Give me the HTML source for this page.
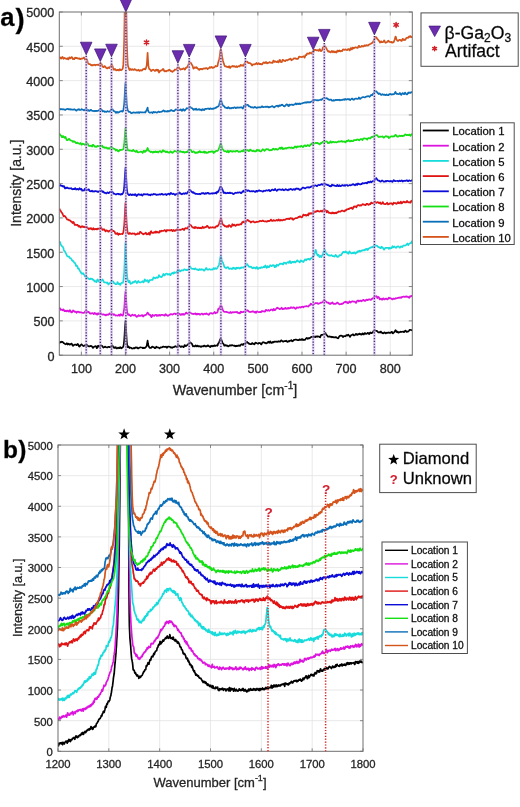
<!DOCTYPE html><html><head><meta charset="utf-8"><style>html,body{margin:0;padding:0;background:#fff;}svg{display:block;filter:blur(0.35px);} text{font-family:"Liberation Sans",sans-serif;fill:#262626;stroke:#262626;stroke-width:0.3px;}</style></head><body>
<svg width="520" height="807" viewBox="0 0 520 807">
<rect width="520" height="807" fill="#fff"/>
<defs><clipPath id="ca"><rect x="59.3" y="12.0" width="353.0" height="343.2"/></clipPath>
<clipPath id="cb"><rect x="58.0" y="445.0" width="305.0" height="306.3"/></clipPath></defs>
<path d="M81.36,12.0V355.2M125.49,12.0V355.2M169.61,12.0V355.2M213.74,12.0V355.2M257.86,12.0V355.2M301.99,12.0V355.2M346.11,12.0V355.2M390.24,12.0V355.2M59.3,320.88H412.3M59.3,286.56H412.3M59.3,252.24H412.3M59.3,217.92H412.3M59.3,183.60H412.3M59.3,149.28H412.3M59.3,114.96H412.3M59.3,80.64H412.3M59.3,46.32H412.3" stroke="#e3e3e3" stroke-width="0.8" fill="none"/>
<path d="M108.83,445.0V751.3M159.67,445.0V751.3M210.50,445.0V751.3M261.33,445.0V751.3M312.17,445.0V751.3M58.0,720.67H363.0M58.0,690.04H363.0M58.0,659.41H363.0M58.0,628.78H363.0M58.0,598.15H363.0M58.0,567.52H363.0M58.0,536.89H363.0M58.0,506.26H363.0M58.0,475.63H363.0" stroke="#e3e3e3" stroke-width="0.8" fill="none"/>
<g clip-path="url(#ca)" fill="none" stroke-width="1.7" stroke-linejoin="round">
<path d="M59.3,342.6 L59.7,342.8 L60.2,342.1 L60.6,341.9 L61.1,342.3 L61.5,342.1 L61.9,341.7 L62.4,341.9 L62.8,342.2 L63.3,342.7 L63.7,343.1 L64.2,343.3 L64.6,343.8 L65.0,343.9 L65.5,344.0 L65.9,344.3 L66.4,343.7 L66.8,343.2 L67.2,343.9 L67.7,344.5 L68.1,344.1 L68.6,343.7 L69.0,343.9 L69.4,344.4 L69.9,344.7 L70.3,344.3 L70.8,343.9 L71.2,343.6 L71.7,343.6 L72.1,344.4 L72.5,345.4 L73.0,345.8 L73.4,345.4 L73.9,345.1 L74.3,344.9 L74.7,344.5 L75.2,344.6 L75.6,344.7 L76.1,344.7 L76.5,345.1 L76.9,345.2 L77.4,344.3 L77.8,344.0 L78.3,344.6 L78.7,345.7 L79.2,346.5 L79.6,346.6 L80.0,346.0 L80.5,345.2 L80.9,344.8 L81.4,344.4 L81.8,344.4 L82.2,345.0 L82.7,345.5 L83.1,345.8 L83.6,346.1 L84.0,346.0 L84.5,345.5 L84.9,345.3 L85.3,345.5 L85.8,345.4 L86.2,344.8 L86.7,344.6 L87.1,345.1 L87.5,345.7 L88.0,346.1 L88.4,346.2 L88.9,346.3 L89.3,346.4 L89.7,346.4 L90.2,346.0 L90.6,345.9 L91.1,346.2 L91.5,346.1 L92.0,346.4 L92.4,347.1 L92.8,347.9 L93.3,347.7 L93.7,347.0 L94.2,346.7 L94.6,346.5 L95.0,346.4 L95.5,346.3 L95.9,346.1 L96.4,347.0 L96.8,348.2 L97.2,347.7 L97.7,346.2 L98.1,345.6 L98.6,346.2 L99.0,346.8 L99.5,346.5 L99.9,346.0 L100.3,346.0 L100.8,345.8 L101.2,345.4 L101.7,345.7 L102.1,346.0 L102.5,346.3 L103.0,347.2 L103.4,347.6 L103.9,347.3 L104.3,347.2 L104.7,346.8 L105.2,346.6 L105.6,346.9 L106.1,347.2 L106.5,347.3 L107.0,347.4 L107.4,347.5 L107.8,347.2 L108.3,346.8 L108.7,346.8 L109.2,346.8 L109.6,347.2 L110.0,347.0 L110.5,346.7 L110.9,347.1 L111.4,346.5 L111.8,345.3 L112.2,345.2 L112.7,345.9 L113.1,347.0 L113.6,347.6 L114.0,347.3 L114.5,347.4 L114.9,348.0 L115.3,347.6 L115.8,347.1 L116.2,347.7 L116.7,348.4 L117.1,348.4 L117.5,348.1 L118.0,347.7 L118.4,347.7 L118.9,348.3 L119.3,348.2 L119.8,347.5 L120.2,347.2 L120.6,347.5 L121.1,348.4 L121.5,348.3 L122.0,347.7 L122.4,347.7 L122.8,347.3 L123.3,346.6 L123.7,344.6 L124.2,340.3 L124.6,334.3 L125.0,326.5 L125.5,320.8 L125.9,326.5 L126.4,335.2 L126.8,341.6 L127.3,345.6 L127.7,347.2 L128.1,346.9 L128.6,346.5 L129.0,347.2 L129.5,348.0 L129.9,347.8 L130.3,347.5 L130.8,347.7 L131.2,347.8 L131.7,348.3 L132.1,348.6 L132.5,348.5 L133.0,348.5 L133.4,348.2 L133.9,347.9 L134.3,348.2 L134.8,348.4 L135.2,347.8 L135.6,347.3 L136.1,347.7 L136.5,347.5 L137.0,347.3 L137.4,348.1 L137.8,348.4 L138.3,348.4 L138.7,348.2 L139.2,347.7 L139.6,347.6 L140.0,347.4 L140.5,347.4 L140.9,347.5 L141.4,347.5 L141.8,347.5 L142.3,347.6 L142.7,348.2 L143.1,348.0 L143.6,347.7 L144.0,348.1 L144.5,347.9 L144.9,347.6 L145.3,347.8 L145.8,347.2 L146.2,346.6 L146.7,345.9 L147.1,343.3 L147.6,340.6 L148.0,343.5 L148.4,345.7 L148.9,346.5 L149.3,347.4 L149.8,347.9 L150.2,347.7 L150.6,347.8 L151.1,347.8 L151.5,347.4 L152.0,346.8 L152.4,346.6 L152.8,347.0 L153.3,347.2 L153.7,347.1 L154.2,347.5 L154.6,348.1 L155.1,348.2 L155.5,347.9 L155.9,347.1 L156.4,346.7 L156.8,347.2 L157.3,347.5 L157.7,347.4 L158.1,347.5 L158.6,347.6 L159.0,347.9 L159.5,348.3 L159.9,348.0 L160.3,347.6 L160.8,347.4 L161.2,347.4 L161.7,347.5 L162.1,347.3 L162.6,347.0 L163.0,346.6 L163.4,346.5 L163.9,346.9 L164.3,347.0 L164.8,346.9 L165.2,346.9 L165.6,346.8 L166.1,346.7 L166.5,347.4 L167.0,347.8 L167.4,347.3 L167.8,346.8 L168.3,346.5 L168.7,346.5 L169.2,346.7 L169.6,346.8 L170.1,347.0 L170.5,347.3 L170.9,347.6 L171.4,347.4 L171.8,347.5 L172.3,347.8 L172.7,347.6 L173.1,347.2 L173.6,347.1 L174.0,347.0 L174.5,346.9 L174.9,346.5 L175.3,346.2 L175.8,346.5 L176.2,346.6 L176.7,346.8 L177.1,347.2 L177.6,346.6 L178.0,345.6 L178.4,345.5 L178.9,345.7 L179.3,345.7 L179.8,346.1 L180.2,346.4 L180.6,346.8 L181.1,346.9 L181.5,346.4 L182.0,346.3 L182.4,346.5 L182.8,346.6 L183.3,347.0 L183.7,347.2 L184.2,346.2 L184.6,345.1 L185.1,345.3 L185.5,346.0 L185.9,346.2 L186.4,345.7 L186.8,345.3 L187.3,345.0 L187.7,344.7 L188.1,344.3 L188.6,343.5 L189.0,343.0 L189.5,342.9 L189.9,342.6 L190.4,342.4 L190.8,342.8 L191.2,343.4 L191.7,343.6 L192.1,344.0 L192.6,345.6 L193.0,346.4 L193.4,346.1 L193.9,346.0 L194.3,346.3 L194.8,346.5 L195.2,346.0 L195.6,345.3 L196.1,345.7 L196.5,346.4 L197.0,346.3 L197.4,345.6 L197.9,345.6 L198.3,346.4 L198.7,346.5 L199.2,346.1 L199.6,346.4 L200.1,346.5 L200.5,346.4 L200.9,346.9 L201.4,346.7 L201.8,346.2 L202.3,346.2 L202.7,346.3 L203.1,346.5 L203.6,346.1 L204.0,345.6 L204.5,345.6 L204.9,346.1 L205.4,346.5 L205.8,346.2 L206.2,346.0 L206.7,346.4 L207.1,346.1 L207.6,345.4 L208.0,345.4 L208.4,345.9 L208.9,346.1 L209.3,346.2 L209.8,346.7 L210.2,347.1 L210.6,346.5 L211.1,345.7 L211.5,345.9 L212.0,346.5 L212.4,346.3 L212.9,345.7 L213.3,345.8 L213.7,346.1 L214.2,345.5 L214.6,345.4 L215.1,345.9 L215.5,345.9 L215.9,345.5 L216.4,345.4 L216.8,345.5 L217.3,345.8 L217.7,345.2 L218.1,343.7 L218.6,343.2 L219.0,342.7 L219.5,341.4 L219.9,339.8 L220.4,338.8 L220.8,338.9 L221.2,339.5 L221.7,340.4 L222.1,341.7 L222.6,342.9 L223.0,343.6 L223.4,343.8 L223.9,344.6 L224.3,345.7 L224.8,345.6 L225.2,345.1 L225.7,345.1 L226.1,345.6 L226.5,345.8 L227.0,345.5 L227.4,345.6 L227.9,346.3 L228.3,346.3 L228.7,346.0 L229.2,345.9 L229.6,345.5 L230.1,345.1 L230.5,345.4 L230.9,345.7 L231.4,345.5 L231.8,345.0 L232.3,345.0 L232.7,345.4 L233.2,345.5 L233.6,345.7 L234.0,345.8 L234.5,345.6 L234.9,345.8 L235.4,346.3 L235.8,346.2 L236.2,345.7 L236.7,346.0 L237.1,346.2 L237.6,345.7 L238.0,345.6 L238.4,345.8 L238.9,345.4 L239.3,345.3 L239.8,345.9 L240.2,345.9 L240.7,345.0 L241.1,344.4 L241.5,344.5 L242.0,344.3 L242.4,344.4 L242.9,345.0 L243.3,344.5 L243.7,343.9 L244.2,343.7 L244.6,343.5 L245.1,343.8 L245.5,343.8 L245.9,342.8 L246.4,342.1 L246.8,341.9 L247.3,342.1 L247.7,342.8 L248.2,342.9 L248.6,343.0 L249.0,343.8 L249.5,343.9 L249.9,343.9 L250.4,344.1 L250.8,344.2 L251.2,344.2 L251.7,343.6 L252.1,343.1 L252.6,343.2 L253.0,343.7 L253.4,344.0 L253.9,343.9 L254.3,344.3 L254.8,343.9 L255.2,342.8 L255.7,342.7 L256.1,342.9 L256.5,343.0 L257.0,343.3 L257.4,343.5 L257.9,343.7 L258.3,343.7 L258.7,343.1 L259.2,342.9 L259.6,343.1 L260.1,343.0 L260.5,343.4 L261.0,344.2 L261.4,344.4 L261.8,343.5 L262.3,342.8 L262.7,342.4 L263.2,342.2 L263.6,342.3 L264.0,342.3 L264.5,342.7 L264.9,343.0 L265.4,342.8 L265.8,343.2 L266.2,343.5 L266.7,343.3 L267.1,342.9 L267.6,342.4 L268.0,342.0 L268.5,341.7 L268.9,341.9 L269.3,342.8 L269.8,342.3 L270.2,341.4 L270.7,342.1 L271.1,342.9 L271.5,342.9 L272.0,342.8 L272.4,342.2 L272.9,341.8 L273.3,342.4 L273.7,342.2 L274.2,341.5 L274.6,341.5 L275.1,341.8 L275.5,341.7 L276.0,341.7 L276.4,341.8 L276.8,341.5 L277.3,341.5 L277.7,341.8 L278.2,341.7 L278.6,341.2 L279.0,341.3 L279.5,341.6 L279.9,341.7 L280.4,341.6 L280.8,340.9 L281.2,340.4 L281.7,340.6 L282.1,340.9 L282.6,341.3 L283.0,341.7 L283.5,341.6 L283.9,341.3 L284.3,341.1 L284.8,341.0 L285.2,341.2 L285.7,341.2 L286.1,340.7 L286.5,341.0 L287.0,341.6 L287.4,342.0 L287.9,341.8 L288.3,341.1 L288.8,341.1 L289.2,341.4 L289.6,341.0 L290.1,340.6 L290.5,340.7 L291.0,340.4 L291.4,340.1 L291.8,340.8 L292.3,341.3 L292.7,341.1 L293.2,340.8 L293.6,340.4 L294.0,339.9 L294.5,339.8 L294.9,339.7 L295.4,339.5 L295.8,339.6 L296.3,339.6 L296.7,339.7 L297.1,340.0 L297.6,340.1 L298.0,340.2 L298.5,340.2 L298.9,340.1 L299.3,339.6 L299.8,339.4 L300.2,339.5 L300.7,339.7 L301.1,340.0 L301.5,339.6 L302.0,339.0 L302.4,339.4 L302.9,340.0 L303.3,339.7 L303.8,339.5 L304.2,339.9 L304.6,340.0 L305.1,339.8 L305.5,339.2 L306.0,338.5 L306.4,338.1 L306.8,337.9 L307.3,338.2 L307.7,338.9 L308.2,338.5 L308.6,338.0 L309.0,338.2 L309.5,338.3 L309.9,338.1 L310.4,337.7 L310.8,337.2 L311.3,336.9 L311.7,336.9 L312.1,337.0 L312.6,337.2 L313.0,337.3 L313.5,336.8 L313.9,336.4 L314.3,336.5 L314.8,337.2 L315.2,337.1 L315.7,336.5 L316.1,336.3 L316.5,336.6 L317.0,336.8 L317.4,336.4 L317.9,336.3 L318.3,336.5 L318.8,336.6 L319.2,336.8 L319.6,337.1 L320.1,337.3 L320.5,336.4 L321.0,335.2 L321.4,334.9 L321.8,334.9 L322.3,334.9 L322.7,334.8 L323.2,334.6 L323.6,334.2 L324.1,333.8 L324.5,333.8 L324.9,333.3 L325.4,332.8 L325.8,333.9 L326.3,334.9 L326.7,335.0 L327.1,335.4 L327.6,336.2 L328.0,336.7 L328.5,336.7 L328.9,336.6 L329.3,336.5 L329.8,336.4 L330.2,336.7 L330.7,337.0 L331.1,336.7 L331.6,336.9 L332.0,337.3 L332.4,337.1 L332.9,336.9 L333.3,337.1 L333.8,337.4 L334.2,337.4 L334.6,337.4 L335.1,337.5 L335.5,337.2 L336.0,337.1 L336.4,337.2 L336.8,337.7 L337.3,338.1 L337.7,338.2 L338.2,338.3 L338.6,337.7 L339.1,336.7 L339.5,336.1 L339.9,335.9 L340.4,335.8 L340.8,335.6 L341.3,335.5 L341.7,335.9 L342.1,335.9 L342.6,336.4 L343.0,337.1 L343.5,336.6 L343.9,336.0 L344.3,336.0 L344.8,336.2 L345.2,336.3 L345.7,336.0 L346.1,335.4 L346.6,335.0 L347.0,335.2 L347.4,335.5 L347.9,334.9 L348.3,334.6 L348.8,335.3 L349.2,335.8 L349.6,336.4 L350.1,336.9 L350.5,336.2 L351.0,335.3 L351.4,335.1 L351.8,335.0 L352.3,334.7 L352.7,334.3 L353.2,334.4 L353.6,335.2 L354.1,335.5 L354.5,335.3 L354.9,335.1 L355.4,334.5 L355.8,333.8 L356.3,334.1 L356.7,334.6 L357.1,335.0 L357.6,334.8 L358.0,334.0 L358.5,334.1 L358.9,334.3 L359.4,333.6 L359.8,333.8 L360.2,334.3 L360.7,334.2 L361.1,334.5 L361.6,334.7 L362.0,334.0 L362.4,333.4 L362.9,333.6 L363.3,334.5 L363.8,334.5 L364.2,333.8 L364.6,333.1 L365.1,333.0 L365.5,333.8 L366.0,334.0 L366.4,333.7 L366.9,333.5 L367.3,333.2 L367.7,332.8 L368.2,333.1 L368.6,333.8 L369.1,334.1 L369.5,333.8 L369.9,332.8 L370.4,332.5 L370.8,333.0 L371.3,333.2 L371.7,333.0 L372.1,332.7 L372.6,332.6 L373.0,332.0 L373.5,331.0 L373.9,330.6 L374.4,330.5 L374.8,330.3 L375.2,330.4 L375.7,330.5 L376.1,330.9 L376.6,330.9 L377.0,330.8 L377.4,331.5 L377.9,332.0 L378.3,332.4 L378.8,332.5 L379.2,332.2 L379.6,332.4 L380.1,332.5 L380.5,331.6 L381.0,331.7 L381.4,332.6 L381.9,332.6 L382.3,332.7 L382.7,333.2 L383.2,333.4 L383.6,333.1 L384.1,332.6 L384.5,332.3 L384.9,332.7 L385.4,333.3 L385.8,333.3 L386.3,332.8 L386.7,332.7 L387.1,333.0 L387.6,332.7 L388.0,332.5 L388.5,332.8 L388.9,332.6 L389.4,332.7 L389.8,333.0 L390.2,332.9 L390.7,332.6 L391.1,332.3 L391.6,331.8 L392.0,331.9 L392.4,333.0 L392.9,333.4 L393.3,333.0 L393.8,332.6 L394.2,332.2 L394.7,331.6 L395.1,330.8 L395.5,330.2 L396.0,330.6 L396.4,331.8 L396.9,332.2 L397.3,331.7 L397.7,331.7 L398.2,332.6 L398.6,332.7 L399.1,332.1 L399.5,332.2 L399.9,332.3 L400.4,331.7 L400.8,331.6 L401.3,332.0 L401.7,332.0 L402.2,331.8 L402.6,331.7 L403.0,331.5 L403.5,331.6 L403.9,332.1 L404.4,331.9 L404.8,331.1 L405.2,330.8 L405.7,330.6 L406.1,331.2 L406.6,331.9 L407.0,331.5 L407.4,331.5 L407.9,331.8 L408.3,331.3 L408.8,331.0 L409.2,330.5 L409.7,329.8 L410.1,329.8 L410.5,330.0 L411.0,330.0 L411.4,330.1 L411.9,330.3 L412.3,330.3" stroke="#000000"/>
<path d="M59.3,308.4 L59.7,308.1 L60.2,308.8 L60.6,309.9 L61.1,310.0 L61.5,309.6 L61.9,309.5 L62.4,310.0 L62.8,310.3 L63.3,309.4 L63.7,309.5 L64.2,310.8 L64.6,311.2 L65.0,311.1 L65.5,310.9 L65.9,310.7 L66.4,311.2 L66.8,311.4 L67.2,310.7 L67.7,310.6 L68.1,311.1 L68.6,311.5 L69.0,311.6 L69.4,310.7 L69.9,310.1 L70.3,310.7 L70.8,311.8 L71.2,312.4 L71.7,312.5 L72.1,312.3 L72.5,311.3 L73.0,310.4 L73.4,310.6 L73.9,311.2 L74.3,311.5 L74.7,311.8 L75.2,311.7 L75.6,311.6 L76.1,312.3 L76.5,312.8 L76.9,312.1 L77.4,311.7 L77.8,312.0 L78.3,311.7 L78.7,311.9 L79.2,312.4 L79.6,312.1 L80.0,312.2 L80.5,312.5 L80.9,312.3 L81.4,312.4 L81.8,312.6 L82.2,312.7 L82.7,312.8 L83.1,312.8 L83.6,312.8 L84.0,312.9 L84.5,312.5 L84.9,311.6 L85.3,311.3 L85.8,310.9 L86.2,310.4 L86.7,310.9 L87.1,311.9 L87.5,312.3 L88.0,312.0 L88.4,311.8 L88.9,312.0 L89.3,312.5 L89.7,313.3 L90.2,313.7 L90.6,313.4 L91.1,313.6 L91.5,313.5 L92.0,313.0 L92.4,313.1 L92.8,313.2 L93.3,313.6 L93.7,314.1 L94.2,313.6 L94.6,312.8 L95.0,313.2 L95.5,313.9 L95.9,313.6 L96.4,313.6 L96.8,314.5 L97.2,314.7 L97.7,314.0 L98.1,313.2 L98.6,313.6 L99.0,314.1 L99.5,313.6 L99.9,313.0 L100.3,313.1 L100.8,313.2 L101.2,313.6 L101.7,314.3 L102.1,314.4 L102.5,314.6 L103.0,314.5 L103.4,314.3 L103.9,314.6 L104.3,315.0 L104.7,314.8 L105.2,314.7 L105.6,315.3 L106.1,315.3 L106.5,314.7 L107.0,314.4 L107.4,314.8 L107.8,314.9 L108.3,314.7 L108.7,314.4 L109.2,313.7 L109.6,313.3 L110.0,313.7 L110.5,314.4 L110.9,314.4 L111.4,313.9 L111.8,313.9 L112.2,313.8 L112.7,313.9 L113.1,314.7 L113.6,314.8 L114.0,314.3 L114.5,314.5 L114.9,314.9 L115.3,315.2 L115.8,315.6 L116.2,315.5 L116.7,315.4 L117.1,315.5 L117.5,315.6 L118.0,315.6 L118.4,315.2 L118.9,314.6 L119.3,315.1 L119.8,315.8 L120.2,315.3 L120.6,314.2 L121.1,314.4 L121.5,315.2 L122.0,315.2 L122.4,315.5 L122.8,315.7 L123.3,314.0 L123.7,311.6 L124.2,309.0 L124.6,303.7 L125.0,296.1 L125.5,291.6 L125.9,296.6 L126.4,303.9 L126.8,309.5 L127.3,312.8 L127.7,314.5 L128.1,314.8 L128.6,314.3 L129.0,314.4 L129.5,315.2 L129.9,315.3 L130.3,315.6 L130.8,316.1 L131.2,315.8 L131.7,315.2 L132.1,314.7 L132.5,314.5 L133.0,315.0 L133.4,315.5 L133.9,315.5 L134.3,315.4 L134.8,314.9 L135.2,314.9 L135.6,315.6 L136.1,316.2 L136.5,316.8 L137.0,316.7 L137.4,316.2 L137.8,316.3 L138.3,315.5 L138.7,315.1 L139.2,315.7 L139.6,316.0 L140.0,315.8 L140.5,315.7 L140.9,315.8 L141.4,315.6 L141.8,315.2 L142.3,315.2 L142.7,315.9 L143.1,316.6 L143.6,316.2 L144.0,315.4 L144.5,315.2 L144.9,315.3 L145.3,315.0 L145.8,314.8 L146.2,314.8 L146.7,314.2 L147.1,313.3 L147.6,312.6 L148.0,313.1 L148.4,313.7 L148.9,314.4 L149.3,314.8 L149.8,314.7 L150.2,314.8 L150.6,315.5 L151.1,316.6 L151.5,317.2 L152.0,316.3 L152.4,314.9 L152.8,315.1 L153.3,315.7 L153.7,315.7 L154.2,315.8 L154.6,315.4 L155.1,315.0 L155.5,315.0 L155.9,314.8 L156.4,315.1 L156.8,315.9 L157.3,315.6 L157.7,315.2 L158.1,315.7 L158.6,315.6 L159.0,314.9 L159.5,314.9 L159.9,315.6 L160.3,315.7 L160.8,315.1 L161.2,314.8 L161.7,315.0 L162.1,314.9 L162.6,314.9 L163.0,315.1 L163.4,315.1 L163.9,315.2 L164.3,315.7 L164.8,315.6 L165.2,314.7 L165.6,314.1 L166.1,314.6 L166.5,315.2 L167.0,315.2 L167.4,315.4 L167.8,315.8 L168.3,315.7 L168.7,315.2 L169.2,315.0 L169.6,314.9 L170.1,314.6 L170.5,314.3 L170.9,314.1 L171.4,314.1 L171.8,314.4 L172.3,314.6 L172.7,314.5 L173.1,314.3 L173.6,313.9 L174.0,313.6 L174.5,313.6 L174.9,313.5 L175.3,313.8 L175.8,314.3 L176.2,314.1 L176.7,313.7 L177.1,313.7 L177.6,313.8 L178.0,313.7 L178.4,313.9 L178.9,313.9 L179.3,313.7 L179.8,314.0 L180.2,314.7 L180.6,315.0 L181.1,314.9 L181.5,314.2 L182.0,313.8 L182.4,314.6 L182.8,314.6 L183.3,314.0 L183.7,314.6 L184.2,314.7 L184.6,314.1 L185.1,314.0 L185.5,313.6 L185.9,312.8 L186.4,312.6 L186.8,313.1 L187.3,313.5 L187.7,313.6 L188.1,313.6 L188.6,313.2 L189.0,312.7 L189.5,312.5 L189.9,312.4 L190.4,312.7 L190.8,313.2 L191.2,313.3 L191.7,313.5 L192.1,313.8 L192.6,313.8 L193.0,313.9 L193.4,314.1 L193.9,313.9 L194.3,314.0 L194.8,313.9 L195.2,313.3 L195.6,313.8 L196.1,314.5 L196.5,314.0 L197.0,313.6 L197.4,314.3 L197.9,314.2 L198.3,313.9 L198.7,313.9 L199.2,313.9 L199.6,314.4 L200.1,314.7 L200.5,314.5 L200.9,314.1 L201.4,313.7 L201.8,313.6 L202.3,313.8 L202.7,314.2 L203.1,314.7 L203.6,314.3 L204.0,313.8 L204.5,313.9 L204.9,313.6 L205.4,313.8 L205.8,314.1 L206.2,313.5 L206.7,313.4 L207.1,314.0 L207.6,314.3 L208.0,314.3 L208.4,314.6 L208.9,314.9 L209.3,314.1 L209.8,313.3 L210.2,313.4 L210.6,313.3 L211.1,313.0 L211.5,313.3 L212.0,313.7 L212.4,313.8 L212.9,313.6 L213.3,313.3 L213.7,313.1 L214.2,312.5 L214.6,312.0 L215.1,312.7 L215.5,313.3 L215.9,312.9 L216.4,312.7 L216.8,312.7 L217.3,312.6 L217.7,311.4 L218.1,309.5 L218.6,308.5 L219.0,308.8 L219.5,308.8 L219.9,307.4 L220.4,305.8 L220.8,305.4 L221.2,305.7 L221.7,306.5 L222.1,307.8 L222.6,309.2 L223.0,310.4 L223.4,311.2 L223.9,311.7 L224.3,311.8 L224.8,311.8 L225.2,311.8 L225.7,312.0 L226.1,312.0 L226.5,311.9 L227.0,312.1 L227.4,312.2 L227.9,312.3 L228.3,312.7 L228.7,312.6 L229.2,312.6 L229.6,313.0 L230.1,312.7 L230.5,311.9 L230.9,312.3 L231.4,312.9 L231.8,312.7 L232.3,312.4 L232.7,312.0 L233.2,312.1 L233.6,312.5 L234.0,312.4 L234.5,312.2 L234.9,312.2 L235.4,312.0 L235.8,312.0 L236.2,312.2 L236.7,312.3 L237.1,311.9 L237.6,312.3 L238.0,313.0 L238.4,313.1 L238.9,312.8 L239.3,312.8 L239.8,313.3 L240.2,312.9 L240.7,311.7 L241.1,311.7 L241.5,312.3 L242.0,312.2 L242.4,312.0 L242.9,312.2 L243.3,312.0 L243.7,311.7 L244.2,311.6 L244.6,311.4 L245.1,311.2 L245.5,311.6 L245.9,311.2 L246.4,310.4 L246.8,310.6 L247.3,310.4 L247.7,310.3 L248.2,310.9 L248.6,311.4 L249.0,311.7 L249.5,311.9 L249.9,311.9 L250.4,311.9 L250.8,312.1 L251.2,311.9 L251.7,311.6 L252.1,311.7 L252.6,311.6 L253.0,311.2 L253.4,311.4 L253.9,311.8 L254.3,312.3 L254.8,312.4 L255.2,311.7 L255.7,312.0 L256.1,312.8 L256.5,312.0 L257.0,311.4 L257.4,311.5 L257.9,311.8 L258.3,312.0 L258.7,312.1 L259.2,312.2 L259.6,312.1 L260.1,311.9 L260.5,311.9 L261.0,312.1 L261.4,311.6 L261.8,311.1 L262.3,311.0 L262.7,311.3 L263.2,311.3 L263.6,311.3 L264.0,311.2 L264.5,311.5 L264.9,311.7 L265.4,311.1 L265.8,310.0 L266.2,309.8 L266.7,310.3 L267.1,310.4 L267.6,310.6 L268.0,310.5 L268.5,310.0 L268.9,310.4 L269.3,310.8 L269.8,310.5 L270.2,310.3 L270.7,309.8 L271.1,309.5 L271.5,309.7 L272.0,309.7 L272.4,310.1 L272.9,310.5 L273.3,309.9 L273.7,308.8 L274.2,309.3 L274.6,310.2 L275.1,310.2 L275.5,309.5 L276.0,308.9 L276.4,308.5 L276.8,308.0 L277.3,307.7 L277.7,308.1 L278.2,308.2 L278.6,308.3 L279.0,308.7 L279.5,309.2 L279.9,309.2 L280.4,308.8 L280.8,308.7 L281.2,308.1 L281.7,307.7 L282.1,308.6 L282.6,309.1 L283.0,309.1 L283.5,308.9 L283.9,308.6 L284.3,308.8 L284.8,308.5 L285.2,307.9 L285.7,308.1 L286.1,308.9 L286.5,308.8 L287.0,308.3 L287.4,308.6 L287.9,308.1 L288.3,307.8 L288.8,308.6 L289.2,308.5 L289.6,308.1 L290.1,308.1 L290.5,307.6 L291.0,307.2 L291.4,307.6 L291.8,307.9 L292.3,308.0 L292.7,307.9 L293.2,307.4 L293.6,307.3 L294.0,307.5 L294.5,307.9 L294.9,308.4 L295.4,308.8 L295.8,308.9 L296.3,308.1 L296.7,307.3 L297.1,307.4 L297.6,307.8 L298.0,307.9 L298.5,307.6 L298.9,307.4 L299.3,307.5 L299.8,307.1 L300.2,307.2 L300.7,307.7 L301.1,307.2 L301.5,306.9 L302.0,306.9 L302.4,306.7 L302.9,307.1 L303.3,307.3 L303.8,306.8 L304.2,306.6 L304.6,306.5 L305.1,306.4 L305.5,306.4 L306.0,306.3 L306.4,306.1 L306.8,306.3 L307.3,306.3 L307.7,306.3 L308.2,306.6 L308.6,306.4 L309.0,305.5 L309.5,305.1 L309.9,305.2 L310.4,304.5 L310.8,303.7 L311.3,303.9 L311.7,304.2 L312.1,304.7 L312.6,305.2 L313.0,304.7 L313.5,304.3 L313.9,304.2 L314.3,304.0 L314.8,303.6 L315.2,303.2 L315.7,303.1 L316.1,303.2 L316.5,303.2 L317.0,303.1 L317.4,303.0 L317.9,303.7 L318.3,303.9 L318.8,303.5 L319.2,303.5 L319.6,303.5 L320.1,303.0 L320.5,302.7 L321.0,302.7 L321.4,302.8 L321.8,302.7 L322.3,302.2 L322.7,302.0 L323.2,301.6 L323.6,300.7 L324.1,300.2 L324.5,300.2 L324.9,300.5 L325.4,301.0 L325.8,301.5 L326.3,301.9 L326.7,302.3 L327.1,302.7 L327.6,302.6 L328.0,302.4 L328.5,303.1 L328.9,303.5 L329.3,303.1 L329.8,303.7 L330.2,304.0 L330.7,303.2 L331.1,303.2 L331.6,303.3 L332.0,302.9 L332.4,302.4 L332.9,302.8 L333.3,303.8 L333.8,303.9 L334.2,303.9 L334.6,303.8 L335.1,303.7 L335.5,303.9 L336.0,303.9 L336.4,303.3 L336.8,302.9 L337.3,302.6 L337.7,302.6 L338.2,303.3 L338.6,303.8 L339.1,304.0 L339.5,304.4 L339.9,304.1 L340.4,304.0 L340.8,304.1 L341.3,304.1 L341.7,303.8 L342.1,303.5 L342.6,303.8 L343.0,303.6 L343.5,303.0 L343.9,302.6 L344.3,302.2 L344.8,301.9 L345.2,301.6 L345.7,302.0 L346.1,302.7 L346.6,302.3 L347.0,302.0 L347.4,302.7 L347.9,303.3 L348.3,303.1 L348.8,302.4 L349.2,301.5 L349.6,301.4 L350.1,302.1 L350.5,302.5 L351.0,302.1 L351.4,301.7 L351.8,301.5 L352.3,301.3 L352.7,301.3 L353.2,301.6 L353.6,301.7 L354.1,301.7 L354.5,301.6 L354.9,301.7 L355.4,302.3 L355.8,302.9 L356.3,302.7 L356.7,301.6 L357.1,300.8 L357.6,300.6 L358.0,300.4 L358.5,300.9 L358.9,301.4 L359.4,301.0 L359.8,300.8 L360.2,300.6 L360.7,300.6 L361.1,301.1 L361.6,301.3 L362.0,300.7 L362.4,300.4 L362.9,300.4 L363.3,299.9 L363.8,299.8 L364.2,300.5 L364.6,300.8 L365.1,300.9 L365.5,300.7 L366.0,299.9 L366.4,299.6 L366.9,299.8 L367.3,300.1 L367.7,300.1 L368.2,299.6 L368.6,299.4 L369.1,299.6 L369.5,299.4 L369.9,299.3 L370.4,299.8 L370.8,300.0 L371.3,299.6 L371.7,299.0 L372.1,298.7 L372.6,298.7 L373.0,298.3 L373.5,297.6 L373.9,297.3 L374.4,297.3 L374.8,296.8 L375.2,296.4 L375.7,296.5 L376.1,296.4 L376.6,296.2 L377.0,297.2 L377.4,298.0 L377.9,297.4 L378.3,296.9 L378.8,297.2 L379.2,298.1 L379.6,299.3 L380.1,299.3 L380.5,298.8 L381.0,298.7 L381.4,299.1 L381.9,299.6 L382.3,299.6 L382.7,299.1 L383.2,298.3 L383.6,298.3 L384.1,299.2 L384.5,299.5 L384.9,299.2 L385.4,298.8 L385.8,298.6 L386.3,298.7 L386.7,299.0 L387.1,299.3 L387.6,299.4 L388.0,299.0 L388.5,298.1 L388.9,297.6 L389.4,298.0 L389.8,298.3 L390.2,298.0 L390.7,298.2 L391.1,298.5 L391.6,298.7 L392.0,299.2 L392.4,299.5 L392.9,299.1 L393.3,298.6 L393.8,298.6 L394.2,298.9 L394.7,299.0 L395.1,298.8 L395.5,298.2 L396.0,298.4 L396.4,298.5 L396.9,298.0 L397.3,298.1 L397.7,298.0 L398.2,297.6 L398.6,297.8 L399.1,297.9 L399.5,297.7 L399.9,297.4 L400.4,297.3 L400.8,297.9 L401.3,297.7 L401.7,297.1 L402.2,296.9 L402.6,296.9 L403.0,296.8 L403.5,296.6 L403.9,296.8 L404.4,296.9 L404.8,296.5 L405.2,296.7 L405.7,296.8 L406.1,296.5 L406.6,296.4 L407.0,296.8 L407.4,296.8 L407.9,296.7 L408.3,296.9 L408.8,297.5 L409.2,297.9 L409.7,297.1 L410.1,296.1 L410.5,296.2 L411.0,296.5 L411.4,296.1 L411.9,295.8 L412.3,295.9" stroke="#dd14dd"/>
<path d="M59.3,242.0 L59.7,241.8 L60.2,242.4 L60.6,244.1 L61.1,245.1 L61.5,245.5 L61.9,246.2 L62.4,246.5 L62.8,246.9 L63.3,247.8 L63.7,249.4 L64.2,250.9 L64.6,250.9 L65.0,251.5 L65.5,252.7 L65.9,253.4 L66.4,254.3 L66.8,255.4 L67.2,256.1 L67.7,256.3 L68.1,256.7 L68.6,256.7 L69.0,256.4 L69.4,257.3 L69.9,258.2 L70.3,258.0 L70.8,258.0 L71.2,258.9 L71.7,259.7 L72.1,260.5 L72.5,260.9 L73.0,260.7 L73.4,261.2 L73.9,262.1 L74.3,262.8 L74.7,263.0 L75.2,263.1 L75.6,264.6 L76.1,266.0 L76.5,265.8 L76.9,265.6 L77.4,266.4 L77.8,268.1 L78.3,268.7 L78.7,268.5 L79.2,269.5 L79.6,270.4 L80.0,271.0 L80.5,271.8 L80.9,272.6 L81.4,273.3 L81.8,273.7 L82.2,273.8 L82.7,273.2 L83.1,273.1 L83.6,274.1 L84.0,274.6 L84.5,275.0 L84.9,276.2 L85.3,276.7 L85.8,276.7 L86.2,276.8 L86.7,276.8 L87.1,277.4 L87.5,278.1 L88.0,278.1 L88.4,278.5 L88.9,278.9 L89.3,279.2 L89.7,279.3 L90.2,278.7 L90.6,278.5 L91.1,279.1 L91.5,278.9 L92.0,278.6 L92.4,279.3 L92.8,279.8 L93.3,279.7 L93.7,280.0 L94.2,280.9 L94.6,281.4 L95.0,281.2 L95.5,281.0 L95.9,281.4 L96.4,282.2 L96.8,281.6 L97.2,279.9 L97.7,279.4 L98.1,280.0 L98.6,281.1 L99.0,281.7 L99.5,281.0 L99.9,281.0 L100.3,281.5 L100.8,281.1 L101.2,280.6 L101.7,280.3 L102.1,280.0 L102.5,279.5 L103.0,280.1 L103.4,281.2 L103.9,282.1 L104.3,282.5 L104.7,282.3 L105.2,282.4 L105.6,282.5 L106.1,282.5 L106.5,282.8 L107.0,282.9 L107.4,282.5 L107.8,283.2 L108.3,284.5 L108.7,284.3 L109.2,283.6 L109.6,283.5 L110.0,282.9 L110.5,282.3 L110.9,282.2 L111.4,281.8 L111.8,281.1 L112.2,281.4 L112.7,281.7 L113.1,281.4 L113.6,282.2 L114.0,283.2 L114.5,283.1 L114.9,283.4 L115.3,284.1 L115.8,284.2 L116.2,284.0 L116.7,284.2 L117.1,283.3 L117.5,282.1 L118.0,282.7 L118.4,283.7 L118.9,284.2 L119.3,283.8 L119.8,283.8 L120.2,284.9 L120.6,284.4 L121.1,283.2 L121.5,283.0 L122.0,282.6 L122.4,282.6 L122.8,282.9 L123.3,281.2 L123.7,277.8 L124.2,272.5 L124.6,263.3 L125.0,250.7 L125.5,242.7 L125.9,251.0 L126.4,263.0 L126.8,272.4 L127.3,278.0 L127.7,280.0 L128.1,280.8 L128.6,282.1 L129.0,282.1 L129.5,280.8 L129.9,281.8 L130.3,283.6 L130.8,283.9 L131.2,283.5 L131.7,283.0 L132.1,283.2 L132.5,282.7 L133.0,281.9 L133.4,282.4 L133.9,282.5 L134.3,281.9 L134.8,281.4 L135.2,281.0 L135.6,281.3 L136.1,282.0 L136.5,282.6 L137.0,283.0 L137.4,282.6 L137.8,281.7 L138.3,281.0 L138.7,281.4 L139.2,282.1 L139.6,282.4 L140.0,282.5 L140.5,282.5 L140.9,282.2 L141.4,282.0 L141.8,281.9 L142.3,281.4 L142.7,281.2 L143.1,281.9 L143.6,282.4 L144.0,281.6 L144.5,279.9 L144.9,279.4 L145.3,280.2 L145.8,281.0 L146.2,281.1 L146.7,280.4 L147.1,280.2 L147.6,280.3 L148.0,281.1 L148.4,282.4 L148.9,282.1 L149.3,280.7 L149.8,280.1 L150.2,280.2 L150.6,280.0 L151.1,280.0 L151.5,280.0 L152.0,279.6 L152.4,280.0 L152.8,279.6 L153.3,277.8 L153.7,277.3 L154.2,277.7 L154.6,277.8 L155.1,278.3 L155.5,278.3 L155.9,277.7 L156.4,277.3 L156.8,277.6 L157.3,277.8 L157.7,277.5 L158.1,277.6 L158.6,276.7 L159.0,275.2 L159.5,275.6 L159.9,276.6 L160.3,276.7 L160.8,276.9 L161.2,277.1 L161.7,276.9 L162.1,276.4 L162.6,275.7 L163.0,274.7 L163.4,274.0 L163.9,274.4 L164.3,275.3 L164.8,275.3 L165.2,274.6 L165.6,274.0 L166.1,273.8 L166.5,273.7 L167.0,273.7 L167.4,274.3 L167.8,274.7 L168.3,274.5 L168.7,274.2 L169.2,273.8 L169.6,274.3 L170.1,275.2 L170.5,275.2 L170.9,274.3 L171.4,273.6 L171.8,273.4 L172.3,273.0 L172.7,272.8 L173.1,273.5 L173.6,273.7 L174.0,272.4 L174.5,272.2 L174.9,272.8 L175.3,272.7 L175.8,272.6 L176.2,272.6 L176.7,272.0 L177.1,271.0 L177.6,271.1 L178.0,271.5 L178.4,271.3 L178.9,270.6 L179.3,270.1 L179.8,270.9 L180.2,271.4 L180.6,271.2 L181.1,270.7 L181.5,270.3 L182.0,270.2 L182.4,270.4 L182.8,270.5 L183.3,270.5 L183.7,269.9 L184.2,269.3 L184.6,269.4 L185.1,269.6 L185.5,269.8 L185.9,270.1 L186.4,270.1 L186.8,269.7 L187.3,269.9 L187.7,270.2 L188.1,269.8 L188.6,269.0 L189.0,268.1 L189.5,267.1 L189.9,266.3 L190.4,266.8 L190.8,267.8 L191.2,268.4 L191.7,268.7 L192.1,268.8 L192.6,268.8 L193.0,269.0 L193.4,268.8 L193.9,268.7 L194.3,269.3 L194.8,269.0 L195.2,268.3 L195.6,268.7 L196.1,269.3 L196.5,269.3 L197.0,269.7 L197.4,269.8 L197.9,269.5 L198.3,270.0 L198.7,270.2 L199.2,269.6 L199.6,269.0 L200.1,269.2 L200.5,269.8 L200.9,269.9 L201.4,269.6 L201.8,269.2 L202.3,269.4 L202.7,269.7 L203.1,269.7 L203.6,270.2 L204.0,270.7 L204.5,270.5 L204.9,269.7 L205.4,269.3 L205.8,268.6 L206.2,267.9 L206.7,268.6 L207.1,269.5 L207.6,269.7 L208.0,269.7 L208.4,269.6 L208.9,269.2 L209.3,269.1 L209.8,269.3 L210.2,269.6 L210.6,269.7 L211.1,269.6 L211.5,269.4 L212.0,269.4 L212.4,269.7 L212.9,269.5 L213.3,268.6 L213.7,268.1 L214.2,268.5 L214.6,269.0 L215.1,268.6 L215.5,268.1 L215.9,268.6 L216.4,268.8 L216.8,268.4 L217.3,268.1 L217.7,267.3 L218.1,266.3 L218.6,265.9 L219.0,265.0 L219.5,262.2 L219.9,259.5 L220.4,257.3 L220.8,255.9 L221.2,257.0 L221.7,259.9 L222.1,261.9 L222.6,262.1 L223.0,262.7 L223.4,264.0 L223.9,265.3 L224.3,266.9 L224.8,267.5 L225.2,267.3 L225.7,267.7 L226.1,268.3 L226.5,267.8 L227.0,267.4 L227.4,267.5 L227.9,267.2 L228.3,267.6 L228.7,268.5 L229.2,269.0 L229.6,268.8 L230.1,268.4 L230.5,268.6 L230.9,268.4 L231.4,268.5 L231.8,269.2 L232.3,268.8 L232.7,268.1 L233.2,267.6 L233.6,268.1 L234.0,268.6 L234.5,268.1 L234.9,268.1 L235.4,269.0 L235.8,269.1 L236.2,267.9 L236.7,267.7 L237.1,268.4 L237.6,268.0 L238.0,267.6 L238.4,267.8 L238.9,268.0 L239.3,268.6 L239.8,268.2 L240.2,267.6 L240.7,268.3 L241.1,268.1 L241.5,267.3 L242.0,267.4 L242.4,267.5 L242.9,267.7 L243.3,267.8 L243.7,267.2 L244.2,267.1 L244.6,266.9 L245.1,266.2 L245.5,265.8 L245.9,265.5 L246.4,264.9 L246.8,264.0 L247.3,264.0 L247.7,264.9 L248.2,265.8 L248.6,266.3 L249.0,266.9 L249.5,266.9 L249.9,266.6 L250.4,266.9 L250.8,266.8 L251.2,266.7 L251.7,267.3 L252.1,268.0 L252.6,268.3 L253.0,268.2 L253.4,267.7 L253.9,267.4 L254.3,267.8 L254.8,267.9 L255.2,267.8 L255.7,268.5 L256.1,268.1 L256.5,267.1 L257.0,267.0 L257.4,267.9 L257.9,269.0 L258.3,268.7 L258.7,268.1 L259.2,268.0 L259.6,267.7 L260.1,268.1 L260.5,268.0 L261.0,267.3 L261.4,267.2 L261.8,267.6 L262.3,267.7 L262.7,267.5 L263.2,267.1 L263.6,266.6 L264.0,267.1 L264.5,267.3 L264.9,266.1 L265.4,265.5 L265.8,266.2 L266.2,267.3 L266.7,267.8 L267.1,267.2 L267.6,266.1 L268.0,266.4 L268.5,267.2 L268.9,267.2 L269.3,267.0 L269.8,265.9 L270.2,265.2 L270.7,265.5 L271.1,265.7 L271.5,266.1 L272.0,266.0 L272.4,265.3 L272.9,265.2 L273.3,265.4 L273.7,265.1 L274.2,266.1 L274.6,267.1 L275.1,265.9 L275.5,265.7 L276.0,266.8 L276.4,265.9 L276.8,264.7 L277.3,265.0 L277.7,265.6 L278.2,265.6 L278.6,265.1 L279.0,264.7 L279.5,264.3 L279.9,263.7 L280.4,263.6 L280.8,264.0 L281.2,263.9 L281.7,263.7 L282.1,263.7 L282.6,263.9 L283.0,264.6 L283.5,263.8 L283.9,262.5 L284.3,262.7 L284.8,263.0 L285.2,262.8 L285.7,263.4 L286.1,263.8 L286.5,263.1 L287.0,262.6 L287.4,262.5 L287.9,262.1 L288.3,262.3 L288.8,262.9 L289.2,262.5 L289.6,261.1 L290.1,261.1 L290.5,262.6 L291.0,263.1 L291.4,262.6 L291.8,262.0 L292.3,261.8 L292.7,261.9 L293.2,262.4 L293.6,262.4 L294.0,261.6 L294.5,261.7 L294.9,262.4 L295.4,262.5 L295.8,261.8 L296.3,261.4 L296.7,261.2 L297.1,260.3 L297.6,260.3 L298.0,261.1 L298.5,261.5 L298.9,261.6 L299.3,261.8 L299.8,262.4 L300.2,261.8 L300.7,260.4 L301.1,260.4 L301.5,261.0 L302.0,261.3 L302.4,261.1 L302.9,261.5 L303.3,262.1 L303.8,261.4 L304.2,260.5 L304.6,260.0 L305.1,259.3 L305.5,259.5 L306.0,260.4 L306.4,260.2 L306.8,259.4 L307.3,259.0 L307.7,259.1 L308.2,259.2 L308.6,258.7 L309.0,258.8 L309.5,259.7 L309.9,259.8 L310.4,259.0 L310.8,258.4 L311.3,258.2 L311.7,258.0 L312.1,257.7 L312.6,256.8 L313.0,255.8 L313.5,255.8 L313.9,255.8 L314.3,254.0 L314.8,252.3 L315.2,251.0 L315.7,249.8 L316.1,251.3 L316.5,253.4 L317.0,254.0 L317.4,255.2 L317.9,255.7 L318.3,254.9 L318.8,255.1 L319.2,256.4 L319.6,257.0 L320.1,256.6 L320.5,256.0 L321.0,256.4 L321.4,257.1 L321.8,256.1 L322.3,255.1 L322.7,254.6 L323.2,253.2 L323.6,251.6 L324.1,250.5 L324.5,249.5 L324.9,249.9 L325.4,251.5 L325.8,252.9 L326.3,253.2 L326.7,253.4 L327.1,254.5 L327.6,254.8 L328.0,254.8 L328.5,255.4 L328.9,255.6 L329.3,255.3 L329.8,255.4 L330.2,255.7 L330.7,255.4 L331.1,255.2 L331.6,255.2 L332.0,255.5 L332.4,256.1 L332.9,256.0 L333.3,256.0 L333.8,256.2 L334.2,256.5 L334.6,256.6 L335.1,255.6 L335.5,254.9 L336.0,255.2 L336.4,255.7 L336.8,256.5 L337.3,256.9 L337.7,256.7 L338.2,256.8 L338.6,256.6 L339.1,255.8 L339.5,255.3 L339.9,255.1 L340.4,255.2 L340.8,255.3 L341.3,254.8 L341.7,254.0 L342.1,253.5 L342.6,252.9 L343.0,252.0 L343.5,251.8 L343.9,252.1 L344.3,252.3 L344.8,252.4 L345.2,251.9 L345.7,251.4 L346.1,252.1 L346.6,252.7 L347.0,252.2 L347.4,252.3 L347.9,253.2 L348.3,253.8 L348.8,253.2 L349.2,251.8 L349.6,251.3 L350.1,252.2 L350.5,252.8 L351.0,253.0 L351.4,253.5 L351.8,253.5 L352.3,252.9 L352.7,252.7 L353.2,253.3 L353.6,253.1 L354.1,252.3 L354.5,252.4 L354.9,253.1 L355.4,253.6 L355.8,253.3 L356.3,252.4 L356.7,252.2 L357.1,252.5 L357.6,251.9 L358.0,251.1 L358.5,251.6 L358.9,251.8 L359.4,251.0 L359.8,250.7 L360.2,251.3 L360.7,251.6 L361.1,251.0 L361.6,250.6 L362.0,250.7 L362.4,250.4 L362.9,250.2 L363.3,250.3 L363.8,250.1 L364.2,250.3 L364.6,250.4 L365.1,249.4 L365.5,249.1 L366.0,249.8 L366.4,249.6 L366.9,248.7 L367.3,249.1 L367.7,250.0 L368.2,249.5 L368.6,248.7 L369.1,248.3 L369.5,248.0 L369.9,247.9 L370.4,247.7 L370.8,247.4 L371.3,247.3 L371.7,247.1 L372.1,247.4 L372.6,247.2 L373.0,246.4 L373.5,246.6 L373.9,246.3 L374.4,245.4 L374.8,245.0 L375.2,245.3 L375.7,245.9 L376.1,245.7 L376.6,245.6 L377.0,245.9 L377.4,246.0 L377.9,246.6 L378.3,247.1 L378.8,247.0 L379.2,247.2 L379.6,247.7 L380.1,247.7 L380.5,248.2 L381.0,248.1 L381.4,246.7 L381.9,246.9 L382.3,247.5 L382.7,247.6 L383.2,248.2 L383.6,249.1 L384.1,249.7 L384.5,249.1 L384.9,248.2 L385.4,247.9 L385.8,247.9 L386.3,248.0 L386.7,247.9 L387.1,247.8 L387.6,247.8 L388.0,247.7 L388.5,248.0 L388.9,248.8 L389.4,248.5 L389.8,247.7 L390.2,248.1 L390.7,248.5 L391.1,248.3 L391.6,248.0 L392.0,247.2 L392.4,246.2 L392.9,246.5 L393.3,247.4 L393.8,247.0 L394.2,246.5 L394.7,246.9 L395.1,247.1 L395.5,247.5 L396.0,247.9 L396.4,247.5 L396.9,246.7 L397.3,246.5 L397.7,246.6 L398.2,246.3 L398.6,246.5 L399.1,247.0 L399.5,247.6 L399.9,247.8 L400.4,247.0 L400.8,246.6 L401.3,246.3 L401.7,246.7 L402.2,247.2 L402.6,246.7 L403.0,245.9 L403.5,245.6 L403.9,245.4 L404.4,245.5 L404.8,245.7 L405.2,245.5 L405.7,245.2 L406.1,244.9 L406.6,244.6 L407.0,243.9 L407.4,243.5 L407.9,244.7 L408.3,245.1 L408.8,244.2 L409.2,243.7 L409.7,243.5 L410.1,243.2 L410.5,243.1 L411.0,243.2 L411.4,242.6 L411.9,241.2 L412.3,241.1" stroke="#18dcdc"/>
<path d="M59.3,208.6 L59.7,209.3 L60.2,210.1 L60.6,210.7 L61.1,211.6 L61.5,212.5 L61.9,212.7 L62.4,213.4 L62.8,214.4 L63.3,215.5 L63.7,216.3 L64.2,216.2 L64.6,215.9 L65.0,216.2 L65.5,216.8 L65.9,217.5 L66.4,218.1 L66.8,218.8 L67.2,219.5 L67.7,219.7 L68.1,219.7 L68.6,219.7 L69.0,220.2 L69.4,220.5 L69.9,220.4 L70.3,220.6 L70.8,221.3 L71.2,221.8 L71.7,221.7 L72.1,222.0 L72.5,223.0 L73.0,222.8 L73.4,222.0 L73.9,222.6 L74.3,224.0 L74.7,224.9 L75.2,224.8 L75.6,224.6 L76.1,224.9 L76.5,225.1 L76.9,225.0 L77.4,224.8 L77.8,225.1 L78.3,226.2 L78.7,226.5 L79.2,225.9 L79.6,226.1 L80.0,226.9 L80.5,227.5 L80.9,227.3 L81.4,226.7 L81.8,226.3 L82.2,226.2 L82.7,226.7 L83.1,227.1 L83.6,226.5 L84.0,226.6 L84.5,227.3 L84.9,227.2 L85.3,226.9 L85.8,227.1 L86.2,227.3 L86.7,226.9 L87.1,227.2 L87.5,227.9 L88.0,228.4 L88.4,229.2 L88.9,229.2 L89.3,228.4 L89.7,228.4 L90.2,228.8 L90.6,228.3 L91.1,228.1 L91.5,228.9 L92.0,229.2 L92.4,229.6 L92.8,229.4 L93.3,228.2 L93.7,228.6 L94.2,229.5 L94.6,229.1 L95.0,228.9 L95.5,229.2 L95.9,229.0 L96.4,228.9 L96.8,229.5 L97.2,229.4 L97.7,228.5 L98.1,228.6 L98.6,228.7 L99.0,228.7 L99.5,229.4 L99.9,228.9 L100.3,227.4 L100.8,227.0 L101.2,227.6 L101.7,228.6 L102.1,229.4 L102.5,229.8 L103.0,229.8 L103.4,229.4 L103.9,229.3 L104.3,229.4 L104.7,230.0 L105.2,231.0 L105.6,231.4 L106.1,230.9 L106.5,230.3 L107.0,230.5 L107.4,230.7 L107.8,231.0 L108.3,231.6 L108.7,231.7 L109.2,231.0 L109.6,230.8 L110.0,230.7 L110.5,230.2 L110.9,229.9 L111.4,229.7 L111.8,229.4 L112.2,230.2 L112.7,231.1 L113.1,231.0 L113.6,230.9 L114.0,231.3 L114.5,231.5 L114.9,232.4 L115.3,233.5 L115.8,233.9 L116.2,234.0 L116.7,233.7 L117.1,233.0 L117.5,233.1 L118.0,234.4 L118.4,234.8 L118.9,234.1 L119.3,233.7 L119.8,234.0 L120.2,234.2 L120.6,234.0 L121.1,234.0 L121.5,234.0 L122.0,233.8 L122.4,234.1 L122.8,233.7 L123.3,232.4 L123.7,229.9 L124.2,225.6 L124.6,219.0 L125.0,209.7 L125.5,202.8 L125.9,208.9 L126.4,218.7 L126.8,225.7 L127.3,230.2 L127.7,232.6 L128.1,233.4 L128.6,233.9 L129.0,233.9 L129.5,233.2 L129.9,232.9 L130.3,233.6 L130.8,233.7 L131.2,233.6 L131.7,234.0 L132.1,233.7 L132.5,233.4 L133.0,233.6 L133.4,233.7 L133.9,233.6 L134.3,233.4 L134.8,233.7 L135.2,234.6 L135.6,234.7 L136.1,234.1 L136.5,234.1 L137.0,234.3 L137.4,233.7 L137.8,233.2 L138.3,233.5 L138.7,234.0 L139.2,234.0 L139.6,233.0 L140.0,231.9 L140.5,231.9 L140.9,232.4 L141.4,232.8 L141.8,233.3 L142.3,233.5 L142.7,233.8 L143.1,234.4 L143.6,234.2 L144.0,233.6 L144.5,233.6 L144.9,233.7 L145.3,233.3 L145.8,232.7 L146.2,233.2 L146.7,234.3 L147.1,234.1 L147.6,234.0 L148.0,234.3 L148.4,233.3 L148.9,232.8 L149.3,234.0 L149.8,234.7 L150.2,233.5 L150.6,231.8 L151.1,231.2 L151.5,232.0 L152.0,232.9 L152.4,233.0 L152.8,232.8 L153.3,232.8 L153.7,232.5 L154.2,232.0 L154.6,232.4 L155.1,232.8 L155.5,232.2 L155.9,231.4 L156.4,231.8 L156.8,232.6 L157.3,232.2 L157.7,231.8 L158.1,232.3 L158.6,232.7 L159.0,232.7 L159.5,231.9 L159.9,230.9 L160.3,231.1 L160.8,231.6 L161.2,231.1 L161.7,230.7 L162.1,230.9 L162.6,230.8 L163.0,230.9 L163.4,230.9 L163.9,230.5 L164.3,230.4 L164.8,230.1 L165.2,230.2 L165.6,231.1 L166.1,231.6 L166.5,230.9 L167.0,230.0 L167.4,230.4 L167.8,230.6 L168.3,230.3 L168.7,230.2 L169.2,230.1 L169.6,230.4 L170.1,230.6 L170.5,230.4 L170.9,230.1 L171.4,229.8 L171.8,230.1 L172.3,231.0 L172.7,231.2 L173.1,230.4 L173.6,230.0 L174.0,230.4 L174.5,231.0 L174.9,231.0 L175.3,230.2 L175.8,230.0 L176.2,230.4 L176.7,229.8 L177.1,229.1 L177.6,229.6 L178.0,229.7 L178.4,229.5 L178.9,230.0 L179.3,230.0 L179.8,229.7 L180.2,229.9 L180.6,229.9 L181.1,229.6 L181.5,229.5 L182.0,229.3 L182.4,228.9 L182.8,228.7 L183.3,229.1 L183.7,229.8 L184.2,229.9 L184.6,228.9 L185.1,228.4 L185.5,228.3 L185.9,228.1 L186.4,228.5 L186.8,228.4 L187.3,228.4 L187.7,228.6 L188.1,227.2 L188.6,226.3 L189.0,226.4 L189.5,225.6 L189.9,224.7 L190.4,224.9 L190.8,225.2 L191.2,225.6 L191.7,226.4 L192.1,227.0 L192.6,227.4 L193.0,227.6 L193.4,227.4 L193.9,227.7 L194.3,228.2 L194.8,227.1 L195.2,226.9 L195.6,227.9 L196.1,227.7 L196.5,227.4 L197.0,227.5 L197.4,228.0 L197.9,228.3 L198.3,227.8 L198.7,227.5 L199.2,227.8 L199.6,228.2 L200.1,227.9 L200.5,227.7 L200.9,228.2 L201.4,228.3 L201.8,228.2 L202.3,227.1 L202.7,226.7 L203.1,227.8 L203.6,227.8 L204.0,227.5 L204.5,227.6 L204.9,227.2 L205.4,227.2 L205.8,227.3 L206.2,226.9 L206.7,226.4 L207.1,225.8 L207.6,226.1 L208.0,226.8 L208.4,227.3 L208.9,227.9 L209.3,228.1 L209.8,227.8 L210.2,227.2 L210.6,227.3 L211.1,227.7 L211.5,227.5 L212.0,227.4 L212.4,227.5 L212.9,227.2 L213.3,227.3 L213.7,227.7 L214.2,227.4 L214.6,227.3 L215.1,227.7 L215.5,227.4 L215.9,226.5 L216.4,226.0 L216.8,226.1 L217.3,226.4 L217.7,226.2 L218.1,225.2 L218.6,224.9 L219.0,224.0 L219.5,222.2 L219.9,221.0 L220.4,219.7 L220.8,218.4 L221.2,218.6 L221.7,220.6 L222.1,222.8 L222.6,223.8 L223.0,224.5 L223.4,225.1 L223.9,225.1 L224.3,225.6 L224.8,226.3 L225.2,226.0 L225.7,226.1 L226.1,226.6 L226.5,226.8 L227.0,226.3 L227.4,226.1 L227.9,226.9 L228.3,226.7 L228.7,225.4 L229.2,225.2 L229.6,225.5 L230.1,225.7 L230.5,226.4 L230.9,226.9 L231.4,226.8 L231.8,225.7 L232.3,224.2 L232.7,224.6 L233.2,225.5 L233.6,225.1 L234.0,224.6 L234.5,224.9 L234.9,225.5 L235.4,225.8 L235.8,225.8 L236.2,225.2 L236.7,224.7 L237.1,224.9 L237.6,224.7 L238.0,224.4 L238.4,224.8 L238.9,224.9 L239.3,224.7 L239.8,224.5 L240.2,224.0 L240.7,224.1 L241.1,224.5 L241.5,223.9 L242.0,222.6 L242.4,222.0 L242.9,222.3 L243.3,222.0 L243.7,221.5 L244.2,221.9 L244.6,222.5 L245.1,222.2 L245.5,222.1 L245.9,222.0 L246.4,221.1 L246.8,220.2 L247.3,220.0 L247.7,219.9 L248.2,220.2 L248.6,220.9 L249.0,221.1 L249.5,221.0 L249.9,221.4 L250.4,222.0 L250.8,222.5 L251.2,222.2 L251.7,221.7 L252.1,221.5 L252.6,221.6 L253.0,221.4 L253.4,221.3 L253.9,222.0 L254.3,222.3 L254.8,222.5 L255.2,222.3 L255.7,222.2 L256.1,222.0 L256.5,221.7 L257.0,221.9 L257.4,222.0 L257.9,221.7 L258.3,221.6 L258.7,221.6 L259.2,221.5 L259.6,221.0 L260.1,220.8 L260.5,221.0 L261.0,221.1 L261.4,221.3 L261.8,221.2 L262.3,220.8 L262.7,220.5 L263.2,220.8 L263.6,221.2 L264.0,221.3 L264.5,221.5 L264.9,221.4 L265.4,221.2 L265.8,221.3 L266.2,221.4 L266.7,221.7 L267.1,221.6 L267.6,221.3 L268.0,220.9 L268.5,220.9 L268.9,221.2 L269.3,221.1 L269.8,220.8 L270.2,220.7 L270.7,219.8 L271.1,219.6 L271.5,220.4 L272.0,220.9 L272.4,221.0 L272.9,220.8 L273.3,220.1 L273.7,220.1 L274.2,220.6 L274.6,220.7 L275.1,220.6 L275.5,220.6 L276.0,220.4 L276.4,220.2 L276.8,219.9 L277.3,220.2 L277.7,220.6 L278.2,220.0 L278.6,219.4 L279.0,219.8 L279.5,220.4 L279.9,220.7 L280.4,220.4 L280.8,219.8 L281.2,220.0 L281.7,220.4 L282.1,220.3 L282.6,220.3 L283.0,220.0 L283.5,219.7 L283.9,219.6 L284.3,219.7 L284.8,220.0 L285.2,219.8 L285.7,219.4 L286.1,219.0 L286.5,218.8 L287.0,218.8 L287.4,218.7 L287.9,218.9 L288.3,218.8 L288.8,218.6 L289.2,219.2 L289.6,219.2 L290.1,218.3 L290.5,218.0 L291.0,218.3 L291.4,218.7 L291.8,218.4 L292.3,218.4 L292.7,219.4 L293.2,219.8 L293.6,219.3 L294.0,219.0 L294.5,218.7 L294.9,218.5 L295.4,218.3 L295.8,218.1 L296.3,218.0 L296.7,218.1 L297.1,217.9 L297.6,217.8 L298.0,217.5 L298.5,216.8 L298.9,216.9 L299.3,217.1 L299.8,216.3 L300.2,216.3 L300.7,216.9 L301.1,217.1 L301.5,217.3 L302.0,217.2 L302.4,216.6 L302.9,215.5 L303.3,214.6 L303.8,214.9 L304.2,215.3 L304.6,215.2 L305.1,214.8 L305.5,215.0 L306.0,215.6 L306.4,215.7 L306.8,215.1 L307.3,214.5 L307.7,215.0 L308.2,215.5 L308.6,214.3 L309.0,213.2 L309.5,213.6 L309.9,213.9 L310.4,213.4 L310.8,213.0 L311.3,213.1 L311.7,213.7 L312.1,213.6 L312.6,212.9 L313.0,212.6 L313.5,212.5 L313.9,212.7 L314.3,212.2 L314.8,211.4 L315.2,211.8 L315.7,211.9 L316.1,211.4 L316.5,211.0 L317.0,211.3 L317.4,211.1 L317.9,210.7 L318.3,211.2 L318.8,211.4 L319.2,211.4 L319.6,211.6 L320.1,211.4 L320.5,211.1 L321.0,210.6 L321.4,211.0 L321.8,211.7 L322.3,211.6 L322.7,210.9 L323.2,210.2 L323.6,210.0 L324.1,209.9 L324.5,210.1 L324.9,210.4 L325.4,210.1 L325.8,210.3 L326.3,211.4 L326.7,212.3 L327.1,211.8 L327.6,210.9 L328.0,211.6 L328.5,212.6 L328.9,212.9 L329.3,212.7 L329.8,212.8 L330.2,213.1 L330.7,213.1 L331.1,213.5 L331.6,213.5 L332.0,212.6 L332.4,212.4 L332.9,213.3 L333.3,213.4 L333.8,212.6 L334.2,212.9 L334.6,213.3 L335.1,213.0 L335.5,212.7 L336.0,213.2 L336.4,213.3 L336.8,212.5 L337.3,212.2 L337.7,212.4 L338.2,212.0 L338.6,211.4 L339.1,211.6 L339.5,211.7 L339.9,211.6 L340.4,211.7 L340.8,211.4 L341.3,210.9 L341.7,210.6 L342.1,210.6 L342.6,210.7 L343.0,210.9 L343.5,211.1 L343.9,211.2 L344.3,211.4 L344.8,210.7 L345.2,210.2 L345.7,210.7 L346.1,210.2 L346.6,209.4 L347.0,209.5 L347.4,209.5 L347.9,209.0 L348.3,208.9 L348.8,209.1 L349.2,208.9 L349.6,208.4 L350.1,208.2 L350.5,208.2 L351.0,208.0 L351.4,207.7 L351.8,208.0 L352.3,208.9 L352.7,209.0 L353.2,207.8 L353.6,206.7 L354.1,206.4 L354.5,206.9 L354.9,206.8 L355.4,206.3 L355.8,206.7 L356.3,207.3 L356.7,206.7 L357.1,205.9 L357.6,205.4 L358.0,205.1 L358.5,205.1 L358.9,205.2 L359.4,205.6 L359.8,205.6 L360.2,205.2 L360.7,205.3 L361.1,205.7 L361.6,205.2 L362.0,204.8 L362.4,204.2 L362.9,204.0 L363.3,204.7 L363.8,204.5 L364.2,204.6 L364.6,205.0 L365.1,204.9 L365.5,205.2 L366.0,204.8 L366.4,203.9 L366.9,203.8 L367.3,203.8 L367.7,204.1 L368.2,204.8 L368.6,204.9 L369.1,204.6 L369.5,204.0 L369.9,203.9 L370.4,204.1 L370.8,203.0 L371.3,202.5 L371.7,203.1 L372.1,203.1 L372.6,203.0 L373.0,203.3 L373.5,202.9 L373.9,202.7 L374.4,202.5 L374.8,201.5 L375.2,201.4 L375.7,202.6 L376.1,203.0 L376.6,202.7 L377.0,202.5 L377.4,202.1 L377.9,202.1 L378.3,202.4 L378.8,203.0 L379.2,203.3 L379.6,202.8 L380.1,202.3 L380.5,203.0 L381.0,204.0 L381.4,204.0 L381.9,203.6 L382.3,202.9 L382.7,202.1 L383.2,202.7 L383.6,203.8 L384.1,204.0 L384.5,204.0 L384.9,204.2 L385.4,204.2 L385.8,203.9 L386.3,203.7 L386.7,203.2 L387.1,202.6 L387.6,203.4 L388.0,204.4 L388.5,204.1 L388.9,204.0 L389.4,203.9 L389.8,203.4 L390.2,203.4 L390.7,203.3 L391.1,203.2 L391.6,203.5 L392.0,203.9 L392.4,204.6 L392.9,204.5 L393.3,203.3 L393.8,202.6 L394.2,203.0 L394.7,203.2 L395.1,203.3 L395.5,203.1 L396.0,203.4 L396.4,203.8 L396.9,203.6 L397.3,203.2 L397.7,202.4 L398.2,202.2 L398.6,203.1 L399.1,202.8 L399.5,202.7 L399.9,203.4 L400.4,202.4 L400.8,201.6 L401.3,202.5 L401.7,203.3 L402.2,203.0 L402.6,202.4 L403.0,202.0 L403.5,201.5 L403.9,201.5 L404.4,202.3 L404.8,202.5 L405.2,202.2 L405.7,202.1 L406.1,202.4 L406.6,201.8 L407.0,201.0 L407.4,201.3 L407.9,202.2 L408.3,202.4 L408.8,202.2 L409.2,202.2 L409.7,202.3 L410.1,202.7 L410.5,202.7 L411.0,201.4 L411.4,200.7 L411.9,201.4 L412.3,201.9" stroke="#e01414"/>
<path d="M59.3,185.1 L59.7,185.7 L60.2,185.3 L60.6,185.1 L61.1,185.8 L61.5,186.0 L61.9,185.9 L62.4,185.9 L62.8,186.4 L63.3,186.6 L63.7,186.0 L64.2,186.2 L64.6,187.4 L65.0,188.4 L65.5,188.3 L65.9,187.6 L66.4,187.7 L66.8,188.0 L67.2,187.6 L67.7,187.7 L68.1,188.2 L68.6,188.3 L69.0,188.3 L69.4,188.4 L69.9,188.3 L70.3,188.4 L70.8,188.5 L71.2,188.2 L71.7,188.6 L72.1,189.2 L72.5,189.3 L73.0,189.2 L73.4,188.9 L73.9,189.0 L74.3,189.2 L74.7,188.6 L75.2,188.1 L75.6,188.8 L76.1,189.6 L76.5,189.4 L76.9,189.1 L77.4,188.9 L77.8,189.2 L78.3,189.6 L78.7,189.6 L79.2,188.7 L79.6,188.1 L80.0,188.8 L80.5,189.4 L80.9,189.0 L81.4,188.8 L81.8,189.7 L82.2,190.7 L82.7,190.5 L83.1,190.3 L83.6,190.5 L84.0,190.6 L84.5,189.8 L84.9,188.6 L85.3,188.6 L85.8,189.3 L86.2,189.7 L86.7,189.7 L87.1,189.6 L87.5,189.9 L88.0,189.9 L88.4,189.4 L88.9,189.4 L89.3,190.3 L89.7,191.1 L90.2,191.1 L90.6,191.3 L91.1,191.3 L91.5,191.0 L92.0,190.7 L92.4,191.0 L92.8,191.7 L93.3,191.5 L93.7,191.3 L94.2,191.6 L94.6,191.4 L95.0,191.0 L95.5,191.0 L95.9,191.3 L96.4,191.5 L96.8,191.3 L97.2,191.4 L97.7,191.9 L98.1,191.9 L98.6,191.9 L99.0,191.5 L99.5,190.7 L99.9,190.5 L100.3,190.8 L100.8,190.7 L101.2,190.4 L101.7,190.9 L102.1,191.7 L102.5,191.9 L103.0,191.4 L103.4,191.5 L103.9,192.4 L104.3,192.8 L104.7,192.8 L105.2,192.8 L105.6,193.0 L106.1,193.5 L106.5,193.4 L107.0,192.8 L107.4,192.4 L107.8,192.5 L108.3,193.0 L108.7,193.2 L109.2,192.8 L109.6,192.3 L110.0,192.0 L110.5,191.9 L110.9,192.2 L111.4,191.8 L111.8,191.3 L112.2,191.7 L112.7,192.2 L113.1,193.0 L113.6,193.7 L114.0,193.7 L114.5,193.7 L114.9,193.9 L115.3,194.2 L115.8,194.5 L116.2,194.5 L116.7,194.1 L117.1,193.8 L117.5,193.9 L118.0,193.7 L118.4,193.8 L118.9,194.4 L119.3,194.1 L119.8,194.0 L120.2,194.6 L120.6,194.6 L121.1,194.0 L121.5,193.9 L122.0,194.4 L122.4,194.3 L122.8,193.3 L123.3,192.4 L123.7,191.3 L124.2,187.7 L124.6,181.2 L125.0,173.2 L125.5,167.7 L125.9,172.9 L126.4,181.4 L126.8,188.1 L127.3,192.1 L127.7,193.9 L128.1,194.2 L128.6,194.6 L129.0,195.2 L129.5,195.2 L129.9,194.5 L130.3,194.2 L130.8,194.5 L131.2,195.0 L131.7,195.1 L132.1,194.6 L132.5,194.4 L133.0,194.8 L133.4,194.8 L133.9,194.6 L134.3,195.0 L134.8,194.6 L135.2,194.1 L135.6,194.6 L136.1,195.5 L136.5,196.0 L137.0,195.7 L137.4,194.8 L137.8,194.5 L138.3,194.6 L138.7,194.2 L139.2,194.4 L139.6,194.8 L140.0,194.9 L140.5,195.0 L140.9,194.5 L141.4,194.3 L141.8,195.3 L142.3,195.6 L142.7,195.3 L143.1,194.8 L143.6,194.1 L144.0,194.0 L144.5,194.4 L144.9,194.4 L145.3,194.4 L145.8,194.5 L146.2,194.3 L146.7,194.4 L147.1,194.5 L147.6,194.1 L148.0,194.3 L148.4,195.0 L148.9,194.9 L149.3,194.7 L149.8,195.1 L150.2,195.3 L150.6,195.0 L151.1,194.4 L151.5,194.4 L152.0,194.7 L152.4,194.8 L152.8,194.7 L153.3,194.1 L153.7,193.9 L154.2,194.0 L154.6,194.3 L155.1,194.5 L155.5,194.2 L155.9,194.4 L156.4,195.0 L156.8,194.9 L157.3,194.6 L157.7,194.6 L158.1,194.6 L158.6,194.7 L159.0,194.5 L159.5,194.2 L159.9,194.3 L160.3,194.6 L160.8,194.5 L161.2,194.1 L161.7,193.9 L162.1,193.8 L162.6,194.3 L163.0,194.8 L163.4,194.6 L163.9,194.5 L164.3,194.5 L164.8,194.4 L165.2,194.1 L165.6,194.0 L166.1,194.6 L166.5,195.0 L167.0,194.6 L167.4,194.0 L167.8,194.1 L168.3,194.0 L168.7,193.7 L169.2,194.2 L169.6,194.6 L170.1,194.1 L170.5,193.3 L170.9,192.9 L171.4,193.2 L171.8,193.8 L172.3,194.0 L172.7,194.1 L173.1,194.0 L173.6,193.7 L174.0,194.0 L174.5,194.5 L174.9,194.9 L175.3,194.9 L175.8,194.2 L176.2,193.9 L176.7,194.1 L177.1,194.3 L177.6,194.4 L178.0,194.3 L178.4,193.8 L178.9,192.8 L179.3,192.3 L179.8,192.7 L180.2,193.5 L180.6,193.7 L181.1,193.6 L181.5,194.2 L182.0,194.3 L182.4,193.8 L182.8,193.8 L183.3,193.6 L183.7,193.3 L184.2,193.6 L184.6,193.9 L185.1,193.5 L185.5,193.0 L185.9,193.2 L186.4,193.6 L186.8,193.6 L187.3,193.0 L187.7,192.0 L188.1,191.6 L188.6,191.1 L189.0,190.4 L189.5,190.1 L189.9,190.1 L190.4,190.1 L190.8,190.9 L191.2,191.7 L191.7,191.7 L192.1,192.1 L192.6,192.7 L193.0,192.1 L193.4,192.1 L193.9,193.0 L194.3,193.4 L194.8,193.2 L195.2,193.5 L195.6,194.0 L196.1,194.0 L196.5,193.8 L197.0,193.8 L197.4,194.0 L197.9,194.1 L198.3,194.1 L198.7,194.0 L199.2,193.8 L199.6,193.9 L200.1,194.3 L200.5,194.2 L200.9,193.8 L201.4,193.2 L201.8,193.1 L202.3,193.5 L202.7,193.3 L203.1,192.9 L203.6,193.2 L204.0,193.7 L204.5,194.0 L204.9,193.7 L205.4,193.1 L205.8,193.2 L206.2,193.7 L206.7,193.5 L207.1,192.9 L207.6,192.8 L208.0,192.8 L208.4,193.1 L208.9,193.7 L209.3,193.8 L209.8,193.6 L210.2,193.6 L210.6,193.6 L211.1,193.6 L211.5,193.4 L212.0,193.2 L212.4,193.6 L212.9,193.4 L213.3,193.1 L213.7,193.4 L214.2,193.4 L214.6,193.2 L215.1,193.0 L215.5,192.6 L215.9,193.3 L216.4,193.5 L216.8,192.2 L217.3,191.7 L217.7,192.3 L218.1,191.9 L218.6,191.0 L219.0,190.1 L219.5,188.8 L219.9,187.6 L220.4,186.7 L220.8,186.8 L221.2,187.3 L221.7,187.8 L222.1,188.9 L222.6,189.9 L223.0,191.0 L223.4,192.4 L223.9,193.1 L224.3,192.8 L224.8,192.4 L225.2,192.7 L225.7,193.3 L226.1,193.3 L226.5,193.1 L227.0,193.2 L227.4,192.9 L227.9,192.7 L228.3,192.9 L228.7,193.2 L229.2,193.1 L229.6,192.6 L230.1,192.7 L230.5,193.1 L230.9,193.0 L231.4,193.0 L231.8,193.1 L232.3,193.2 L232.7,193.7 L233.2,194.1 L233.6,194.0 L234.0,193.8 L234.5,193.3 L234.9,193.1 L235.4,192.8 L235.8,192.7 L236.2,193.0 L236.7,193.0 L237.1,192.8 L237.6,192.5 L238.0,192.4 L238.4,192.6 L238.9,192.6 L239.3,192.4 L239.8,192.3 L240.2,192.6 L240.7,192.9 L241.1,193.2 L241.5,192.9 L242.0,192.2 L242.4,191.8 L242.9,191.3 L243.3,190.7 L243.7,191.2 L244.2,191.9 L244.6,191.5 L245.1,191.0 L245.5,191.2 L245.9,190.9 L246.4,190.0 L246.8,190.2 L247.3,190.9 L247.7,190.7 L248.2,190.4 L248.6,190.5 L249.0,190.7 L249.5,191.0 L249.9,191.4 L250.4,191.4 L250.8,191.3 L251.2,191.2 L251.7,191.2 L252.1,191.5 L252.6,191.4 L253.0,191.1 L253.4,191.1 L253.9,191.3 L254.3,191.5 L254.8,191.8 L255.2,192.0 L255.7,191.6 L256.1,190.9 L256.5,190.8 L257.0,191.6 L257.4,191.5 L257.9,190.8 L258.3,190.9 L258.7,190.6 L259.2,190.3 L259.6,190.6 L260.1,191.0 L260.5,190.9 L261.0,191.0 L261.4,191.0 L261.8,191.0 L262.3,191.5 L262.7,191.6 L263.2,191.4 L263.6,191.0 L264.0,190.7 L264.5,190.9 L264.9,191.0 L265.4,191.0 L265.8,190.5 L266.2,190.3 L266.7,190.4 L267.1,190.5 L267.6,190.6 L268.0,190.4 L268.5,190.3 L268.9,189.9 L269.3,190.0 L269.8,191.0 L270.2,191.2 L270.7,190.8 L271.1,190.6 L271.5,190.0 L272.0,189.5 L272.4,189.5 L272.9,189.7 L273.3,190.2 L273.7,190.3 L274.2,190.1 L274.6,189.3 L275.1,188.9 L275.5,189.5 L276.0,190.1 L276.4,190.5 L276.8,190.9 L277.3,190.3 L277.7,189.6 L278.2,189.7 L278.6,189.7 L279.0,189.4 L279.5,189.4 L279.9,189.6 L280.4,189.6 L280.8,189.6 L281.2,190.0 L281.7,189.9 L282.1,189.5 L282.6,189.2 L283.0,189.4 L283.5,190.2 L283.9,190.3 L284.3,190.0 L284.8,190.0 L285.2,189.5 L285.7,189.1 L286.1,189.4 L286.5,189.7 L287.0,189.8 L287.4,190.0 L287.9,190.3 L288.3,189.9 L288.8,189.3 L289.2,189.4 L289.6,189.7 L290.1,189.3 L290.5,188.9 L291.0,189.2 L291.4,189.2 L291.8,189.4 L292.3,190.0 L292.7,189.9 L293.2,189.4 L293.6,189.1 L294.0,189.1 L294.5,189.4 L294.9,189.8 L295.4,189.5 L295.8,188.7 L296.3,188.4 L296.7,188.6 L297.1,188.9 L297.6,188.8 L298.0,188.5 L298.5,188.7 L298.9,189.1 L299.3,189.6 L299.8,189.9 L300.2,189.7 L300.7,189.6 L301.1,189.3 L301.5,188.8 L302.0,188.3 L302.4,187.8 L302.9,187.5 L303.3,187.6 L303.8,187.9 L304.2,188.0 L304.6,188.1 L305.1,188.5 L305.5,188.3 L306.0,187.7 L306.4,187.6 L306.8,187.4 L307.3,187.3 L307.7,187.3 L308.2,187.2 L308.6,187.5 L309.0,187.7 L309.5,187.5 L309.9,187.2 L310.4,187.2 L310.8,186.7 L311.3,186.6 L311.7,186.6 L312.1,186.1 L312.6,186.2 L313.0,186.5 L313.5,186.6 L313.9,186.3 L314.3,185.8 L314.8,185.4 L315.2,185.3 L315.7,185.5 L316.1,185.6 L316.5,185.9 L317.0,186.2 L317.4,185.8 L317.9,185.2 L318.3,185.0 L318.8,184.9 L319.2,185.1 L319.6,185.1 L320.1,184.9 L320.5,184.7 L321.0,184.5 L321.4,184.0 L321.8,184.0 L322.3,184.7 L322.7,184.8 L323.2,184.5 L323.6,184.1 L324.1,183.8 L324.5,183.5 L324.9,183.6 L325.4,184.1 L325.8,184.6 L326.3,184.6 L326.7,184.5 L327.1,184.7 L327.6,185.1 L328.0,185.1 L328.5,185.0 L328.9,185.5 L329.3,186.1 L329.8,186.0 L330.2,185.9 L330.7,186.5 L331.1,186.5 L331.6,185.4 L332.0,184.6 L332.4,184.9 L332.9,185.5 L333.3,185.5 L333.8,185.2 L334.2,185.3 L334.6,185.7 L335.1,185.8 L335.5,185.8 L336.0,186.1 L336.4,186.1 L336.8,185.3 L337.3,184.9 L337.7,185.5 L338.2,186.2 L338.6,186.1 L339.1,185.3 L339.5,185.2 L339.9,185.9 L340.4,186.2 L340.8,186.2 L341.3,185.8 L341.7,185.4 L342.1,185.2 L342.6,185.1 L343.0,185.4 L343.5,185.7 L343.9,185.4 L344.3,185.1 L344.8,185.8 L345.2,185.9 L345.7,185.1 L346.1,185.0 L346.6,185.0 L347.0,185.0 L347.4,185.3 L347.9,185.8 L348.3,185.7 L348.8,185.5 L349.2,185.3 L349.6,185.1 L350.1,185.3 L350.5,185.4 L351.0,185.1 L351.4,185.1 L351.8,184.9 L352.3,184.6 L352.7,184.3 L353.2,184.2 L353.6,184.6 L354.1,184.7 L354.5,184.8 L354.9,185.3 L355.4,185.2 L355.8,184.4 L356.3,184.0 L356.7,184.6 L357.1,185.0 L357.6,184.2 L358.0,183.5 L358.5,183.8 L358.9,184.1 L359.4,184.0 L359.8,184.2 L360.2,184.5 L360.7,184.4 L361.1,184.1 L361.6,184.1 L362.0,183.6 L362.4,183.0 L362.9,183.0 L363.3,183.4 L363.8,183.5 L364.2,183.2 L364.6,183.1 L365.1,183.1 L365.5,182.9 L366.0,182.7 L366.4,183.0 L366.9,183.4 L367.3,183.1 L367.7,182.2 L368.2,181.8 L368.6,182.1 L369.1,182.5 L369.5,182.4 L369.9,181.8 L370.4,181.4 L370.8,181.8 L371.3,182.3 L371.7,182.2 L372.1,181.5 L372.6,181.0 L373.0,181.2 L373.5,181.2 L373.9,180.6 L374.4,180.5 L374.8,180.1 L375.2,179.1 L375.7,178.5 L376.1,178.1 L376.6,178.4 L377.0,179.2 L377.4,179.9 L377.9,180.3 L378.3,180.6 L378.8,180.5 L379.2,180.5 L379.6,181.1 L380.1,181.5 L380.5,181.6 L381.0,181.4 L381.4,180.9 L381.9,180.6 L382.3,180.7 L382.7,180.7 L383.2,181.3 L383.6,181.7 L384.1,181.6 L384.5,181.7 L384.9,181.7 L385.4,181.1 L385.8,180.9 L386.3,181.4 L386.7,181.2 L387.1,180.8 L387.6,180.9 L388.0,181.0 L388.5,181.1 L388.9,181.3 L389.4,181.5 L389.8,181.2 L390.2,180.8 L390.7,181.2 L391.1,181.4 L391.6,181.1 L392.0,181.4 L392.4,181.8 L392.9,181.3 L393.3,180.7 L393.8,180.2 L394.2,180.5 L394.7,181.0 L395.1,181.2 L395.5,181.1 L396.0,181.0 L396.4,181.0 L396.9,181.0 L397.3,180.9 L397.7,180.9 L398.2,181.3 L398.6,181.3 L399.1,180.8 L399.5,180.6 L399.9,181.0 L400.4,181.2 L400.8,181.0 L401.3,180.6 L401.7,180.4 L402.2,180.9 L402.6,181.6 L403.0,181.4 L403.5,180.8 L403.9,180.9 L404.4,180.9 L404.8,180.7 L405.2,180.9 L405.7,180.8 L406.1,180.6 L406.6,180.4 L407.0,180.3 L407.4,180.6 L407.9,181.2 L408.3,181.3 L408.8,180.7 L409.2,180.3 L409.7,180.6 L410.1,180.8 L410.5,180.9 L411.0,180.9 L411.4,180.5 L411.9,180.3 L412.3,180.8" stroke="#0c0cd8"/>
<path d="M59.3,133.6 L59.7,134.1 L60.2,134.8 L60.6,135.6 L61.1,135.7 L61.5,136.0 L61.9,137.1 L62.4,137.1 L62.8,136.2 L63.3,136.1 L63.7,136.9 L64.2,137.5 L64.6,137.8 L65.0,137.4 L65.5,136.8 L65.9,137.8 L66.4,139.4 L66.8,140.1 L67.2,140.2 L67.7,140.2 L68.1,139.8 L68.6,139.1 L69.0,138.9 L69.4,139.0 L69.9,139.7 L70.3,140.3 L70.8,140.5 L71.2,140.5 L71.7,140.5 L72.1,140.9 L72.5,141.6 L73.0,141.9 L73.4,141.4 L73.9,141.1 L74.3,141.5 L74.7,142.0 L75.2,141.9 L75.6,142.5 L76.1,143.2 L76.5,143.2 L76.9,143.0 L77.4,142.5 L77.8,142.7 L78.3,143.4 L78.7,143.5 L79.2,143.5 L79.6,143.8 L80.0,143.5 L80.5,143.0 L80.9,143.6 L81.4,144.6 L81.8,144.7 L82.2,144.1 L82.7,143.6 L83.1,143.9 L83.6,144.1 L84.0,144.0 L84.5,144.5 L84.9,144.8 L85.3,144.3 L85.8,143.8 L86.2,143.0 L86.7,142.7 L87.1,143.3 L87.5,143.7 L88.0,144.2 L88.4,145.4 L88.9,145.9 L89.3,145.9 L89.7,146.0 L90.2,146.0 L90.6,145.7 L91.1,145.5 L91.5,145.8 L92.0,146.6 L92.4,146.1 L92.8,144.8 L93.3,144.9 L93.7,145.4 L94.2,145.9 L94.6,146.7 L95.0,146.7 L95.5,146.4 L95.9,146.8 L96.4,146.9 L96.8,146.8 L97.2,146.1 L97.7,145.8 L98.1,146.2 L98.6,146.1 L99.0,146.2 L99.5,146.7 L99.9,146.7 L100.3,145.9 L100.8,145.6 L101.2,146.1 L101.7,145.9 L102.1,145.6 L102.5,146.4 L103.0,147.4 L103.4,147.5 L103.9,147.0 L104.3,147.2 L104.7,147.9 L105.2,147.9 L105.6,147.5 L106.1,147.4 L106.5,147.7 L107.0,148.2 L107.4,148.5 L107.8,148.1 L108.3,148.1 L108.7,148.6 L109.2,148.8 L109.6,148.6 L110.0,148.1 L110.5,147.2 L110.9,146.8 L111.4,147.5 L111.8,147.8 L112.2,147.5 L112.7,147.9 L113.1,148.5 L113.6,148.7 L114.0,148.7 L114.5,148.9 L114.9,149.0 L115.3,149.7 L115.8,150.5 L116.2,150.1 L116.7,149.7 L117.1,150.0 L117.5,150.6 L118.0,151.3 L118.4,151.5 L118.9,151.1 L119.3,150.7 L119.8,149.9 L120.2,149.8 L120.6,150.1 L121.1,149.8 L121.5,150.0 L122.0,150.0 L122.4,149.5 L122.8,149.5 L123.3,149.1 L123.7,147.4 L124.2,144.2 L124.6,139.2 L125.0,132.8 L125.5,128.2 L125.9,132.5 L126.4,139.2 L126.8,144.7 L127.3,148.3 L127.7,149.9 L128.1,150.4 L128.6,150.3 L129.0,150.3 L129.5,150.6 L129.9,150.7 L130.3,150.5 L130.8,150.5 L131.2,150.7 L131.7,151.0 L132.1,151.1 L132.5,150.8 L133.0,150.0 L133.4,149.9 L133.9,150.7 L134.3,151.2 L134.8,151.1 L135.2,151.2 L135.6,151.9 L136.1,151.5 L136.5,150.7 L137.0,151.2 L137.4,152.0 L137.8,152.3 L138.3,152.5 L138.7,152.2 L139.2,152.0 L139.6,152.0 L140.0,152.0 L140.5,151.8 L140.9,151.5 L141.4,151.7 L141.8,152.0 L142.3,152.4 L142.7,152.8 L143.1,152.0 L143.6,150.8 L144.0,150.7 L144.5,151.4 L144.9,152.0 L145.3,151.4 L145.8,150.6 L146.2,150.9 L146.7,150.7 L147.1,149.1 L147.6,148.0 L148.0,148.9 L148.4,150.1 L148.9,150.9 L149.3,151.0 L149.8,151.2 L150.2,151.8 L150.6,152.1 L151.1,151.9 L151.5,151.6 L152.0,151.8 L152.4,152.4 L152.8,152.7 L153.3,152.1 L153.7,151.7 L154.2,151.9 L154.6,152.2 L155.1,151.9 L155.5,151.4 L155.9,152.0 L156.4,152.2 L156.8,151.6 L157.3,151.5 L157.7,152.0 L158.1,152.5 L158.6,152.2 L159.0,151.5 L159.5,151.2 L159.9,151.1 L160.3,151.1 L160.8,151.5 L161.2,152.3 L161.7,152.3 L162.1,151.4 L162.6,150.8 L163.0,150.2 L163.4,150.6 L163.9,151.4 L164.3,151.3 L164.8,151.0 L165.2,151.4 L165.6,152.1 L166.1,152.2 L166.5,151.8 L167.0,151.4 L167.4,151.7 L167.8,152.4 L168.3,152.5 L168.7,152.4 L169.2,152.7 L169.6,152.6 L170.1,151.9 L170.5,151.4 L170.9,151.5 L171.4,152.0 L171.8,152.5 L172.3,152.9 L172.7,152.8 L173.1,152.1 L173.6,151.9 L174.0,151.5 L174.5,150.9 L174.9,151.1 L175.3,151.2 L175.8,151.3 L176.2,151.6 L176.7,151.9 L177.1,151.5 L177.6,151.4 L178.0,151.7 L178.4,151.3 L178.9,151.4 L179.3,151.8 L179.8,151.5 L180.2,151.1 L180.6,151.3 L181.1,152.0 L181.5,152.0 L182.0,151.8 L182.4,152.1 L182.8,152.3 L183.3,151.9 L183.7,151.7 L184.2,152.5 L184.6,152.6 L185.1,152.0 L185.5,152.2 L185.9,152.3 L186.4,151.8 L186.8,151.9 L187.3,152.2 L187.7,151.7 L188.1,150.7 L188.6,150.1 L189.0,149.7 L189.5,149.7 L189.9,149.9 L190.4,149.7 L190.8,149.9 L191.2,150.6 L191.7,151.6 L192.1,152.2 L192.6,152.1 L193.0,151.8 L193.4,151.3 L193.9,151.5 L194.3,152.1 L194.8,152.5 L195.2,153.0 L195.6,152.6 L196.1,152.3 L196.5,152.9 L197.0,153.0 L197.4,152.6 L197.9,152.1 L198.3,151.9 L198.7,152.3 L199.2,152.0 L199.6,151.2 L200.1,151.3 L200.5,151.9 L200.9,152.5 L201.4,152.3 L201.8,152.0 L202.3,152.1 L202.7,152.2 L203.1,152.5 L203.6,152.1 L204.0,151.4 L204.5,151.9 L204.9,152.8 L205.4,152.3 L205.8,151.9 L206.2,152.7 L206.7,153.0 L207.1,152.7 L207.6,152.5 L208.0,152.6 L208.4,152.1 L208.9,151.7 L209.3,152.0 L209.8,151.9 L210.2,151.7 L210.6,151.8 L211.1,151.5 L211.5,151.4 L212.0,151.7 L212.4,151.4 L212.9,151.4 L213.3,152.5 L213.7,153.0 L214.2,152.2 L214.6,151.7 L215.1,151.9 L215.5,151.5 L215.9,150.9 L216.4,150.9 L216.8,151.0 L217.3,150.9 L217.7,150.7 L218.1,150.2 L218.6,149.4 L219.0,148.4 L219.5,147.2 L219.9,145.7 L220.4,144.1 L220.8,143.5 L221.2,144.5 L221.7,146.4 L222.1,148.4 L222.6,149.3 L223.0,149.5 L223.4,150.0 L223.9,150.8 L224.3,151.2 L224.8,151.3 L225.2,151.2 L225.7,151.0 L226.1,151.4 L226.5,152.0 L227.0,152.1 L227.4,151.4 L227.9,150.7 L228.3,151.5 L228.7,152.3 L229.2,151.9 L229.6,151.3 L230.1,151.0 L230.5,150.9 L230.9,151.0 L231.4,151.3 L231.8,151.6 L232.3,151.8 L232.7,151.6 L233.2,151.1 L233.6,151.1 L234.0,151.4 L234.5,151.3 L234.9,151.4 L235.4,151.6 L235.8,151.4 L236.2,150.9 L236.7,150.9 L237.1,151.0 L237.6,150.8 L238.0,151.3 L238.4,151.9 L238.9,151.9 L239.3,151.5 L239.8,151.5 L240.2,151.8 L240.7,151.5 L241.1,151.3 L241.5,151.1 L242.0,150.8 L242.4,151.2 L242.9,151.4 L243.3,150.5 L243.7,149.8 L244.2,150.3 L244.6,151.2 L245.1,151.5 L245.5,151.2 L245.9,150.5 L246.4,149.9 L246.8,150.1 L247.3,150.4 L247.7,150.1 L248.2,150.4 L248.6,151.1 L249.0,151.1 L249.5,150.5 L249.9,149.8 L250.4,149.5 L250.8,149.9 L251.2,150.6 L251.7,150.8 L252.1,150.8 L252.6,151.2 L253.0,151.0 L253.4,150.6 L253.9,151.0 L254.3,151.3 L254.8,151.2 L255.2,151.3 L255.7,151.5 L256.1,151.3 L256.5,150.5 L257.0,149.8 L257.4,150.1 L257.9,150.6 L258.3,150.6 L258.7,150.2 L259.2,150.1 L259.6,150.9 L260.1,151.2 L260.5,151.4 L261.0,151.4 L261.4,151.0 L261.8,150.6 L262.3,149.7 L262.7,149.2 L263.2,149.5 L263.6,149.7 L264.0,150.3 L264.5,150.9 L264.9,150.5 L265.4,149.9 L265.8,149.6 L266.2,149.2 L266.7,149.2 L267.1,149.5 L267.6,149.3 L268.0,149.2 L268.5,149.5 L268.9,150.0 L269.3,150.3 L269.8,150.5 L270.2,150.2 L270.7,150.0 L271.1,150.2 L271.5,150.2 L272.0,150.0 L272.4,149.5 L272.9,148.9 L273.3,148.6 L273.7,148.9 L274.2,149.5 L274.6,149.6 L275.1,149.4 L275.5,149.1 L276.0,148.8 L276.4,149.1 L276.8,149.4 L277.3,149.7 L277.7,149.7 L278.2,149.2 L278.6,149.0 L279.0,148.6 L279.5,147.9 L279.9,147.7 L280.4,148.2 L280.8,148.9 L281.2,148.3 L281.7,147.3 L282.1,147.7 L282.6,148.7 L283.0,149.2 L283.5,148.8 L283.9,148.4 L284.3,148.7 L284.8,148.5 L285.2,148.1 L285.7,148.4 L286.1,148.6 L286.5,148.3 L287.0,147.8 L287.4,147.8 L287.9,147.9 L288.3,147.7 L288.8,147.5 L289.2,147.4 L289.6,147.6 L290.1,147.8 L290.5,148.0 L291.0,147.7 L291.4,147.4 L291.8,147.7 L292.3,148.1 L292.7,147.8 L293.2,147.6 L293.6,148.0 L294.0,147.7 L294.5,147.0 L294.9,146.4 L295.4,146.5 L295.8,147.2 L296.3,147.6 L296.7,147.1 L297.1,146.4 L297.6,146.5 L298.0,146.9 L298.5,146.6 L298.9,146.4 L299.3,146.4 L299.8,146.5 L300.2,146.8 L300.7,146.4 L301.1,145.8 L301.5,145.9 L302.0,146.2 L302.4,146.7 L302.9,147.1 L303.3,146.8 L303.8,146.0 L304.2,145.6 L304.6,145.4 L305.1,145.4 L305.5,145.9 L306.0,146.3 L306.4,146.2 L306.8,145.8 L307.3,145.3 L307.7,145.0 L308.2,145.2 L308.6,145.5 L309.0,146.0 L309.5,146.2 L309.9,145.5 L310.4,144.7 L310.8,144.7 L311.3,144.1 L311.7,143.3 L312.1,143.3 L312.6,144.0 L313.0,144.2 L313.5,143.8 L313.9,143.6 L314.3,143.5 L314.8,143.4 L315.2,143.0 L315.7,142.8 L316.1,143.0 L316.5,143.1 L317.0,142.9 L317.4,142.8 L317.9,143.1 L318.3,143.6 L318.8,143.8 L319.2,144.0 L319.6,144.4 L320.1,144.0 L320.5,143.2 L321.0,142.9 L321.4,143.3 L321.8,143.1 L322.3,142.2 L322.7,141.9 L323.2,142.0 L323.6,141.6 L324.1,141.4 L324.5,141.6 L324.9,141.8 L325.4,141.7 L325.8,141.5 L326.3,141.3 L326.7,141.3 L327.1,141.8 L327.6,142.7 L328.0,143.2 L328.5,143.0 L328.9,142.6 L329.3,142.9 L329.8,142.7 L330.2,141.6 L330.7,141.3 L331.1,142.0 L331.6,142.6 L332.0,142.5 L332.4,142.1 L332.9,141.9 L333.3,141.8 L333.8,142.0 L334.2,142.4 L334.6,142.2 L335.1,142.0 L335.5,142.0 L336.0,142.2 L336.4,142.4 L336.8,142.2 L337.3,141.9 L337.7,141.9 L338.2,141.9 L338.6,141.3 L339.1,141.3 L339.5,141.7 L339.9,141.6 L340.4,141.5 L340.8,141.3 L341.3,141.0 L341.7,141.6 L342.1,141.8 L342.6,141.3 L343.0,141.3 L343.5,141.7 L343.9,141.7 L344.3,141.4 L344.8,141.7 L345.2,142.3 L345.7,142.3 L346.1,141.4 L346.6,140.8 L347.0,141.1 L347.4,141.2 L347.9,140.7 L348.3,140.1 L348.8,140.3 L349.2,141.1 L349.6,141.5 L350.1,141.5 L350.5,141.1 L351.0,140.5 L351.4,140.7 L351.8,141.2 L352.3,141.1 L352.7,141.1 L353.2,141.2 L353.6,140.4 L354.1,140.0 L354.5,140.3 L354.9,140.1 L355.4,140.1 L355.8,140.2 L356.3,140.1 L356.7,139.7 L357.1,139.4 L357.6,139.6 L358.0,139.7 L358.5,139.7 L358.9,140.2 L359.4,140.3 L359.8,139.8 L360.2,139.2 L360.7,139.0 L361.1,139.0 L361.6,139.1 L362.0,139.7 L362.4,140.1 L362.9,139.1 L363.3,138.5 L363.8,138.6 L364.2,138.3 L364.6,138.3 L365.1,138.7 L365.5,138.7 L366.0,138.6 L366.4,138.6 L366.9,139.1 L367.3,139.6 L367.7,138.9 L368.2,138.1 L368.6,138.0 L369.1,138.1 L369.5,138.4 L369.9,138.5 L370.4,138.4 L370.8,137.9 L371.3,137.0 L371.7,136.9 L372.1,136.8 L372.6,136.6 L373.0,137.1 L373.5,137.1 L373.9,136.2 L374.4,135.8 L374.8,135.4 L375.2,135.2 L375.7,135.3 L376.1,135.2 L376.6,135.0 L377.0,135.1 L377.4,135.5 L377.9,136.1 L378.3,136.8 L378.8,137.1 L379.2,137.0 L379.6,136.8 L380.1,136.5 L380.5,136.7 L381.0,136.8 L381.4,136.7 L381.9,136.7 L382.3,136.3 L382.7,136.6 L383.2,137.3 L383.6,137.6 L384.1,137.6 L384.5,136.9 L384.9,136.7 L385.4,136.5 L385.8,136.1 L386.3,136.2 L386.7,136.3 L387.1,136.9 L387.6,137.0 L388.0,136.5 L388.5,137.2 L388.9,138.0 L389.4,137.7 L389.8,137.2 L390.2,136.9 L390.7,136.6 L391.1,136.4 L391.6,136.4 L392.0,136.4 L392.4,136.4 L392.9,136.6 L393.3,136.5 L393.8,136.2 L394.2,136.4 L394.7,136.1 L395.1,135.2 L395.5,134.8 L396.0,135.0 L396.4,135.6 L396.9,136.3 L397.3,136.7 L397.7,136.7 L398.2,136.6 L398.6,136.4 L399.1,135.9 L399.5,135.7 L399.9,135.7 L400.4,135.9 L400.8,136.2 L401.3,136.0 L401.7,135.7 L402.2,135.9 L402.6,136.2 L403.0,136.1 L403.5,135.7 L403.9,135.7 L404.4,135.6 L404.8,134.8 L405.2,134.4 L405.7,134.5 L406.1,134.7 L406.6,135.2 L407.0,135.2 L407.4,134.9 L407.9,134.9 L408.3,135.1 L408.8,135.1 L409.2,134.7 L409.7,134.6 L410.1,135.4 L410.5,135.8 L411.0,135.2 L411.4,134.5 L411.9,134.1 L412.3,134.2" stroke="#14e014"/>
<path d="M59.3,108.6 L59.7,108.6 L60.2,109.2 L60.6,109.5 L61.1,109.1 L61.5,109.0 L61.9,109.2 L62.4,109.3 L62.8,109.3 L63.3,109.2 L63.7,109.3 L64.2,109.6 L64.6,109.6 L65.0,109.8 L65.5,109.9 L65.9,109.5 L66.4,109.0 L66.8,109.1 L67.2,109.0 L67.7,108.8 L68.1,109.0 L68.6,109.4 L69.0,109.3 L69.4,109.1 L69.9,109.5 L70.3,109.6 L70.8,109.2 L71.2,109.3 L71.7,109.7 L72.1,109.6 L72.5,109.5 L73.0,109.6 L73.4,109.7 L73.9,109.5 L74.3,109.2 L74.7,109.4 L75.2,109.9 L75.6,110.1 L76.1,110.5 L76.5,110.7 L76.9,110.2 L77.4,109.6 L77.8,109.7 L78.3,109.7 L78.7,109.1 L79.2,109.3 L79.6,110.0 L80.0,110.0 L80.5,110.0 L80.9,109.8 L81.4,109.2 L81.8,109.2 L82.2,109.6 L82.7,109.7 L83.1,109.8 L83.6,110.1 L84.0,110.5 L84.5,110.3 L84.9,109.7 L85.3,109.2 L85.8,109.0 L86.2,108.9 L86.7,109.1 L87.1,109.8 L87.5,110.7 L88.0,110.8 L88.4,110.1 L88.9,110.3 L89.3,110.9 L89.7,110.9 L90.2,110.3 L90.6,109.8 L91.1,109.9 L91.5,110.3 L92.0,110.7 L92.4,111.0 L92.8,110.9 L93.3,110.9 L93.7,111.1 L94.2,111.3 L94.6,111.1 L95.0,110.8 L95.5,110.9 L95.9,111.2 L96.4,110.9 L96.8,110.8 L97.2,111.0 L97.7,110.9 L98.1,110.7 L98.6,110.5 L99.0,110.2 L99.5,109.5 L99.9,109.6 L100.3,109.9 L100.8,109.5 L101.2,109.2 L101.7,109.8 L102.1,110.8 L102.5,111.4 L103.0,111.5 L103.4,111.1 L103.9,111.0 L104.3,111.4 L104.7,111.8 L105.2,111.7 L105.6,111.7 L106.1,111.8 L106.5,111.8 L107.0,111.4 L107.4,111.1 L107.8,111.3 L108.3,111.5 L108.7,111.6 L109.2,111.7 L109.6,111.5 L110.0,111.3 L110.5,110.8 L110.9,109.7 L111.4,109.1 L111.8,109.1 L112.2,109.1 L112.7,109.5 L113.1,110.4 L113.6,110.9 L114.0,111.1 L114.5,111.3 L114.9,111.5 L115.3,112.0 L115.8,112.8 L116.2,112.8 L116.7,112.0 L117.1,111.8 L117.5,112.4 L118.0,112.7 L118.4,112.4 L118.9,112.1 L119.3,112.1 L119.8,111.7 L120.2,111.3 L120.6,111.3 L121.1,111.3 L121.5,111.1 L122.0,111.2 L122.4,111.7 L122.8,111.5 L123.3,110.0 L123.7,107.7 L124.2,104.0 L124.6,97.4 L125.0,88.5 L125.5,82.7 L125.9,89.0 L126.4,98.0 L126.8,104.5 L127.3,108.3 L127.7,110.2 L128.1,110.8 L128.6,111.3 L129.0,112.0 L129.5,111.8 L129.9,111.8 L130.3,112.2 L130.8,112.7 L131.2,113.2 L131.7,113.1 L132.1,112.9 L132.5,113.0 L133.0,112.5 L133.4,112.3 L133.9,112.7 L134.3,112.6 L134.8,112.5 L135.2,112.7 L135.6,112.8 L136.1,112.7 L136.5,112.4 L137.0,112.4 L137.4,112.7 L137.8,112.4 L138.3,112.1 L138.7,112.8 L139.2,113.0 L139.6,112.2 L140.0,112.1 L140.5,112.3 L140.9,112.3 L141.4,112.3 L141.8,112.3 L142.3,112.3 L142.7,112.3 L143.1,112.4 L143.6,112.5 L144.0,112.4 L144.5,112.2 L144.9,112.4 L145.3,112.6 L145.8,111.8 L146.2,110.7 L146.7,110.2 L147.1,109.0 L147.6,107.6 L148.0,109.9 L148.4,111.5 L148.9,112.1 L149.3,112.4 L149.8,112.7 L150.2,112.7 L150.6,112.5 L151.1,112.4 L151.5,112.3 L152.0,112.5 L152.4,113.0 L152.8,112.7 L153.3,112.0 L153.7,111.8 L154.2,112.2 L154.6,112.5 L155.1,112.3 L155.5,112.0 L155.9,112.2 L156.4,112.5 L156.8,112.6 L157.3,112.5 L157.7,112.2 L158.1,111.8 L158.6,111.5 L159.0,111.7 L159.5,112.1 L159.9,112.0 L160.3,112.0 L160.8,111.9 L161.2,111.7 L161.7,111.6 L162.1,111.5 L162.6,111.2 L163.0,110.7 L163.4,110.4 L163.9,110.5 L164.3,111.2 L164.8,111.6 L165.2,111.4 L165.6,111.2 L166.1,111.3 L166.5,111.5 L167.0,111.6 L167.4,111.2 L167.8,110.9 L168.3,111.4 L168.7,111.5 L169.2,111.1 L169.6,110.9 L170.1,110.9 L170.5,110.4 L170.9,110.0 L171.4,110.0 L171.8,110.3 L172.3,110.8 L172.7,111.0 L173.1,110.8 L173.6,110.9 L174.0,111.2 L174.5,110.7 L174.9,110.2 L175.3,109.7 L175.8,109.3 L176.2,109.6 L176.7,109.7 L177.1,109.5 L177.6,109.5 L178.0,109.7 L178.4,110.1 L178.9,110.2 L179.3,110.2 L179.8,110.2 L180.2,109.7 L180.6,109.4 L181.1,109.6 L181.5,110.3 L182.0,110.8 L182.4,110.2 L182.8,109.5 L183.3,109.1 L183.7,109.5 L184.2,110.5 L184.6,110.7 L185.1,110.2 L185.5,109.7 L185.9,109.2 L186.4,108.5 L186.8,108.2 L187.3,108.4 L187.7,108.5 L188.1,108.3 L188.6,108.2 L189.0,108.0 L189.5,107.3 L189.9,106.7 L190.4,107.0 L190.8,107.8 L191.2,107.9 L191.7,108.0 L192.1,108.3 L192.6,108.5 L193.0,109.3 L193.4,109.9 L193.9,109.5 L194.3,109.0 L194.8,109.1 L195.2,109.6 L195.6,109.1 L196.1,108.6 L196.5,109.4 L197.0,109.9 L197.4,109.6 L197.9,109.5 L198.3,109.6 L198.7,109.3 L199.2,109.1 L199.6,109.6 L200.1,110.0 L200.5,109.9 L200.9,109.5 L201.4,109.9 L201.8,110.3 L202.3,109.4 L202.7,109.1 L203.1,109.6 L203.6,109.7 L204.0,110.1 L204.5,110.0 L204.9,109.1 L205.4,108.8 L205.8,108.9 L206.2,108.9 L206.7,108.9 L207.1,108.8 L207.6,108.6 L208.0,108.4 L208.4,108.5 L208.9,109.0 L209.3,109.2 L209.8,108.9 L210.2,108.4 L210.6,108.4 L211.1,108.8 L211.5,109.0 L212.0,108.7 L212.4,108.5 L212.9,109.0 L213.3,108.9 L213.7,108.3 L214.2,108.4 L214.6,108.5 L215.1,108.1 L215.5,107.7 L215.9,107.7 L216.4,107.6 L216.8,107.1 L217.3,106.6 L217.7,106.6 L218.1,106.5 L218.6,106.2 L219.0,105.3 L219.5,103.6 L219.9,101.6 L220.4,100.0 L220.8,99.5 L221.2,100.6 L221.7,102.3 L222.1,103.4 L222.6,104.6 L223.0,105.5 L223.4,105.8 L223.9,106.1 L224.3,106.5 L224.8,107.1 L225.2,107.6 L225.7,107.7 L226.1,107.8 L226.5,107.9 L227.0,108.1 L227.4,108.3 L227.9,107.6 L228.3,107.1 L228.7,107.6 L229.2,108.3 L229.6,108.3 L230.1,108.0 L230.5,108.3 L230.9,108.5 L231.4,108.1 L231.8,107.9 L232.3,107.7 L232.7,107.8 L233.2,108.1 L233.6,107.9 L234.0,107.5 L234.5,107.3 L234.9,107.4 L235.4,107.8 L235.8,108.2 L236.2,108.0 L236.7,107.5 L237.1,107.4 L237.6,107.6 L238.0,107.8 L238.4,107.7 L238.9,107.4 L239.3,107.5 L239.8,107.6 L240.2,107.6 L240.7,107.3 L241.1,107.2 L241.5,107.5 L242.0,107.7 L242.4,108.2 L242.9,108.5 L243.3,107.6 L243.7,106.2 L244.2,105.7 L244.6,106.0 L245.1,106.4 L245.5,106.2 L245.9,105.3 L246.4,104.9 L246.8,104.9 L247.3,105.0 L247.7,104.9 L248.2,105.0 L248.6,105.9 L249.0,106.3 L249.5,106.3 L249.9,106.5 L250.4,106.7 L250.8,107.2 L251.2,107.4 L251.7,107.2 L252.1,107.2 L252.6,107.4 L253.0,107.6 L253.4,107.8 L253.9,107.6 L254.3,107.2 L254.8,106.8 L255.2,107.0 L255.7,107.5 L256.1,107.6 L256.5,108.0 L257.0,107.9 L257.4,107.4 L257.9,107.4 L258.3,107.4 L258.7,107.4 L259.2,107.5 L259.6,107.2 L260.1,107.4 L260.5,107.5 L261.0,107.2 L261.4,106.7 L261.8,106.4 L262.3,106.4 L262.7,106.9 L263.2,107.2 L263.6,107.1 L264.0,107.0 L264.5,107.0 L264.9,106.9 L265.4,106.9 L265.8,106.5 L266.2,106.6 L266.7,107.0 L267.1,106.9 L267.6,106.6 L268.0,106.7 L268.5,107.2 L268.9,107.5 L269.3,107.3 L269.8,106.9 L270.2,106.9 L270.7,106.9 L271.1,106.6 L271.5,106.4 L272.0,106.3 L272.4,106.1 L272.9,106.5 L273.3,106.9 L273.7,107.1 L274.2,107.4 L274.6,107.0 L275.1,106.6 L275.5,106.5 L276.0,106.0 L276.4,105.8 L276.8,105.9 L277.3,105.7 L277.7,106.0 L278.2,106.7 L278.6,106.5 L279.0,105.6 L279.5,105.3 L279.9,105.9 L280.4,105.7 L280.8,105.1 L281.2,105.3 L281.7,105.1 L282.1,104.6 L282.6,105.0 L283.0,105.3 L283.5,105.7 L283.9,106.3 L284.3,106.4 L284.8,106.1 L285.2,105.9 L285.7,105.4 L286.1,104.8 L286.5,104.4 L287.0,104.4 L287.4,104.7 L287.9,105.2 L288.3,106.0 L288.8,106.2 L289.2,105.1 L289.6,104.6 L290.1,104.8 L290.5,104.9 L291.0,104.7 L291.4,104.7 L291.8,104.6 L292.3,104.7 L292.7,105.0 L293.2,105.1 L293.6,104.9 L294.0,104.6 L294.5,104.3 L294.9,104.3 L295.4,103.9 L295.8,103.3 L296.3,103.8 L296.7,104.4 L297.1,104.1 L297.6,103.7 L298.0,103.7 L298.5,104.1 L298.9,103.9 L299.3,103.4 L299.8,103.9 L300.2,104.2 L300.7,103.8 L301.1,103.5 L301.5,103.5 L302.0,103.5 L302.4,103.2 L302.9,103.0 L303.3,102.8 L303.8,102.8 L304.2,102.8 L304.6,102.6 L305.1,102.3 L305.5,102.4 L306.0,102.8 L306.4,102.5 L306.8,102.2 L307.3,102.2 L307.7,102.2 L308.2,102.5 L308.6,102.4 L309.0,102.0 L309.5,102.3 L309.9,102.5 L310.4,102.2 L310.8,101.8 L311.3,101.6 L311.7,101.4 L312.1,101.1 L312.6,100.7 L313.0,100.8 L313.5,101.2 L313.9,100.9 L314.3,100.1 L314.8,99.8 L315.2,99.9 L315.7,100.0 L316.1,100.0 L316.5,100.2 L317.0,100.4 L317.4,100.2 L317.9,100.3 L318.3,100.4 L318.8,100.2 L319.2,100.0 L319.6,100.0 L320.1,100.0 L320.5,99.5 L321.0,99.5 L321.4,99.9 L321.8,99.8 L322.3,99.1 L322.7,98.5 L323.2,98.5 L323.6,98.3 L324.1,97.7 L324.5,97.8 L324.9,98.0 L325.4,98.2 L325.8,98.4 L326.3,98.2 L326.7,98.2 L327.1,98.4 L327.6,98.6 L328.0,99.3 L328.5,99.3 L328.9,99.3 L329.3,100.0 L329.8,100.0 L330.2,99.6 L330.7,99.5 L331.1,99.6 L331.6,100.3 L332.0,100.7 L332.4,100.7 L332.9,100.7 L333.3,100.1 L333.8,100.1 L334.2,100.6 L334.6,100.5 L335.1,100.2 L335.5,99.9 L336.0,99.8 L336.4,100.0 L336.8,100.1 L337.3,99.9 L337.7,99.8 L338.2,100.1 L338.6,99.9 L339.1,99.7 L339.5,100.0 L339.9,100.4 L340.4,100.1 L340.8,99.9 L341.3,99.9 L341.7,100.0 L342.1,100.1 L342.6,99.8 L343.0,99.5 L343.5,99.4 L343.9,99.7 L344.3,99.8 L344.8,99.3 L345.2,98.9 L345.7,99.3 L346.1,99.7 L346.6,99.5 L347.0,99.3 L347.4,99.1 L347.9,99.2 L348.3,99.4 L348.8,99.1 L349.2,99.0 L349.6,99.7 L350.1,100.1 L350.5,99.5 L351.0,99.2 L351.4,98.9 L351.8,98.5 L352.3,98.5 L352.7,99.2 L353.2,99.7 L353.6,99.6 L354.1,99.6 L354.5,99.2 L354.9,98.8 L355.4,98.7 L355.8,98.6 L356.3,98.6 L356.7,98.8 L357.1,98.9 L357.6,99.0 L358.0,98.8 L358.5,98.2 L358.9,97.5 L359.4,98.1 L359.8,98.9 L360.2,98.9 L360.7,98.5 L361.1,98.0 L361.6,97.8 L362.0,97.6 L362.4,97.3 L362.9,97.1 L363.3,97.1 L363.8,97.2 L364.2,97.3 L364.6,97.4 L365.1,97.3 L365.5,97.1 L366.0,96.7 L366.4,96.6 L366.9,96.4 L367.3,96.3 L367.7,96.3 L368.2,96.1 L368.6,96.2 L369.1,96.6 L369.5,96.9 L369.9,96.5 L370.4,95.8 L370.8,95.2 L371.3,94.9 L371.7,95.3 L372.1,95.4 L372.6,94.4 L373.0,93.9 L373.5,93.8 L373.9,93.0 L374.4,92.1 L374.8,91.6 L375.2,91.4 L375.7,91.3 L376.1,91.3 L376.6,91.5 L377.0,92.1 L377.4,92.8 L377.9,93.1 L378.3,93.6 L378.8,94.0 L379.2,93.6 L379.6,93.4 L380.1,93.9 L380.5,94.3 L381.0,94.8 L381.4,95.0 L381.9,94.5 L382.3,94.2 L382.7,94.5 L383.2,94.8 L383.6,94.5 L384.1,94.5 L384.5,94.8 L384.9,94.7 L385.4,94.9 L385.8,95.2 L386.3,94.8 L386.7,94.4 L387.1,94.8 L387.6,95.2 L388.0,95.3 L388.5,95.1 L388.9,94.6 L389.4,94.0 L389.8,94.1 L390.2,94.3 L390.7,94.0 L391.1,94.2 L391.6,94.6 L392.0,94.4 L392.4,94.2 L392.9,94.4 L393.3,94.2 L393.8,94.2 L394.2,94.2 L394.7,93.3 L395.1,92.2 L395.5,92.0 L396.0,93.2 L396.4,93.9 L396.9,93.7 L397.3,93.8 L397.7,93.9 L398.2,94.0 L398.6,94.1 L399.1,94.1 L399.5,93.5 L399.9,93.0 L400.4,93.5 L400.8,94.3 L401.3,94.8 L401.7,94.4 L402.2,93.6 L402.6,93.1 L403.0,93.3 L403.5,93.7 L403.9,94.2 L404.4,93.9 L404.8,92.7 L405.2,92.6 L405.7,93.5 L406.1,94.0 L406.6,94.4 L407.0,94.5 L407.4,94.1 L407.9,93.1 L408.3,92.5 L408.8,93.1 L409.2,93.0 L409.7,92.5 L410.1,92.8 L410.5,92.9 L411.0,92.4 L411.4,92.1 L411.9,92.2 L412.3,92.7" stroke="#0a6eb8"/>
<path d="M59.3,57.8 L59.7,57.6 L60.2,57.4 L60.6,58.1 L61.1,58.7 L61.5,58.2 L61.9,57.5 L62.4,56.9 L62.8,57.2 L63.3,58.5 L63.7,58.8 L64.2,58.2 L64.6,57.8 L65.0,58.2 L65.5,58.6 L65.9,58.8 L66.4,59.0 L66.8,58.7 L67.2,58.2 L67.7,58.6 L68.1,59.4 L68.6,59.2 L69.0,57.8 L69.4,57.4 L69.9,58.1 L70.3,58.3 L70.8,57.8 L71.2,57.4 L71.7,57.1 L72.1,57.2 L72.5,58.4 L73.0,59.2 L73.4,58.7 L73.9,58.8 L74.3,59.2 L74.7,58.1 L75.2,57.6 L75.6,58.1 L76.1,58.1 L76.5,57.8 L76.9,57.9 L77.4,58.2 L77.8,58.5 L78.3,58.7 L78.7,58.5 L79.2,58.3 L79.6,58.6 L80.0,59.2 L80.5,59.1 L80.9,58.6 L81.4,58.6 L81.8,58.7 L82.2,58.7 L82.7,58.5 L83.1,58.1 L83.6,57.8 L84.0,57.5 L84.5,58.5 L84.9,59.5 L85.3,59.1 L85.8,59.0 L86.2,59.3 L86.7,59.3 L87.1,59.7 L87.5,61.3 L88.0,63.0 L88.4,63.9 L88.9,64.0 L89.3,64.0 L89.7,64.2 L90.2,64.3 L90.6,64.6 L91.1,65.2 L91.5,65.4 L92.0,64.9 L92.4,65.2 L92.8,65.4 L93.3,65.1 L93.7,64.9 L94.2,64.8 L94.6,64.7 L95.0,65.0 L95.5,65.4 L95.9,65.1 L96.4,64.8 L96.8,64.7 L97.2,64.8 L97.7,64.8 L98.1,64.5 L98.6,64.6 L99.0,65.3 L99.5,65.0 L99.9,64.1 L100.3,63.4 L100.8,63.1 L101.2,63.7 L101.7,64.3 L102.1,65.7 L102.5,66.7 L103.0,66.7 L103.4,67.2 L103.9,66.9 L104.3,66.0 L104.7,66.0 L105.2,66.6 L105.6,67.2 L106.1,67.7 L106.5,68.2 L107.0,68.3 L107.4,68.3 L107.8,67.9 L108.3,67.4 L108.7,67.7 L109.2,68.1 L109.6,67.7 L110.0,66.9 L110.5,66.5 L110.9,65.9 L111.4,65.0 L111.8,64.5 L112.2,65.1 L112.7,66.7 L113.1,68.4 L113.6,69.4 L114.0,69.8 L114.5,69.3 L114.9,68.9 L115.3,69.4 L115.8,70.0 L116.2,70.4 L116.7,70.2 L117.1,69.8 L117.5,70.1 L118.0,69.9 L118.4,69.9 L118.9,70.5 L119.3,70.1 L119.8,69.2 L120.2,69.3 L120.6,70.1 L121.1,70.3 L121.5,69.8 L122.0,69.6 L122.4,69.2 L122.8,68.3 L123.3,64.9 L123.7,56.1 L124.2,40.0 L124.6,15.2 L125.0,-17.2 L125.5,-38.8 L125.9,-16.5 L126.4,16.1 L126.8,40.7 L127.3,55.7 L127.7,63.5 L128.1,66.5 L128.6,67.4 L129.0,68.9 L129.5,70.0 L129.9,69.7 L130.3,68.9 L130.8,69.2 L131.2,69.9 L131.7,69.8 L132.1,69.5 L132.5,69.2 L133.0,69.6 L133.4,70.0 L133.9,70.0 L134.3,69.3 L134.8,69.1 L135.2,69.6 L135.6,69.8 L136.1,70.1 L136.5,70.5 L137.0,70.4 L137.4,70.5 L137.8,70.4 L138.3,69.7 L138.7,69.8 L139.2,70.6 L139.6,71.0 L140.0,70.8 L140.5,70.2 L140.9,70.0 L141.4,70.2 L141.8,70.6 L142.3,70.2 L142.7,69.6 L143.1,69.1 L143.6,69.2 L144.0,69.1 L144.5,68.6 L144.9,68.9 L145.3,69.3 L145.8,68.5 L146.2,67.2 L146.7,65.6 L147.1,60.5 L147.6,52.9 L148.0,59.8 L148.4,65.4 L148.9,67.9 L149.3,69.1 L149.8,69.3 L150.2,69.6 L150.6,70.2 L151.1,71.1 L151.5,71.0 L152.0,70.1 L152.4,69.9 L152.8,69.9 L153.3,69.7 L153.7,70.0 L154.2,70.2 L154.6,70.9 L155.1,71.0 L155.5,70.3 L155.9,69.8 L156.4,69.7 L156.8,70.4 L157.3,70.6 L157.7,69.7 L158.1,69.8 L158.6,71.4 L159.0,72.5 L159.5,71.7 L159.9,70.8 L160.3,70.9 L160.8,70.6 L161.2,70.4 L161.7,70.3 L162.1,69.9 L162.6,69.6 L163.0,68.9 L163.4,69.1 L163.9,70.3 L164.3,71.3 L164.8,71.2 L165.2,70.9 L165.6,71.3 L166.1,71.5 L166.5,71.2 L167.0,70.7 L167.4,70.5 L167.8,70.6 L168.3,70.6 L168.7,70.2 L169.2,69.7 L169.6,69.8 L170.1,70.4 L170.5,70.9 L170.9,71.2 L171.4,71.0 L171.8,71.2 L172.3,71.9 L172.7,71.7 L173.1,71.0 L173.6,70.9 L174.0,70.9 L174.5,70.0 L174.9,69.4 L175.3,69.6 L175.8,69.6 L176.2,69.8 L176.7,69.2 L177.1,68.0 L177.6,67.5 L178.0,67.8 L178.4,67.4 L178.9,67.4 L179.3,68.4 L179.8,68.7 L180.2,69.3 L180.6,69.7 L181.1,69.1 L181.5,69.1 L182.0,69.3 L182.4,69.2 L182.8,68.8 L183.3,68.4 L183.7,68.4 L184.2,68.9 L184.6,69.6 L185.1,69.4 L185.5,68.2 L185.9,67.7 L186.4,67.9 L186.8,67.6 L187.3,66.8 L187.7,66.1 L188.1,65.4 L188.6,63.9 L189.0,62.2 L189.5,61.9 L189.9,62.6 L190.4,62.9 L190.8,62.8 L191.2,63.4 L191.7,64.4 L192.1,65.0 L192.6,65.9 L193.0,67.4 L193.4,68.6 L193.9,68.4 L194.3,67.5 L194.8,67.3 L195.2,67.3 L195.6,67.9 L196.1,68.0 L196.5,67.2 L197.0,67.6 L197.4,68.4 L197.9,68.6 L198.3,68.7 L198.7,69.5 L199.2,70.0 L199.6,69.5 L200.1,68.8 L200.5,68.8 L200.9,69.3 L201.4,69.0 L201.8,68.8 L202.3,69.4 L202.7,69.3 L203.1,68.6 L203.6,68.5 L204.0,68.4 L204.5,68.4 L204.9,68.7 L205.4,68.4 L205.8,68.0 L206.2,68.0 L206.7,68.1 L207.1,68.5 L207.6,69.1 L208.0,68.7 L208.4,68.3 L208.9,68.2 L209.3,67.7 L209.8,67.2 L210.2,67.6 L210.6,67.8 L211.1,67.2 L211.5,66.8 L212.0,67.2 L212.4,67.8 L212.9,68.1 L213.3,67.4 L213.7,67.4 L214.2,67.4 L214.6,67.0 L215.1,66.5 L215.5,65.9 L215.9,66.2 L216.4,66.4 L216.8,66.2 L217.3,66.2 L217.7,65.1 L218.1,62.8 L218.6,61.2 L219.0,60.0 L219.5,58.0 L219.9,54.4 L220.4,50.5 L220.8,49.5 L221.2,51.0 L221.7,53.7 L222.1,56.6 L222.6,58.9 L223.0,60.9 L223.4,62.3 L223.9,63.5 L224.3,65.1 L224.8,66.0 L225.2,66.3 L225.7,66.4 L226.1,66.3 L226.5,66.6 L227.0,67.0 L227.4,66.8 L227.9,67.0 L228.3,67.4 L228.7,66.6 L229.2,66.2 L229.6,67.5 L230.1,68.0 L230.5,67.2 L230.9,66.7 L231.4,66.6 L231.8,66.6 L232.3,66.3 L232.7,65.9 L233.2,66.3 L233.6,66.6 L234.0,66.0 L234.5,66.2 L234.9,66.7 L235.4,66.9 L235.8,66.7 L236.2,66.1 L236.7,66.7 L237.1,67.2 L237.6,66.8 L238.0,66.3 L238.4,66.2 L238.9,66.2 L239.3,66.4 L239.8,66.4 L240.2,65.5 L240.7,64.9 L241.1,65.0 L241.5,65.4 L242.0,65.7 L242.4,65.3 L242.9,65.2 L243.3,65.9 L243.7,65.8 L244.2,64.4 L244.6,63.2 L245.1,62.7 L245.5,62.1 L245.9,61.9 L246.4,62.0 L246.8,61.5 L247.3,61.5 L247.7,62.4 L248.2,63.0 L248.6,63.1 L249.0,62.9 L249.5,63.0 L249.9,63.2 L250.4,63.3 L250.8,63.7 L251.2,64.0 L251.7,64.9 L252.1,65.6 L252.6,64.9 L253.0,64.3 L253.4,64.5 L253.9,64.4 L254.3,64.3 L254.8,64.4 L255.2,63.9 L255.7,64.0 L256.1,63.8 L256.5,63.0 L257.0,63.6 L257.4,64.3 L257.9,64.0 L258.3,63.5 L258.7,63.2 L259.2,63.7 L259.6,64.1 L260.1,64.1 L260.5,63.8 L261.0,63.9 L261.4,64.5 L261.8,64.5 L262.3,64.2 L262.7,63.5 L263.2,62.7 L263.6,62.5 L264.0,62.3 L264.5,62.8 L264.9,63.2 L265.4,62.6 L265.8,62.0 L266.2,62.0 L266.7,62.9 L267.1,63.4 L267.6,63.1 L268.0,62.8 L268.5,62.9 L268.9,62.7 L269.3,62.2 L269.8,62.1 L270.2,62.5 L270.7,62.6 L271.1,62.9 L271.5,62.8 L272.0,62.6 L272.4,62.9 L272.9,62.2 L273.3,60.7 L273.7,60.7 L274.2,61.8 L274.6,61.9 L275.1,61.3 L275.5,61.4 L276.0,61.8 L276.4,62.0 L276.8,62.1 L277.3,61.5 L277.7,61.2 L278.2,62.0 L278.6,62.4 L279.0,61.4 L279.5,60.0 L279.9,59.9 L280.4,61.3 L280.8,62.0 L281.2,62.0 L281.7,62.1 L282.1,61.2 L282.6,59.9 L283.0,59.8 L283.5,60.4 L283.9,60.7 L284.3,60.7 L284.8,61.0 L285.2,61.1 L285.7,60.5 L286.1,60.0 L286.5,60.0 L287.0,60.3 L287.4,60.3 L287.9,59.9 L288.3,59.7 L288.8,59.6 L289.2,59.2 L289.6,59.1 L290.1,59.1 L290.5,58.6 L291.0,59.2 L291.4,60.3 L291.8,60.1 L292.3,59.6 L292.7,59.5 L293.2,59.1 L293.6,58.5 L294.0,58.3 L294.5,58.4 L294.9,58.6 L295.4,58.4 L295.8,58.4 L296.3,58.9 L296.7,58.8 L297.1,58.7 L297.6,59.0 L298.0,58.8 L298.5,57.9 L298.9,56.9 L299.3,56.5 L299.8,56.7 L300.2,57.0 L300.7,57.0 L301.1,56.9 L301.5,57.1 L302.0,57.1 L302.4,56.7 L302.9,56.5 L303.3,56.3 L303.8,56.3 L304.2,57.1 L304.6,57.6 L305.1,56.5 L305.5,55.0 L306.0,55.0 L306.4,55.1 L306.8,54.0 L307.3,53.4 L307.7,53.6 L308.2,53.7 L308.6,53.8 L309.0,53.9 L309.5,52.9 L309.9,52.6 L310.4,52.9 L310.8,53.1 L311.3,53.5 L311.7,53.6 L312.1,52.8 L312.6,51.5 L313.0,51.4 L313.5,52.2 L313.9,50.9 L314.3,49.8 L314.8,50.2 L315.2,49.8 L315.7,49.8 L316.1,50.3 L316.5,50.3 L317.0,50.3 L317.4,50.4 L317.9,50.1 L318.3,50.3 L318.8,50.8 L319.2,50.2 L319.6,49.2 L320.1,49.5 L320.5,50.6 L321.0,51.1 L321.4,51.0 L321.8,50.6 L322.3,49.6 L322.7,48.0 L323.2,47.1 L323.6,47.0 L324.1,46.4 L324.5,46.6 L324.9,46.8 L325.4,46.5 L325.8,47.4 L326.3,48.5 L326.7,48.9 L327.1,49.8 L327.6,50.7 L328.0,51.4 L328.5,51.7 L328.9,51.1 L329.3,51.4 L329.8,52.0 L330.2,52.2 L330.7,52.4 L331.1,51.9 L331.6,51.1 L332.0,50.9 L332.4,51.5 L332.9,52.3 L333.3,51.9 L333.8,51.2 L334.2,51.6 L334.6,52.2 L335.1,52.4 L335.5,51.8 L336.0,51.6 L336.4,52.5 L336.8,52.2 L337.3,50.8 L337.7,50.5 L338.2,50.9 L338.6,51.4 L339.1,51.2 L339.5,50.5 L339.9,51.0 L340.4,51.4 L340.8,51.0 L341.3,50.8 L341.7,51.0 L342.1,51.2 L342.6,50.2 L343.0,49.4 L343.5,49.6 L343.9,49.8 L344.3,49.9 L344.8,49.7 L345.2,49.3 L345.7,49.5 L346.1,49.8 L346.6,50.0 L347.0,50.2 L347.4,49.9 L347.9,49.3 L348.3,49.1 L348.8,49.1 L349.2,49.6 L349.6,50.4 L350.1,50.1 L350.5,48.6 L351.0,47.9 L351.4,48.5 L351.8,49.4 L352.3,48.7 L352.7,47.7 L353.2,48.0 L353.6,48.4 L354.1,48.1 L354.5,47.7 L354.9,47.6 L355.4,47.4 L355.8,47.4 L356.3,47.5 L356.7,47.5 L357.1,48.0 L357.6,48.0 L358.0,47.2 L358.5,46.4 L358.9,45.8 L359.4,46.4 L359.8,47.1 L360.2,47.0 L360.7,47.0 L361.1,46.8 L361.6,46.1 L362.0,45.8 L362.4,46.3 L362.9,46.6 L363.3,46.5 L363.8,46.2 L364.2,45.5 L364.6,45.3 L365.1,45.8 L365.5,45.8 L366.0,45.2 L366.4,45.2 L366.9,45.7 L367.3,45.5 L367.7,45.3 L368.2,45.4 L368.6,44.9 L369.1,44.6 L369.5,44.4 L369.9,44.0 L370.4,44.0 L370.8,43.8 L371.3,43.5 L371.7,43.1 L372.1,42.9 L372.6,42.8 L373.0,41.8 L373.5,40.8 L373.9,40.1 L374.4,39.3 L374.8,37.9 L375.2,36.8 L375.7,36.8 L376.1,37.4 L376.6,37.9 L377.0,38.4 L377.4,39.1 L377.9,39.4 L378.3,40.0 L378.8,40.8 L379.2,41.0 L379.6,41.5 L380.1,42.6 L380.5,42.3 L381.0,41.3 L381.4,41.5 L381.9,42.1 L382.3,42.2 L382.7,42.1 L383.2,42.0 L383.6,41.5 L384.1,40.4 L384.5,40.9 L384.9,42.0 L385.4,42.6 L385.8,42.8 L386.3,42.4 L386.7,42.1 L387.1,42.0 L387.6,41.7 L388.0,40.9 L388.5,40.7 L388.9,41.5 L389.4,41.9 L389.8,41.9 L390.2,42.1 L390.7,42.2 L391.1,41.8 L391.6,42.1 L392.0,42.7 L392.4,42.7 L392.9,42.2 L393.3,42.4 L393.8,42.1 L394.2,40.8 L394.7,39.5 L395.1,37.9 L395.5,36.5 L396.0,37.5 L396.4,39.2 L396.9,40.1 L397.3,40.5 L397.7,40.9 L398.2,40.8 L398.6,40.4 L399.1,40.1 L399.5,39.8 L399.9,39.8 L400.4,40.0 L400.8,40.3 L401.3,41.0 L401.7,41.0 L402.2,39.8 L402.6,38.8 L403.0,38.9 L403.5,39.8 L403.9,40.1 L404.4,39.5 L404.8,39.6 L405.2,39.9 L405.7,39.3 L406.1,38.2 L406.6,37.8 L407.0,38.0 L407.4,37.7 L407.9,37.7 L408.3,37.8 L408.8,36.8 L409.2,36.3 L409.7,36.8 L410.1,36.3 L410.5,36.1 L411.0,37.0 L411.4,37.2 L411.9,37.0 L412.3,37.1" stroke="#d4541c"/>
</g>
<g clip-path="url(#cb)" fill="none" stroke-width="1.7" stroke-linejoin="round">
<path d="M58.0,743.2 L58.3,744.6 L58.5,745.8 L58.8,744.6 L59.0,743.1 L59.3,743.3 L59.5,743.9 L59.8,743.7 L60.0,743.2 L60.3,742.9 L60.5,742.8 L60.8,742.9 L61.0,743.4 L61.3,743.8 L61.6,743.7 L61.8,742.8 L62.1,742.4 L62.3,744.0 L62.6,744.7 L62.8,743.5 L63.1,742.3 L63.3,742.6 L63.6,743.2 L63.8,743.3 L64.1,743.8 L64.4,743.9 L64.6,743.1 L64.9,742.3 L65.1,742.3 L65.4,741.8 L65.6,741.4 L65.9,741.4 L66.1,741.5 L66.4,741.3 L66.6,741.1 L66.9,742.5 L67.2,743.2 L67.4,742.0 L67.7,741.2 L67.9,740.6 L68.2,740.8 L68.4,741.7 L68.7,740.6 L68.9,739.4 L69.2,739.6 L69.4,739.7 L69.7,740.0 L69.9,741.0 L70.2,741.3 L70.5,741.5 L70.7,740.8 L71.0,739.5 L71.2,739.7 L71.5,740.0 L71.7,739.6 L72.0,739.7 L72.2,739.2 L72.5,738.3 L72.7,738.2 L73.0,738.1 L73.2,738.0 L73.5,738.3 L73.8,737.9 L74.0,737.4 L74.3,737.5 L74.5,738.4 L74.8,739.3 L75.0,738.3 L75.3,737.5 L75.5,737.5 L75.8,736.5 L76.0,735.8 L76.3,736.2 L76.6,736.8 L76.8,737.4 L77.1,737.6 L77.3,737.5 L77.6,737.6 L77.8,736.9 L78.1,736.1 L78.3,736.4 L78.6,736.8 L78.8,736.4 L79.1,735.5 L79.3,735.4 L79.6,735.4 L79.9,734.8 L80.1,734.8 L80.4,735.5 L80.6,735.2 L80.9,734.4 L81.1,734.5 L81.4,733.6 L81.6,733.0 L81.9,734.1 L82.1,734.0 L82.4,732.8 L82.7,732.5 L82.9,733.4 L83.2,734.5 L83.4,734.3 L83.7,734.0 L83.9,733.3 L84.2,732.3 L84.4,732.2 L84.7,731.8 L84.9,731.5 L85.2,731.8 L85.5,732.1 L85.7,732.7 L86.0,732.1 L86.2,731.2 L86.5,730.9 L86.7,730.7 L87.0,730.2 L87.2,730.1 L87.5,730.5 L87.7,730.1 L88.0,729.5 L88.2,730.0 L88.5,730.0 L88.8,729.0 L89.0,728.9 L89.3,729.7 L89.5,729.8 L89.8,728.7 L90.0,728.3 L90.3,729.1 L90.5,729.1 L90.8,727.5 L91.0,726.5 L91.3,727.6 L91.5,728.7 L91.8,728.3 L92.1,727.5 L92.3,728.1 L92.6,729.3 L92.8,729.4 L93.1,728.9 L93.3,728.1 L93.6,727.2 L93.8,727.0 L94.1,727.2 L94.3,727.2 L94.6,727.2 L94.9,726.6 L95.1,725.9 L95.4,726.2 L95.6,726.8 L95.9,726.5 L96.1,725.1 L96.4,723.9 L96.6,723.5 L96.9,723.3 L97.1,722.9 L97.4,722.5 L97.7,722.0 L97.9,721.3 L98.2,721.2 L98.4,720.9 L98.7,719.7 L98.9,719.2 L99.2,719.2 L99.4,718.9 L99.7,718.8 L99.9,718.7 L100.2,718.4 L100.4,717.7 L100.7,717.3 L101.0,716.5 L101.2,715.7 L101.5,715.9 L101.7,716.3 L102.0,715.5 L102.2,714.3 L102.5,713.6 L102.7,713.5 L103.0,712.8 L103.2,711.7 L103.5,711.3 L103.8,711.6 L104.0,712.5 L104.3,712.0 L104.5,710.7 L104.8,710.2 L105.0,709.2 L105.3,707.4 L105.5,706.4 L105.8,706.7 L106.0,707.3 L106.3,707.3 L106.5,705.7 L106.8,703.9 L107.1,704.1 L107.3,704.4 L107.6,703.2 L107.8,702.1 L108.1,701.6 L108.3,701.0 L108.6,701.3 L108.8,701.7 L109.1,701.3 L109.3,700.8 L109.6,700.5 L109.8,699.9 L110.1,698.2 L110.4,696.7 L110.6,696.3 L110.9,695.5 L111.1,693.8 L111.4,692.5 L111.6,691.2 L111.9,689.0 L112.1,687.3 L112.4,686.8 L112.6,685.4 L112.9,682.8 L113.2,680.5 L113.4,678.1 L113.7,676.3 L113.9,675.0 L114.2,673.5 L114.4,670.8 L114.7,667.2 L114.9,664.4 L115.2,662.2 L115.4,659.3 L115.7,656.2 L116.0,652.9 L116.2,649.3 L116.5,645.2 L116.7,640.5 L117.0,636.3 L117.2,632.2 L117.5,626.4 L117.7,619.1 L118.0,611.0 L118.2,601.9 L118.5,591.1 L118.7,578.1 L119.0,562.5 L119.3,544.3 L119.5,523.8 L119.8,499.2 L120.0,471.9 L120.3,445.3 L120.5,420.2 L120.8,408.2 L121.0,408.2 L121.3,408.2 L121.5,408.2 L121.8,408.2 L122.0,408.2 L122.3,408.2 L122.6,408.2 L122.8,408.2 L123.1,408.2 L123.3,408.2 L123.6,408.2 L123.8,408.2 L124.1,408.2 L124.3,408.2 L124.6,408.2 L124.8,408.2 L125.1,408.2 L125.4,408.2 L125.6,408.2 L125.9,408.2 L126.1,408.2 L126.4,408.2 L126.6,408.2 L126.9,408.2 L127.1,408.2 L127.4,408.2 L127.6,408.2 L127.9,421.1 L128.2,445.5 L128.4,481.9 L128.7,529.6 L128.9,578.0 L129.2,613.9 L129.4,626.3 L129.7,632.6 L129.9,638.0 L130.2,641.1 L130.4,643.3 L130.7,646.1 L130.9,649.8 L131.2,653.9 L131.5,657.1 L131.7,658.9 L132.0,660.1 L132.2,661.4 L132.5,662.8 L132.7,664.7 L133.0,667.9 L133.2,669.8 L133.5,669.9 L133.7,670.1 L134.0,670.0 L134.2,670.3 L134.5,671.6 L134.8,673.0 L135.0,673.2 L135.3,672.6 L135.5,672.6 L135.8,673.8 L136.0,674.6 L136.3,674.4 L136.5,674.6 L136.8,675.5 L137.0,676.0 L137.3,675.3 L137.6,675.0 L137.8,675.8 L138.1,676.2 L138.3,676.3 L138.6,677.0 L138.8,678.3 L139.1,678.1 L139.3,676.8 L139.6,676.3 L139.8,676.4 L140.1,676.9 L140.3,677.5 L140.6,677.3 L140.9,676.5 L141.1,675.9 L141.4,676.1 L141.6,675.8 L141.9,675.4 L142.1,675.4 L142.4,674.8 L142.6,674.0 L142.9,673.7 L143.1,673.1 L143.4,672.3 L143.7,671.6 L143.9,671.3 L144.2,671.6 L144.4,671.3 L144.7,670.3 L144.9,669.8 L145.2,669.6 L145.4,669.5 L145.7,669.6 L145.9,668.4 L146.2,666.0 L146.4,665.6 L146.7,666.2 L147.0,665.8 L147.2,665.0 L147.5,664.7 L147.7,663.8 L148.0,662.7 L148.2,662.8 L148.5,663.6 L148.7,664.0 L149.0,664.2 L149.2,663.2 L149.5,661.4 L149.8,660.4 L150.0,659.8 L150.3,659.4 L150.5,659.6 L150.8,660.0 L151.0,659.1 L151.3,657.7 L151.5,656.8 L151.8,656.5 L152.0,656.3 L152.3,656.2 L152.6,656.7 L152.8,656.8 L153.1,656.2 L153.3,655.2 L153.6,654.0 L153.8,653.4 L154.1,654.1 L154.3,654.6 L154.6,653.7 L154.8,652.7 L155.1,652.3 L155.3,651.6 L155.6,651.2 L155.9,651.1 L156.1,650.8 L156.4,650.5 L156.6,650.7 L156.9,649.6 L157.1,648.2 L157.4,647.9 L157.6,647.6 L157.9,647.2 L158.1,646.1 L158.4,645.1 L158.7,645.1 L158.9,644.3 L159.2,644.0 L159.4,644.9 L159.7,644.1 L159.9,642.0 L160.2,641.4 L160.4,642.1 L160.7,643.1 L160.9,643.9 L161.2,643.2 L161.4,642.2 L161.7,642.5 L162.0,642.5 L162.2,641.7 L162.5,641.2 L162.7,640.4 L163.0,640.0 L163.2,640.5 L163.5,641.2 L163.7,640.9 L164.0,640.2 L164.2,639.8 L164.5,639.3 L164.8,639.2 L165.0,638.9 L165.3,638.0 L165.5,637.8 L165.8,638.1 L166.0,637.6 L166.3,637.2 L166.5,638.3 L166.8,637.9 L167.0,636.3 L167.3,636.0 L167.5,636.4 L167.8,636.8 L168.1,637.2 L168.3,638.2 L168.6,638.3 L168.8,637.7 L169.1,637.8 L169.3,637.6 L169.6,636.0 L169.8,634.7 L170.1,635.7 L170.3,637.0 L170.6,637.6 L170.8,638.4 L171.1,638.5 L171.4,638.1 L171.6,637.8 L171.9,637.8 L172.1,638.0 L172.4,638.9 L172.6,639.1 L172.9,637.8 L173.1,637.0 L173.4,637.4 L173.6,638.5 L173.9,639.5 L174.2,640.0 L174.4,640.3 L174.7,640.7 L174.9,640.8 L175.2,640.6 L175.4,639.8 L175.7,639.5 L175.9,640.5 L176.2,641.5 L176.4,641.4 L176.7,641.0 L176.9,641.1 L177.2,642.4 L177.5,643.0 L177.7,642.7 L178.0,642.5 L178.2,642.0 L178.5,642.5 L178.7,643.3 L179.0,643.4 L179.2,643.9 L179.5,644.5 L179.7,645.4 L180.0,646.9 L180.3,647.1 L180.5,646.8 L180.8,647.1 L181.0,647.3 L181.3,648.4 L181.5,649.5 L181.8,649.4 L182.0,649.7 L182.3,650.2 L182.5,650.4 L182.8,651.8 L183.1,653.4 L183.3,653.6 L183.6,653.0 L183.8,653.2 L184.1,654.3 L184.3,654.2 L184.6,653.8 L184.8,654.2 L185.1,654.8 L185.3,655.1 L185.6,655.6 L185.8,657.0 L186.1,658.1 L186.4,658.4 L186.6,658.5 L186.9,658.9 L187.1,658.5 L187.4,658.1 L187.6,659.0 L187.9,660.8 L188.1,661.3 L188.4,660.4 L188.6,660.9 L188.9,662.2 L189.2,662.0 L189.4,662.7 L189.7,664.6 L189.9,664.9 L190.2,664.1 L190.4,664.1 L190.7,664.9 L190.9,665.0 L191.2,665.1 L191.4,666.5 L191.7,667.5 L191.9,666.9 L192.2,666.0 L192.5,667.2 L192.7,668.4 L193.0,669.1 L193.2,670.4 L193.5,670.4 L193.7,670.9 L194.0,671.6 L194.2,670.7 L194.5,670.8 L194.7,672.5 L195.0,672.9 L195.2,672.8 L195.5,674.3 L195.8,675.2 L196.0,674.3 L196.3,674.2 L196.5,675.1 L196.8,675.4 L197.0,675.5 L197.3,675.2 L197.5,675.1 L197.8,676.2 L198.0,676.3 L198.3,675.7 L198.6,676.1 L198.8,677.1 L199.1,677.7 L199.3,677.5 L199.6,677.9 L199.8,678.2 L200.1,678.1 L200.3,678.2 L200.6,678.6 L200.8,678.7 L201.1,678.5 L201.3,679.0 L201.6,679.7 L201.9,680.1 L202.1,680.9 L202.4,681.2 L202.6,680.8 L202.9,681.5 L203.1,682.5 L203.4,682.3 L203.6,681.6 L203.9,681.3 L204.1,681.8 L204.4,682.4 L204.7,681.7 L204.9,681.7 L205.2,683.1 L205.4,683.4 L205.7,682.6 L205.9,682.3 L206.2,682.6 L206.4,683.4 L206.7,683.7 L206.9,684.0 L207.2,685.1 L207.4,685.4 L207.7,684.5 L208.0,683.9 L208.2,684.5 L208.5,685.0 L208.7,684.8 L209.0,685.0 L209.2,685.7 L209.5,686.5 L209.7,686.5 L210.0,686.0 L210.2,685.9 L210.5,685.7 L210.8,685.2 L211.0,685.8 L211.3,687.0 L211.5,686.8 L211.8,686.4 L212.0,687.7 L212.3,688.0 L212.5,686.6 L212.8,685.7 L213.0,686.1 L213.3,687.0 L213.6,687.9 L213.8,688.3 L214.1,688.4 L214.3,688.5 L214.6,688.5 L214.8,688.5 L215.1,688.6 L215.3,688.1 L215.6,687.1 L215.8,687.5 L216.1,688.2 L216.3,687.7 L216.6,687.4 L216.9,687.8 L217.1,687.8 L217.4,687.4 L217.6,687.2 L217.9,688.7 L218.1,689.9 L218.4,689.2 L218.6,689.6 L218.9,690.6 L219.1,690.6 L219.4,689.7 L219.7,688.7 L219.9,688.8 L220.2,689.3 L220.4,689.2 L220.7,689.2 L220.9,689.7 L221.2,689.3 L221.4,688.5 L221.7,688.5 L221.9,688.6 L222.2,689.1 L222.4,689.1 L222.7,688.2 L223.0,688.7 L223.2,690.1 L223.5,690.3 L223.7,689.4 L224.0,689.2 L224.2,689.4 L224.5,689.2 L224.7,688.9 L225.0,688.9 L225.2,689.1 L225.5,689.4 L225.8,690.4 L226.0,691.0 L226.3,690.3 L226.5,689.7 L226.8,689.3 L227.0,689.0 L227.3,689.1 L227.5,689.4 L227.8,689.0 L228.0,689.2 L228.3,690.3 L228.5,690.8 L228.8,690.2 L229.1,688.9 L229.3,687.5 L229.6,687.7 L229.8,689.7 L230.1,691.2 L230.3,690.7 L230.6,689.4 L230.8,688.4 L231.1,688.4 L231.3,689.7 L231.6,689.8 L231.8,688.6 L232.1,688.6 L232.4,688.9 L232.6,688.9 L232.9,688.8 L233.1,689.3 L233.4,690.6 L233.6,691.1 L233.9,690.7 L234.1,689.4 L234.4,688.4 L234.6,689.1 L234.9,689.8 L235.2,690.4 L235.4,691.0 L235.7,690.4 L235.9,690.0 L236.2,689.6 L236.4,689.3 L236.7,690.1 L236.9,690.6 L237.2,690.6 L237.4,690.7 L237.7,690.9 L237.9,691.2 L238.2,690.9 L238.5,690.2 L238.7,690.3 L239.0,689.7 L239.2,688.8 L239.5,689.3 L239.7,690.2 L240.0,690.2 L240.2,689.8 L240.5,690.0 L240.7,690.5 L241.0,689.9 L241.3,689.4 L241.5,690.1 L241.8,690.3 L242.0,690.3 L242.3,690.2 L242.5,688.8 L242.8,688.5 L243.0,688.9 L243.3,688.7 L243.5,689.4 L243.8,690.9 L244.1,691.1 L244.3,690.7 L244.6,690.4 L244.8,690.2 L245.1,689.8 L245.3,689.4 L245.6,690.1 L245.8,691.1 L246.1,691.1 L246.3,690.8 L246.6,691.4 L246.8,691.9 L247.1,691.2 L247.4,690.5 L247.6,691.0 L247.9,691.4 L248.1,691.1 L248.4,690.0 L248.6,689.1 L248.9,689.1 L249.1,689.5 L249.4,690.4 L249.6,690.6 L249.9,690.1 L250.2,689.4 L250.4,688.6 L250.7,688.8 L250.9,689.7 L251.2,690.0 L251.4,690.2 L251.7,690.2 L251.9,689.7 L252.2,689.7 L252.4,690.0 L252.7,690.2 L252.9,690.1 L253.2,689.0 L253.5,688.6 L253.7,689.8 L254.0,689.7 L254.2,689.1 L254.5,689.0 L254.7,688.9 L255.0,689.5 L255.2,690.4 L255.5,690.2 L255.7,689.2 L256.0,689.4 L256.2,690.1 L256.5,689.7 L256.8,688.8 L257.0,688.5 L257.3,689.1 L257.5,689.4 L257.8,689.2 L258.0,689.3 L258.3,689.7 L258.5,690.3 L258.8,689.7 L259.0,688.5 L259.3,688.7 L259.6,689.7 L259.8,690.7 L260.1,690.1 L260.3,688.7 L260.6,688.6 L260.8,689.5 L261.1,689.6 L261.3,689.3 L261.6,689.0 L261.8,689.2 L262.1,689.5 L262.4,688.4 L262.6,688.0 L262.9,688.8 L263.1,688.9 L263.4,689.3 L263.6,689.5 L263.9,688.8 L264.1,689.0 L264.4,689.6 L264.6,689.4 L264.9,689.1 L265.1,688.4 L265.4,687.8 L265.7,687.5 L265.9,688.0 L266.2,688.8 L266.4,688.7 L266.7,688.1 L266.9,687.8 L267.2,687.5 L267.4,687.1 L267.7,686.8 L267.9,687.6 L268.2,688.7 L268.4,688.2 L268.7,687.5 L269.0,687.7 L269.2,687.6 L269.5,687.4 L269.7,687.8 L270.0,687.7 L270.2,687.3 L270.5,687.5 L270.7,687.7 L271.0,687.1 L271.2,685.3 L271.5,685.5 L271.8,687.5 L272.0,688.1 L272.3,686.8 L272.5,686.1 L272.8,686.9 L273.0,687.3 L273.3,687.1 L273.5,686.0 L273.8,685.1 L274.0,685.8 L274.3,686.7 L274.6,686.7 L274.8,685.5 L275.1,685.2 L275.3,685.8 L275.6,686.0 L275.8,686.7 L276.1,686.5 L276.3,685.3 L276.6,684.9 L276.8,685.1 L277.1,686.2 L277.3,686.6 L277.6,685.7 L277.9,685.8 L278.1,686.2 L278.4,685.6 L278.6,685.0 L278.9,684.9 L279.1,685.0 L279.4,685.3 L279.6,685.9 L279.9,685.8 L280.1,685.6 L280.4,685.9 L280.6,685.3 L280.9,684.6 L281.2,684.6 L281.4,684.8 L281.7,684.8 L281.9,684.5 L282.2,684.3 L282.4,684.0 L282.7,684.1 L282.9,684.5 L283.2,684.7 L283.4,684.4 L283.7,684.0 L284.0,683.6 L284.2,683.6 L284.5,685.4 L284.7,686.3 L285.0,684.3 L285.2,683.0 L285.5,683.2 L285.7,683.3 L286.0,683.5 L286.2,683.8 L286.5,683.6 L286.8,683.9 L287.0,684.5 L287.3,683.8 L287.5,683.9 L287.8,684.6 L288.0,683.8 L288.3,683.9 L288.5,684.9 L288.8,684.3 L289.0,683.3 L289.3,682.9 L289.5,683.1 L289.8,683.5 L290.1,683.3 L290.3,682.8 L290.6,682.5 L290.8,682.4 L291.1,681.8 L291.3,681.4 L291.6,681.5 L291.8,682.3 L292.1,682.9 L292.3,682.4 L292.6,682.6 L292.9,682.8 L293.1,682.0 L293.4,681.6 L293.6,681.2 L293.9,680.9 L294.1,681.3 L294.4,681.1 L294.6,680.8 L294.9,680.5 L295.1,680.4 L295.4,680.6 L295.6,680.9 L295.9,681.2 L296.2,680.7 L296.4,680.3 L296.7,681.0 L296.9,681.8 L297.2,681.6 L297.4,680.6 L297.7,680.7 L297.9,681.3 L298.2,681.0 L298.4,680.5 L298.7,680.3 L298.9,679.8 L299.2,679.6 L299.5,679.5 L299.7,679.7 L300.0,680.2 L300.2,679.4 L300.5,679.1 L300.7,679.9 L301.0,680.0 L301.2,680.7 L301.5,681.2 L301.7,680.2 L302.0,679.9 L302.3,680.5 L302.5,680.1 L302.8,678.9 L303.0,678.1 L303.3,678.5 L303.5,679.2 L303.8,679.6 L304.0,679.1 L304.3,678.0 L304.5,677.7 L304.8,677.8 L305.1,677.4 L305.3,677.7 L305.6,677.5 L305.8,676.2 L306.1,675.8 L306.3,676.3 L306.6,676.7 L306.8,677.3 L307.1,678.1 L307.3,678.7 L307.6,678.7 L307.8,677.6 L308.1,676.3 L308.4,675.7 L308.6,675.4 L308.9,676.2 L309.1,677.6 L309.4,677.4 L309.6,676.4 L309.9,676.1 L310.1,675.9 L310.4,675.8 L310.6,675.2 L310.9,674.4 L311.1,674.3 L311.4,674.3 L311.7,674.7 L311.9,675.1 L312.2,675.4 L312.4,675.7 L312.7,675.1 L312.9,674.6 L313.2,674.8 L313.4,675.0 L313.7,675.7 L313.9,676.0 L314.2,675.1 L314.5,673.6 L314.7,673.1 L315.0,673.0 L315.2,672.5 L315.5,673.1 L315.7,673.8 L316.0,673.0 L316.2,673.1 L316.5,673.5 L316.7,672.8 L317.0,671.6 L317.2,670.7 L317.5,670.8 L317.8,671.2 L318.0,671.4 L318.3,671.1 L318.5,670.8 L318.8,671.6 L319.0,672.1 L319.3,671.9 L319.5,672.0 L319.8,671.8 L320.0,670.5 L320.3,669.2 L320.6,668.9 L320.8,669.4 L321.1,670.1 L321.3,670.5 L321.6,670.9 L321.8,671.1 L322.1,670.5 L322.3,670.4 L322.6,671.2 L322.8,671.0 L323.1,670.2 L323.4,669.6 L323.6,669.4 L323.9,669.6 L324.1,669.2 L324.4,668.5 L324.6,668.8 L324.9,669.6 L325.1,670.1 L325.4,669.8 L325.6,669.4 L325.9,668.9 L326.1,668.2 L326.4,667.6 L326.7,667.7 L326.9,668.1 L327.2,668.8 L327.4,669.0 L327.7,669.0 L327.9,669.0 L328.2,668.6 L328.4,667.8 L328.7,667.1 L328.9,667.1 L329.2,666.8 L329.4,666.4 L329.7,666.7 L330.0,666.9 L330.2,667.0 L330.5,667.6 L330.7,667.7 L331.0,667.4 L331.2,668.0 L331.5,668.5 L331.7,667.9 L332.0,667.5 L332.2,667.0 L332.5,666.2 L332.8,666.2 L333.0,666.9 L333.3,667.1 L333.5,667.4 L333.8,667.6 L334.0,667.5 L334.3,667.0 L334.5,666.3 L334.8,666.5 L335.0,666.8 L335.3,667.0 L335.6,665.8 L335.8,664.9 L336.1,666.0 L336.3,666.4 L336.6,665.8 L336.8,664.8 L337.1,664.3 L337.3,665.1 L337.6,665.5 L337.8,665.5 L338.1,665.5 L338.3,665.7 L338.6,666.1 L338.9,666.2 L339.1,666.2 L339.4,666.4 L339.6,665.9 L339.9,665.0 L340.1,664.6 L340.4,664.7 L340.6,664.9 L340.9,665.1 L341.1,665.6 L341.4,665.4 L341.6,664.6 L341.9,664.0 L342.2,664.8 L342.4,665.9 L342.7,665.4 L342.9,664.9 L343.2,664.9 L343.4,664.8 L343.7,665.0 L343.9,664.7 L344.2,664.1 L344.4,664.5 L344.7,665.2 L345.0,665.2 L345.2,665.0 L345.5,665.5 L345.7,665.5 L346.0,664.8 L346.2,663.8 L346.5,663.1 L346.7,664.1 L347.0,664.4 L347.2,663.6 L347.5,663.0 L347.8,662.7 L348.0,662.8 L348.3,663.2 L348.5,664.1 L348.8,664.3 L349.0,663.5 L349.3,663.0 L349.5,663.4 L349.8,664.0 L350.0,663.4 L350.3,662.9 L350.5,662.9 L350.8,662.9 L351.1,663.6 L351.3,663.9 L351.6,663.3 L351.8,662.9 L352.1,663.2 L352.3,663.1 L352.6,663.0 L352.8,663.0 L353.1,663.0 L353.3,662.8 L353.6,662.6 L353.9,663.3 L354.1,663.6 L354.4,663.4 L354.6,664.5 L354.9,664.5 L355.1,662.5 L355.4,661.6 L355.6,662.2 L355.9,662.4 L356.1,662.5 L356.4,662.7 L356.6,662.1 L356.9,661.7 L357.2,662.4 L357.4,663.1 L357.7,662.5 L357.9,661.7 L358.2,662.1 L358.4,663.2 L358.7,663.4 L358.9,662.7 L359.2,661.7 L359.4,661.0 L359.7,661.7 L359.9,662.2 L360.2,661.7 L360.5,661.9 L360.7,661.6 L361.0,661.0 L361.2,661.7 L361.5,662.4 L361.7,662.1 L362.0,662.3 L362.2,662.4 L362.5,662.1 L362.7,662.7 L363.0,662.8" stroke="#000000"/>
<path d="M58.0,718.1 L58.3,719.1 L58.5,719.8 L58.8,719.6 L59.0,719.0 L59.3,717.6 L59.5,717.2 L59.8,717.2 L60.0,717.3 L60.3,718.4 L60.5,718.8 L60.8,717.9 L61.0,717.7 L61.3,717.9 L61.6,717.0 L61.8,716.5 L62.1,717.1 L62.3,717.2 L62.6,716.7 L62.8,716.3 L63.1,715.9 L63.3,715.7 L63.6,715.9 L63.8,716.8 L64.1,716.8 L64.4,716.2 L64.6,716.5 L64.9,716.7 L65.1,716.2 L65.4,715.9 L65.6,715.9 L65.9,715.1 L66.1,715.2 L66.4,716.9 L66.6,717.2 L66.9,715.8 L67.2,715.0 L67.4,713.6 L67.7,712.9 L67.9,714.2 L68.2,715.1 L68.4,714.7 L68.7,714.4 L68.9,714.7 L69.2,714.8 L69.4,714.9 L69.7,715.2 L69.9,714.4 L70.2,713.4 L70.5,713.0 L70.7,713.1 L71.0,713.6 L71.2,713.9 L71.5,713.4 L71.7,712.5 L72.0,712.4 L72.2,712.3 L72.5,711.6 L72.7,711.9 L73.0,713.6 L73.2,714.8 L73.5,714.0 L73.8,712.8 L74.0,712.4 L74.3,712.6 L74.5,712.4 L74.8,712.0 L75.0,712.8 L75.3,713.5 L75.5,712.3 L75.8,711.4 L76.0,711.6 L76.3,711.2 L76.6,710.9 L76.8,711.0 L77.1,711.3 L77.3,711.6 L77.6,710.8 L77.8,710.1 L78.1,710.8 L78.3,711.0 L78.6,710.6 L78.8,710.5 L79.1,709.9 L79.3,709.7 L79.6,709.9 L79.9,709.9 L80.1,709.8 L80.4,709.5 L80.6,710.0 L80.9,710.5 L81.1,710.6 L81.4,710.9 L81.6,710.9 L81.9,710.8 L82.1,709.9 L82.4,708.8 L82.7,708.8 L82.9,710.0 L83.2,711.1 L83.4,709.8 L83.7,708.6 L83.9,708.8 L84.2,708.9 L84.4,708.5 L84.7,708.5 L84.9,709.5 L85.2,709.5 L85.5,708.6 L85.7,708.0 L86.0,707.9 L86.2,708.6 L86.5,708.7 L86.7,707.2 L87.0,707.1 L87.2,707.5 L87.5,707.1 L87.7,707.5 L88.0,707.0 L88.2,706.1 L88.5,706.1 L88.8,706.4 L89.0,706.9 L89.3,707.0 L89.5,706.8 L89.8,706.5 L90.0,705.5 L90.3,705.0 L90.5,706.0 L90.8,706.4 L91.0,705.2 L91.3,704.7 L91.5,705.3 L91.8,705.0 L92.1,704.0 L92.3,703.5 L92.6,703.9 L92.8,704.1 L93.1,703.9 L93.3,702.9 L93.6,701.0 L93.8,701.0 L94.1,702.5 L94.3,701.8 L94.6,699.8 L94.9,698.8 L95.1,698.4 L95.4,698.6 L95.6,699.0 L95.9,698.7 L96.1,698.0 L96.4,698.6 L96.6,699.3 L96.9,699.1 L97.1,698.6 L97.4,697.4 L97.7,696.7 L97.9,696.7 L98.2,696.8 L98.4,697.2 L98.7,696.7 L98.9,695.9 L99.2,695.2 L99.4,694.7 L99.7,694.1 L99.9,694.1 L100.2,694.6 L100.4,693.9 L100.7,692.7 L101.0,692.5 L101.2,692.0 L101.5,691.2 L101.7,690.4 L102.0,689.7 L102.2,690.3 L102.5,691.1 L102.7,690.5 L103.0,689.1 L103.2,688.2 L103.5,687.6 L103.8,686.3 L104.0,685.2 L104.3,685.6 L104.5,686.3 L104.8,685.7 L105.0,685.3 L105.3,685.6 L105.5,685.3 L105.8,684.8 L106.0,683.6 L106.3,682.2 L106.5,682.1 L106.8,681.5 L107.1,680.7 L107.3,680.7 L107.6,680.3 L107.8,679.6 L108.1,678.7 L108.3,677.7 L108.6,676.7 L108.8,676.2 L109.1,675.3 L109.3,674.3 L109.6,673.9 L109.8,673.0 L110.1,672.1 L110.4,672.0 L110.6,671.8 L110.9,671.0 L111.1,669.7 L111.4,668.4 L111.6,667.0 L111.9,666.1 L112.1,665.7 L112.4,665.4 L112.6,664.2 L112.9,662.8 L113.2,661.9 L113.4,660.3 L113.7,658.1 L113.9,655.9 L114.2,654.4 L114.4,652.8 L114.7,650.8 L114.9,649.1 L115.2,646.0 L115.4,641.9 L115.7,638.5 L116.0,633.8 L116.2,628.7 L116.5,624.7 L116.7,620.5 L117.0,613.6 L117.2,602.6 L117.5,590.5 L117.7,579.4 L118.0,567.1 L118.2,553.3 L118.5,540.5 L118.7,527.0 L119.0,512.6 L119.3,497.2 L119.5,479.8 L119.8,461.6 L120.0,443.7 L120.3,425.9 L120.5,408.2 L120.8,408.2 L121.0,408.2 L121.3,408.2 L121.5,408.2 L121.8,408.2 L122.0,408.2 L122.3,408.2 L122.6,408.2 L122.8,408.2 L123.1,408.2 L123.3,408.2 L123.6,408.2 L123.8,408.2 L124.1,408.2 L124.3,408.2 L124.6,408.2 L124.8,408.2 L125.1,408.2 L125.4,408.2 L125.6,408.2 L125.9,408.2 L126.1,408.2 L126.4,408.2 L126.6,408.2 L126.9,408.2 L127.1,408.2 L127.4,408.2 L127.6,408.2 L127.9,424.2 L128.2,445.3 L128.4,472.3 L128.7,501.9 L128.9,528.7 L129.2,549.6 L129.4,566.1 L129.7,581.4 L129.9,595.1 L130.2,605.6 L130.4,612.6 L130.7,617.7 L130.9,622.8 L131.2,627.3 L131.5,631.0 L131.7,634.7 L132.0,637.4 L132.2,639.4 L132.5,641.8 L132.7,644.3 L133.0,645.8 L133.2,646.2 L133.5,646.4 L133.7,647.1 L134.0,649.6 L134.2,652.3 L134.5,653.3 L134.8,653.6 L135.0,653.6 L135.3,653.3 L135.5,653.6 L135.8,654.8 L136.0,656.0 L136.3,656.3 L136.5,655.5 L136.8,654.7 L137.0,655.3 L137.3,656.4 L137.6,656.7 L137.8,657.3 L138.1,658.0 L138.3,658.8 L138.6,658.9 L138.8,657.9 L139.1,658.2 L139.3,659.3 L139.6,659.2 L139.8,658.9 L140.1,658.6 L140.3,657.8 L140.6,657.4 L140.9,657.7 L141.1,657.1 L141.4,656.4 L141.6,656.2 L141.9,656.6 L142.1,656.7 L142.4,655.3 L142.6,654.5 L142.9,655.0 L143.1,654.3 L143.4,653.3 L143.7,653.5 L143.9,653.1 L144.2,652.2 L144.4,652.2 L144.7,652.1 L144.9,651.7 L145.2,651.7 L145.4,651.9 L145.7,651.4 L145.9,650.2 L146.2,649.7 L146.4,649.9 L146.7,649.8 L147.0,648.5 L147.2,647.7 L147.5,648.4 L147.7,648.8 L148.0,648.3 L148.2,648.0 L148.5,647.0 L148.7,646.5 L149.0,647.3 L149.2,647.5 L149.5,647.3 L149.8,647.1 L150.0,647.1 L150.3,647.2 L150.5,646.3 L150.8,644.8 L151.0,643.8 L151.3,643.6 L151.5,643.4 L151.8,643.4 L152.0,643.8 L152.3,643.7 L152.6,643.5 L152.8,643.8 L153.1,643.8 L153.3,643.3 L153.6,642.6 L153.8,642.1 L154.1,641.4 L154.3,640.9 L154.6,641.2 L154.8,641.3 L155.1,640.5 L155.3,639.6 L155.6,639.5 L155.9,639.6 L156.1,638.8 L156.4,637.8 L156.6,638.1 L156.9,638.0 L157.1,637.3 L157.4,637.6 L157.6,638.0 L157.9,637.4 L158.1,636.4 L158.4,635.7 L158.7,635.5 L158.9,635.2 L159.2,634.2 L159.4,633.6 L159.7,633.1 L159.9,632.2 L160.2,631.8 L160.4,630.8 L160.7,629.7 L160.9,629.4 L161.2,629.8 L161.4,630.6 L161.7,630.1 L162.0,629.2 L162.2,628.8 L162.5,628.4 L162.7,628.6 L163.0,628.4 L163.2,627.4 L163.5,626.7 L163.7,626.3 L164.0,626.5 L164.2,626.4 L164.5,625.6 L164.8,625.4 L165.0,624.6 L165.3,622.9 L165.5,622.6 L165.8,623.4 L166.0,623.5 L166.3,622.6 L166.5,621.6 L166.8,621.3 L167.0,622.1 L167.3,622.6 L167.5,622.6 L167.8,621.9 L168.1,621.6 L168.3,622.6 L168.6,623.4 L168.8,623.1 L169.1,621.7 L169.3,620.9 L169.6,621.5 L169.8,622.1 L170.1,621.7 L170.3,621.2 L170.6,621.1 L170.8,621.7 L171.1,622.3 L171.4,621.7 L171.6,621.4 L171.9,622.3 L172.1,622.7 L172.4,622.7 L172.6,623.8 L172.9,624.5 L173.1,624.0 L173.4,624.1 L173.6,625.1 L173.9,626.0 L174.2,626.5 L174.4,626.4 L174.7,625.7 L174.9,625.2 L175.2,625.5 L175.4,625.8 L175.7,625.8 L175.9,625.9 L176.2,626.3 L176.4,627.0 L176.7,627.6 L176.9,627.9 L177.2,628.3 L177.5,629.4 L177.7,630.4 L178.0,630.0 L178.2,629.3 L178.5,630.2 L178.7,630.8 L179.0,630.9 L179.2,631.7 L179.5,632.1 L179.7,632.2 L180.0,632.3 L180.3,632.5 L180.5,633.1 L180.8,632.7 L181.0,632.8 L181.3,633.8 L181.5,634.8 L181.8,635.9 L182.0,636.4 L182.3,636.1 L182.5,636.0 L182.8,636.4 L183.1,637.2 L183.3,638.1 L183.6,638.9 L183.8,638.7 L184.1,638.5 L184.3,639.3 L184.6,640.8 L184.8,641.7 L185.1,641.6 L185.3,641.2 L185.6,640.9 L185.8,641.4 L186.1,643.1 L186.4,644.0 L186.6,642.5 L186.9,642.0 L187.1,643.1 L187.4,643.8 L187.6,644.4 L187.9,645.0 L188.1,645.7 L188.4,645.7 L188.6,645.7 L188.9,646.8 L189.2,647.8 L189.4,648.4 L189.7,647.9 L189.9,648.0 L190.2,648.6 L190.4,648.1 L190.7,648.1 L190.9,648.3 L191.2,649.3 L191.4,650.9 L191.7,651.0 L191.9,650.9 L192.2,651.4 L192.5,650.6 L192.7,650.8 L193.0,652.2 L193.2,652.5 L193.5,652.9 L193.7,653.8 L194.0,654.3 L194.2,654.7 L194.5,654.2 L194.7,654.0 L195.0,655.0 L195.2,655.8 L195.5,655.8 L195.8,655.5 L196.0,655.8 L196.3,656.4 L196.5,656.4 L196.8,656.1 L197.0,656.3 L197.3,657.2 L197.5,658.0 L197.8,658.3 L198.0,658.2 L198.3,658.7 L198.6,658.7 L198.8,658.3 L199.1,658.9 L199.3,659.9 L199.6,659.8 L199.8,658.9 L200.1,659.1 L200.3,659.5 L200.6,659.3 L200.8,660.0 L201.1,660.6 L201.3,660.2 L201.6,660.4 L201.9,661.1 L202.1,661.6 L202.4,661.7 L202.6,662.3 L202.9,663.0 L203.1,663.2 L203.4,662.9 L203.6,662.5 L203.9,662.7 L204.1,662.7 L204.4,662.4 L204.7,662.4 L204.9,662.8 L205.2,663.9 L205.4,664.7 L205.7,664.1 L205.9,664.2 L206.2,664.4 L206.4,664.0 L206.7,664.0 L206.9,664.2 L207.2,664.3 L207.4,665.0 L207.7,665.7 L208.0,665.8 L208.2,666.2 L208.5,666.4 L208.7,665.5 L209.0,664.9 L209.2,665.5 L209.5,666.3 L209.7,666.0 L210.0,665.9 L210.2,666.7 L210.5,666.9 L210.8,666.8 L211.0,667.1 L211.3,667.4 L211.5,667.8 L211.8,667.2 L212.0,665.2 L212.3,664.4 L212.5,665.5 L212.8,666.4 L213.0,667.1 L213.3,667.2 L213.6,667.1 L213.8,667.0 L214.1,666.5 L214.3,666.4 L214.6,667.2 L214.8,667.9 L215.1,667.8 L215.3,667.7 L215.6,667.7 L215.8,667.6 L216.1,667.4 L216.3,667.5 L216.6,667.5 L216.9,666.9 L217.1,666.7 L217.4,667.4 L217.6,667.7 L217.9,668.0 L218.1,668.6 L218.4,669.0 L218.6,668.8 L218.9,669.2 L219.1,669.4 L219.4,668.0 L219.7,667.0 L219.9,668.1 L220.2,668.7 L220.4,667.8 L220.7,668.0 L220.9,668.6 L221.2,668.2 L221.4,668.9 L221.7,669.7 L221.9,668.6 L222.2,668.0 L222.4,668.3 L222.7,667.8 L223.0,667.3 L223.2,667.9 L223.5,667.9 L223.7,667.7 L224.0,668.5 L224.2,669.0 L224.5,669.1 L224.7,669.1 L225.0,669.0 L225.2,669.1 L225.5,669.0 L225.8,668.0 L226.0,668.0 L226.3,668.9 L226.5,668.8 L226.8,668.4 L227.0,668.1 L227.3,668.3 L227.5,668.4 L227.8,668.2 L228.0,668.6 L228.3,668.4 L228.5,668.2 L228.8,669.1 L229.1,669.4 L229.3,668.2 L229.6,666.9 L229.8,666.9 L230.1,667.5 L230.3,668.2 L230.6,668.6 L230.8,667.9 L231.1,667.8 L231.3,668.4 L231.6,668.1 L231.8,667.6 L232.1,668.1 L232.4,669.2 L232.6,669.5 L232.9,668.6 L233.1,668.3 L233.4,668.8 L233.6,669.4 L233.9,669.5 L234.1,668.7 L234.4,668.6 L234.6,668.8 L234.9,668.1 L235.2,668.1 L235.4,668.0 L235.7,666.9 L235.9,666.8 L236.2,668.1 L236.4,669.5 L236.7,669.6 L236.9,669.4 L237.2,669.4 L237.4,668.9 L237.7,668.5 L237.9,668.3 L238.2,668.7 L238.5,669.4 L238.7,669.3 L239.0,669.2 L239.2,668.4 L239.5,667.3 L239.7,667.6 L240.0,668.6 L240.2,668.5 L240.5,667.4 L240.7,667.1 L241.0,667.6 L241.3,667.9 L241.5,668.1 L241.8,668.4 L242.0,668.6 L242.3,668.5 L242.5,668.8 L242.8,669.6 L243.0,669.9 L243.3,669.5 L243.5,668.9 L243.8,668.4 L244.1,668.1 L244.3,668.6 L244.6,669.1 L244.8,668.9 L245.1,667.7 L245.3,666.8 L245.6,667.5 L245.8,668.7 L246.1,669.2 L246.3,669.5 L246.6,669.3 L246.8,669.1 L247.1,669.3 L247.4,669.2 L247.6,668.6 L247.9,668.3 L248.1,668.5 L248.4,668.4 L248.6,668.7 L248.9,670.0 L249.1,670.6 L249.4,669.8 L249.6,669.2 L249.9,668.8 L250.2,668.6 L250.4,669.0 L250.7,669.0 L250.9,668.9 L251.2,669.7 L251.4,670.0 L251.7,668.9 L251.9,667.6 L252.2,668.2 L252.4,669.3 L252.7,668.7 L252.9,668.6 L253.2,669.1 L253.5,668.6 L253.7,668.7 L254.0,669.1 L254.2,669.3 L254.5,669.5 L254.7,670.1 L255.0,670.3 L255.2,669.3 L255.5,668.5 L255.7,668.0 L256.0,667.5 L256.2,667.7 L256.5,667.8 L256.8,667.4 L257.0,667.8 L257.3,668.6 L257.5,668.9 L257.8,668.9 L258.0,668.6 L258.3,668.8 L258.5,668.8 L258.8,668.4 L259.0,668.3 L259.3,668.1 L259.6,668.0 L259.8,667.9 L260.1,668.4 L260.3,669.5 L260.6,669.2 L260.8,668.3 L261.1,667.9 L261.3,667.0 L261.6,666.6 L261.8,668.0 L262.1,669.0 L262.4,668.1 L262.6,667.2 L262.9,667.2 L263.1,667.4 L263.4,667.9 L263.6,668.2 L263.9,668.1 L264.1,668.0 L264.4,668.0 L264.6,667.8 L264.9,668.0 L265.1,668.1 L265.4,666.9 L265.7,666.6 L265.9,668.2 L266.2,668.2 L266.4,667.1 L266.7,667.2 L266.9,667.2 L267.2,666.8 L267.4,667.7 L267.7,669.1 L267.9,668.5 L268.2,666.4 L268.4,665.0 L268.7,664.8 L269.0,665.9 L269.2,667.2 L269.5,667.1 L269.7,666.0 L270.0,665.2 L270.2,665.4 L270.5,665.9 L270.7,665.9 L271.0,666.3 L271.2,666.8 L271.5,666.6 L271.8,666.3 L272.0,665.6 L272.3,665.2 L272.5,666.2 L272.8,666.7 L273.0,666.3 L273.3,667.0 L273.5,667.0 L273.8,665.0 L274.0,664.5 L274.3,665.9 L274.6,665.4 L274.8,664.7 L275.1,666.1 L275.3,666.6 L275.6,666.7 L275.8,667.7 L276.1,666.8 L276.3,665.0 L276.6,664.9 L276.8,665.6 L277.1,665.5 L277.3,664.9 L277.6,664.5 L277.9,664.0 L278.1,663.9 L278.4,664.3 L278.6,664.0 L278.9,664.5 L279.1,665.3 L279.4,665.4 L279.6,665.5 L279.9,665.1 L280.1,664.8 L280.4,664.6 L280.6,664.6 L280.9,665.2 L281.2,665.2 L281.4,665.0 L281.7,664.8 L281.9,664.1 L282.2,663.9 L282.4,664.1 L282.7,664.0 L282.9,663.8 L283.2,663.8 L283.4,664.5 L283.7,664.9 L284.0,664.1 L284.2,663.8 L284.5,664.2 L284.7,664.8 L285.0,665.1 L285.2,664.9 L285.5,664.9 L285.7,664.5 L286.0,663.9 L286.2,663.7 L286.5,664.3 L286.8,665.6 L287.0,665.8 L287.3,664.7 L287.5,663.7 L287.8,663.4 L288.0,663.2 L288.3,663.3 L288.5,664.2 L288.8,664.3 L289.0,664.8 L289.3,665.4 L289.5,665.1 L289.8,665.4 L290.1,665.7 L290.3,665.0 L290.6,664.3 L290.8,663.8 L291.1,663.5 L291.3,663.8 L291.6,663.4 L291.8,663.8 L292.1,664.6 L292.3,664.3 L292.6,663.4 L292.9,663.6 L293.1,664.2 L293.4,663.7 L293.6,662.7 L293.9,662.3 L294.1,662.9 L294.4,663.3 L294.6,662.5 L294.9,662.0 L295.1,662.8 L295.4,663.4 L295.6,662.8 L295.9,662.2 L296.2,662.4 L296.4,662.9 L296.7,662.3 L296.9,661.3 L297.2,661.8 L297.4,662.8 L297.7,663.0 L297.9,663.3 L298.2,662.9 L298.4,662.5 L298.7,662.0 L298.9,661.6 L299.2,662.4 L299.5,662.6 L299.7,660.6 L300.0,659.3 L300.2,660.0 L300.5,660.4 L300.7,660.8 L301.0,661.4 L301.2,661.0 L301.5,660.8 L301.7,660.7 L302.0,660.3 L302.3,660.9 L302.5,661.6 L302.8,661.8 L303.0,662.1 L303.3,661.8 L303.5,661.1 L303.8,661.3 L304.0,661.0 L304.3,659.6 L304.5,658.5 L304.8,658.6 L305.1,658.3 L305.3,658.5 L305.6,659.4 L305.8,659.7 L306.1,660.0 L306.3,659.9 L306.6,659.1 L306.8,658.8 L307.1,658.5 L307.3,658.1 L307.6,658.4 L307.8,658.7 L308.1,658.9 L308.4,659.2 L308.6,659.1 L308.9,658.5 L309.1,657.7 L309.4,657.9 L309.6,658.3 L309.9,658.0 L310.1,657.9 L310.4,657.7 L310.6,657.3 L310.9,657.1 L311.1,657.2 L311.4,657.7 L311.7,657.8 L311.9,657.3 L312.2,657.2 L312.4,657.2 L312.7,657.4 L312.9,657.2 L313.2,657.1 L313.4,657.0 L313.7,656.2 L313.9,656.2 L314.2,657.1 L314.5,656.7 L314.7,655.8 L315.0,656.2 L315.2,656.3 L315.5,654.9 L315.7,654.2 L316.0,654.7 L316.2,654.6 L316.5,654.4 L316.7,654.8 L317.0,654.6 L317.2,654.7 L317.5,654.9 L317.8,654.5 L318.0,654.2 L318.3,654.6 L318.5,655.1 L318.8,655.3 L319.0,655.5 L319.3,655.3 L319.5,655.0 L319.8,654.4 L320.0,653.8 L320.3,653.8 L320.6,653.9 L320.8,653.9 L321.1,653.7 L321.3,653.3 L321.6,653.1 L321.8,652.3 L322.1,651.9 L322.3,651.5 L322.6,651.2 L322.8,652.2 L323.1,653.4 L323.4,653.3 L323.6,652.5 L323.9,652.8 L324.1,653.4 L324.4,653.2 L324.6,653.1 L324.9,653.0 L325.1,652.5 L325.4,652.4 L325.6,652.0 L325.9,651.2 L326.1,650.1 L326.4,649.4 L326.7,650.3 L326.9,651.5 L327.2,652.4 L327.4,652.7 L327.7,651.8 L327.9,650.8 L328.2,651.0 L328.4,651.3 L328.7,650.5 L328.9,650.3 L329.2,650.5 L329.4,650.5 L329.7,650.4 L330.0,650.6 L330.2,651.4 L330.5,651.2 L330.7,650.2 L331.0,650.0 L331.2,650.1 L331.5,649.5 L331.7,649.2 L332.0,649.9 L332.2,650.1 L332.5,649.5 L332.8,649.6 L333.0,650.1 L333.3,649.9 L333.5,649.7 L333.8,649.8 L334.0,649.5 L334.3,649.9 L334.5,649.8 L334.8,648.7 L335.0,648.3 L335.3,649.2 L335.6,650.4 L335.8,650.7 L336.1,650.3 L336.3,649.4 L336.6,649.1 L336.8,649.3 L337.1,648.9 L337.3,648.7 L337.6,649.1 L337.8,649.9 L338.1,650.6 L338.3,649.8 L338.6,649.1 L338.9,650.0 L339.1,650.1 L339.4,649.2 L339.6,649.1 L339.9,649.5 L340.1,649.4 L340.4,648.6 L340.6,647.8 L340.9,647.9 L341.1,648.0 L341.4,648.2 L341.6,649.1 L341.9,648.7 L342.2,648.5 L342.4,648.7 L342.7,648.5 L342.9,648.6 L343.2,648.2 L343.4,647.5 L343.7,647.2 L343.9,647.9 L344.2,649.2 L344.4,649.0 L344.7,648.6 L345.0,648.5 L345.2,647.5 L345.5,646.7 L345.7,646.6 L346.0,646.4 L346.2,646.5 L346.5,647.0 L346.7,646.7 L347.0,646.7 L347.2,647.0 L347.5,646.1 L347.8,646.1 L348.0,647.1 L348.3,647.2 L348.5,646.5 L348.8,647.1 L349.0,648.1 L349.3,647.5 L349.5,647.1 L349.8,647.8 L350.0,648.1 L350.3,646.9 L350.5,645.9 L350.8,645.9 L351.1,646.4 L351.3,646.7 L351.6,646.6 L351.8,646.6 L352.1,646.2 L352.3,645.9 L352.6,645.6 L352.8,645.6 L353.1,646.9 L353.3,647.3 L353.6,646.3 L353.9,646.6 L354.1,646.9 L354.4,645.9 L354.6,645.9 L354.9,646.8 L355.1,646.2 L355.4,644.7 L355.6,644.3 L355.9,644.9 L356.1,644.7 L356.4,644.9 L356.6,646.1 L356.9,646.8 L357.2,646.3 L357.4,645.5 L357.7,645.3 L357.9,645.5 L358.2,645.1 L358.4,644.0 L358.7,644.5 L358.9,646.5 L359.2,647.1 L359.4,646.1 L359.7,644.8 L359.9,644.9 L360.2,646.4 L360.5,646.3 L360.7,645.3 L361.0,645.0 L361.2,644.5 L361.5,643.8 L361.7,643.7 L362.0,644.5 L362.2,644.9 L362.5,644.5 L362.7,644.5 L363.0,644.3" stroke="#dd14dd"/>
<path d="M58.0,700.4 L58.3,699.0 L58.5,698.6 L58.8,699.5 L59.0,700.1 L59.3,700.1 L59.5,699.6 L59.8,699.3 L60.0,699.2 L60.3,698.9 L60.5,699.0 L60.8,699.8 L61.0,700.0 L61.3,699.0 L61.6,698.8 L61.8,699.2 L62.1,698.9 L62.3,698.1 L62.6,699.2 L62.8,700.7 L63.1,700.1 L63.3,699.4 L63.6,699.1 L63.8,698.4 L64.1,698.9 L64.4,700.3 L64.6,700.0 L64.9,699.0 L65.1,698.2 L65.4,698.1 L65.6,698.5 L65.9,698.8 L66.1,697.9 L66.4,697.0 L66.6,697.4 L66.9,697.8 L67.2,696.8 L67.4,695.6 L67.7,696.6 L67.9,697.5 L68.2,696.1 L68.4,695.3 L68.7,696.2 L68.9,696.5 L69.2,697.0 L69.4,697.3 L69.7,696.1 L69.9,695.4 L70.2,695.0 L70.5,694.1 L70.7,694.3 L71.0,695.0 L71.2,695.0 L71.5,694.3 L71.7,694.2 L72.0,694.1 L72.2,693.6 L72.5,693.2 L72.7,692.7 L73.0,692.6 L73.2,693.3 L73.5,693.6 L73.8,693.3 L74.0,692.6 L74.3,692.1 L74.5,691.9 L74.8,691.0 L75.0,690.6 L75.3,691.0 L75.5,691.5 L75.8,691.5 L76.0,691.1 L76.3,691.4 L76.6,692.3 L76.8,691.9 L77.1,690.8 L77.3,690.4 L77.6,689.9 L77.8,689.2 L78.1,689.0 L78.3,689.4 L78.6,689.5 L78.8,688.4 L79.1,687.9 L79.3,688.5 L79.6,688.2 L79.9,687.7 L80.1,688.3 L80.4,688.1 L80.6,687.4 L80.9,687.0 L81.1,686.5 L81.4,686.4 L81.6,686.9 L81.9,686.6 L82.1,685.5 L82.4,685.0 L82.7,685.3 L82.9,685.3 L83.2,684.7 L83.4,683.8 L83.7,683.2 L83.9,683.3 L84.2,682.7 L84.4,681.3 L84.7,680.9 L84.9,681.8 L85.2,681.6 L85.5,681.5 L85.7,682.2 L86.0,681.4 L86.2,680.3 L86.5,680.6 L86.7,680.8 L87.0,680.7 L87.2,681.0 L87.5,680.7 L87.7,679.1 L88.0,678.7 L88.2,679.0 L88.5,679.4 L88.8,679.6 L89.0,678.1 L89.3,676.6 L89.5,676.9 L89.8,677.7 L90.0,678.1 L90.3,678.2 L90.5,678.2 L90.8,677.5 L91.0,676.3 L91.3,676.1 L91.5,676.4 L91.8,675.3 L92.1,674.0 L92.3,674.1 L92.6,674.4 L92.8,674.4 L93.1,674.8 L93.3,675.3 L93.6,674.4 L93.8,672.9 L94.1,673.4 L94.3,674.3 L94.6,673.0 L94.9,672.2 L95.1,673.3 L95.4,674.0 L95.6,673.1 L95.9,671.4 L96.1,669.8 L96.4,669.0 L96.6,669.2 L96.9,669.0 L97.1,667.9 L97.4,666.4 L97.7,665.2 L97.9,665.3 L98.2,665.3 L98.4,664.4 L98.7,663.2 L98.9,661.5 L99.2,660.3 L99.4,659.6 L99.7,658.5 L99.9,658.2 L100.2,659.0 L100.4,658.2 L100.7,656.4 L101.0,655.4 L101.2,655.1 L101.5,655.8 L101.7,656.1 L102.0,655.6 L102.2,655.5 L102.5,655.3 L102.7,654.1 L103.0,653.1 L103.2,652.6 L103.5,652.2 L103.8,652.6 L104.0,652.4 L104.3,650.9 L104.5,650.4 L104.8,651.1 L105.0,651.1 L105.3,650.0 L105.5,649.3 L105.8,649.5 L106.0,648.4 L106.3,646.1 L106.5,645.5 L106.8,646.3 L107.1,646.6 L107.3,646.5 L107.6,646.5 L107.8,646.3 L108.1,645.1 L108.3,643.5 L108.6,642.2 L108.8,641.6 L109.1,642.2 L109.3,642.3 L109.6,640.7 L109.8,640.2 L110.1,640.8 L110.4,639.5 L110.6,637.8 L110.9,638.1 L111.1,637.7 L111.4,636.4 L111.6,636.1 L111.9,634.4 L112.1,632.2 L112.4,630.5 L112.6,628.0 L112.9,626.4 L113.2,625.9 L113.4,624.2 L113.7,620.9 L113.9,617.7 L114.2,615.5 L114.4,613.4 L114.7,610.0 L114.9,607.1 L115.2,604.8 L115.4,601.3 L115.7,598.3 L116.0,595.0 L116.2,589.3 L116.5,584.1 L116.7,580.2 L117.0,573.6 L117.2,564.9 L117.5,555.3 L117.7,544.6 L118.0,533.7 L118.2,522.6 L118.5,511.3 L118.7,499.3 L119.0,486.6 L119.3,473.9 L119.5,459.9 L119.8,444.5 L120.0,429.0 L120.3,414.1 L120.5,408.2 L120.8,408.2 L121.0,408.2 L121.3,408.2 L121.5,408.2 L121.8,408.2 L122.0,408.2 L122.3,408.2 L122.6,408.2 L122.8,408.2 L123.1,408.2 L123.3,408.2 L123.6,408.2 L123.8,408.2 L124.1,408.2 L124.3,408.2 L124.6,408.2 L124.8,408.2 L125.1,408.2 L125.4,408.2 L125.6,408.2 L125.9,408.2 L126.1,408.2 L126.4,408.2 L126.6,408.2 L126.9,408.2 L127.1,408.2 L127.4,408.2 L127.6,408.2 L127.9,424.8 L128.2,444.3 L128.4,466.8 L128.7,489.3 L128.9,508.8 L129.2,524.8 L129.4,536.4 L129.7,546.2 L129.9,555.1 L130.2,561.7 L130.4,567.3 L130.7,573.6 L130.9,578.9 L131.2,582.0 L131.5,585.0 L131.7,588.9 L132.0,592.5 L132.2,596.0 L132.5,599.9 L132.7,603.1 L133.0,603.7 L133.2,604.3 L133.5,605.7 L133.7,606.7 L134.0,609.0 L134.2,610.8 L134.5,611.4 L134.8,612.5 L135.0,613.3 L135.3,614.0 L135.5,614.2 L135.8,614.9 L136.0,616.1 L136.3,616.2 L136.5,617.0 L136.8,618.8 L137.0,619.5 L137.3,619.0 L137.6,619.4 L137.8,620.2 L138.1,619.8 L138.3,619.2 L138.6,619.9 L138.8,621.1 L139.1,622.0 L139.3,622.5 L139.6,622.1 L139.8,621.8 L140.1,621.6 L140.3,621.4 L140.6,621.8 L140.9,622.4 L141.1,623.0 L141.4,622.8 L141.6,621.6 L141.9,621.2 L142.1,620.8 L142.4,620.2 L142.6,620.8 L142.9,620.9 L143.1,620.0 L143.4,619.0 L143.7,618.4 L143.9,619.3 L144.2,620.0 L144.4,618.4 L144.7,616.5 L144.9,616.8 L145.2,618.0 L145.4,617.4 L145.7,616.3 L145.9,615.5 L146.2,615.6 L146.4,616.2 L146.7,615.2 L147.0,613.7 L147.2,614.0 L147.5,615.3 L147.7,614.9 L148.0,612.9 L148.2,611.9 L148.5,612.0 L148.7,612.0 L149.0,611.6 L149.2,611.4 L149.5,611.7 L149.8,611.6 L150.0,611.6 L150.3,610.7 L150.5,609.4 L150.8,609.9 L151.0,610.6 L151.3,610.6 L151.5,610.2 L151.8,609.4 L152.0,609.0 L152.3,609.0 L152.6,609.1 L152.8,608.1 L153.1,607.1 L153.3,607.3 L153.6,607.6 L153.8,607.1 L154.1,606.5 L154.3,606.5 L154.6,606.3 L154.8,605.5 L155.1,605.0 L155.3,605.1 L155.6,605.7 L155.9,605.4 L156.1,604.6 L156.4,603.9 L156.6,602.6 L156.9,602.9 L157.1,604.2 L157.4,604.5 L157.6,603.8 L157.9,603.5 L158.1,603.5 L158.4,602.1 L158.7,600.5 L158.9,600.1 L159.2,600.6 L159.4,600.9 L159.7,600.3 L159.9,599.6 L160.2,599.0 L160.4,598.1 L160.7,598.1 L160.9,598.4 L161.2,597.6 L161.4,596.9 L161.7,596.7 L162.0,596.6 L162.2,596.0 L162.5,595.1 L162.7,594.3 L163.0,593.6 L163.2,593.8 L163.5,594.1 L163.7,593.8 L164.0,592.9 L164.2,591.8 L164.5,591.2 L164.8,590.5 L165.0,590.4 L165.3,590.3 L165.5,590.1 L165.8,590.8 L166.0,591.1 L166.3,591.6 L166.5,592.1 L166.8,590.5 L167.0,588.5 L167.3,589.1 L167.5,589.5 L167.8,588.8 L168.1,589.2 L168.3,590.3 L168.6,590.6 L168.8,589.6 L169.1,588.8 L169.3,588.7 L169.6,588.3 L169.8,588.3 L170.1,588.7 L170.3,588.8 L170.6,588.5 L170.8,589.2 L171.1,590.7 L171.4,590.9 L171.6,590.7 L171.9,590.5 L172.1,590.8 L172.4,591.6 L172.6,591.2 L172.9,591.6 L173.1,592.6 L173.4,591.8 L173.6,590.6 L173.9,590.6 L174.2,591.3 L174.4,592.6 L174.7,593.2 L174.9,593.0 L175.2,592.3 L175.4,592.0 L175.7,593.5 L175.9,595.1 L176.2,594.6 L176.4,594.2 L176.7,594.9 L176.9,594.7 L177.2,594.2 L177.5,593.8 L177.7,593.7 L178.0,595.2 L178.2,597.0 L178.5,597.6 L178.7,598.4 L179.0,598.4 L179.2,598.1 L179.5,599.3 L179.7,600.3 L180.0,600.0 L180.3,598.7 L180.5,597.7 L180.8,598.0 L181.0,598.5 L181.3,599.0 L181.5,600.4 L181.8,602.2 L182.0,602.7 L182.3,602.5 L182.5,603.1 L182.8,603.7 L183.1,604.4 L183.3,605.5 L183.6,605.7 L183.8,605.8 L184.1,606.5 L184.3,606.6 L184.6,606.1 L184.8,606.8 L185.1,607.8 L185.3,607.8 L185.6,608.4 L185.8,608.8 L186.1,608.4 L186.4,609.1 L186.6,610.0 L186.9,609.9 L187.1,610.5 L187.4,610.8 L187.6,610.7 L187.9,610.9 L188.1,611.0 L188.4,611.6 L188.6,612.2 L188.9,613.3 L189.2,614.6 L189.4,614.7 L189.7,613.8 L189.9,613.3 L190.2,614.5 L190.4,615.5 L190.7,616.0 L190.9,616.5 L191.2,616.0 L191.4,615.6 L191.7,615.1 L191.9,615.1 L192.2,616.7 L192.5,617.7 L192.7,617.5 L193.0,617.0 L193.2,617.2 L193.5,617.9 L193.7,618.4 L194.0,618.5 L194.2,619.2 L194.5,620.0 L194.7,620.5 L195.0,620.3 L195.2,619.6 L195.5,620.4 L195.8,621.0 L196.0,621.0 L196.3,621.6 L196.5,621.5 L196.8,621.0 L197.0,621.8 L197.3,622.6 L197.5,621.9 L197.8,621.7 L198.0,622.2 L198.3,623.0 L198.6,624.8 L198.8,625.7 L199.1,624.9 L199.3,624.1 L199.6,623.7 L199.8,623.2 L200.1,623.7 L200.3,624.5 L200.6,624.6 L200.8,625.8 L201.1,627.1 L201.3,627.2 L201.6,627.4 L201.9,628.0 L202.1,627.7 L202.4,626.6 L202.6,627.3 L202.9,628.9 L203.1,628.8 L203.4,627.6 L203.6,626.8 L203.9,627.9 L204.1,628.8 L204.4,629.2 L204.7,629.4 L204.9,628.5 L205.2,628.6 L205.4,629.2 L205.7,629.6 L205.9,630.6 L206.2,630.9 L206.4,630.1 L206.7,630.0 L206.9,630.4 L207.2,630.6 L207.4,631.3 L207.7,631.7 L208.0,632.2 L208.2,631.7 L208.5,629.9 L208.7,629.4 L209.0,630.5 L209.2,631.6 L209.5,632.4 L209.7,632.1 L210.0,631.3 L210.2,631.7 L210.5,632.0 L210.8,632.1 L211.0,632.8 L211.3,633.5 L211.5,633.7 L211.8,633.0 L212.0,631.8 L212.3,632.0 L212.5,633.7 L212.8,634.6 L213.0,634.4 L213.3,633.9 L213.6,633.3 L213.8,633.0 L214.1,633.8 L214.3,635.2 L214.6,635.5 L214.8,633.8 L215.1,632.4 L215.3,632.7 L215.6,633.9 L215.8,634.8 L216.1,634.6 L216.3,635.2 L216.6,635.7 L216.9,634.8 L217.1,634.6 L217.4,635.4 L217.6,635.2 L217.9,634.0 L218.1,634.4 L218.4,635.2 L218.6,634.9 L218.9,634.9 L219.1,634.9 L219.4,633.9 L219.7,632.2 L219.9,632.5 L220.2,633.7 L220.4,633.5 L220.7,634.0 L220.9,634.6 L221.2,634.6 L221.4,634.0 L221.7,633.2 L221.9,633.7 L222.2,633.9 L222.4,633.4 L222.7,634.0 L223.0,634.5 L223.2,634.0 L223.5,633.8 L223.7,633.7 L224.0,633.0 L224.2,633.0 L224.5,633.6 L224.7,633.7 L225.0,633.4 L225.2,633.7 L225.5,634.3 L225.8,634.7 L226.0,634.3 L226.3,633.9 L226.5,634.8 L226.8,635.5 L227.0,634.7 L227.3,633.8 L227.5,633.3 L227.8,633.5 L228.0,634.1 L228.3,634.9 L228.5,634.8 L228.8,633.8 L229.1,633.6 L229.3,634.1 L229.6,634.1 L229.8,633.0 L230.1,632.2 L230.3,632.5 L230.6,632.6 L230.8,633.2 L231.1,633.7 L231.3,633.1 L231.6,633.4 L231.8,633.5 L232.1,632.5 L232.4,632.2 L232.6,632.4 L232.9,633.7 L233.1,634.8 L233.4,633.2 L233.6,631.2 L233.9,631.7 L234.1,632.9 L234.4,633.1 L234.6,632.7 L234.9,631.8 L235.2,630.7 L235.4,630.4 L235.7,630.9 L235.9,632.0 L236.2,633.1 L236.4,633.3 L236.7,632.7 L236.9,632.5 L237.2,632.9 L237.4,632.6 L237.7,631.3 L237.9,631.2 L238.2,632.3 L238.5,632.6 L238.7,632.3 L239.0,631.8 L239.2,631.6 L239.5,631.9 L239.7,631.7 L240.0,631.9 L240.2,632.5 L240.5,632.6 L240.7,632.2 L241.0,632.0 L241.3,632.3 L241.5,633.0 L241.8,632.6 L242.0,631.3 L242.3,631.6 L242.5,632.6 L242.8,632.5 L243.0,631.3 L243.3,631.2 L243.5,631.8 L243.8,631.2 L244.1,631.2 L244.3,632.3 L244.6,631.8 L244.8,631.9 L245.1,633.5 L245.3,633.6 L245.6,633.1 L245.8,632.4 L246.1,631.5 L246.3,632.0 L246.6,632.2 L246.8,631.7 L247.1,631.6 L247.4,631.8 L247.6,631.5 L247.9,631.0 L248.1,630.7 L248.4,630.7 L248.6,630.4 L248.9,630.5 L249.1,631.3 L249.4,631.6 L249.6,631.2 L249.9,630.3 L250.2,629.5 L250.4,630.1 L250.7,631.1 L250.9,631.2 L251.2,630.7 L251.4,630.6 L251.7,631.4 L251.9,632.0 L252.2,631.2 L252.4,630.3 L252.7,629.8 L252.9,630.2 L253.2,631.1 L253.5,631.0 L253.7,630.8 L254.0,630.5 L254.2,630.0 L254.5,630.3 L254.7,630.5 L255.0,630.7 L255.2,631.2 L255.5,631.0 L255.7,630.2 L256.0,630.3 L256.2,631.0 L256.5,630.7 L256.8,629.8 L257.0,629.0 L257.3,628.5 L257.5,629.1 L257.8,629.0 L258.0,628.5 L258.3,629.1 L258.5,629.0 L258.8,627.5 L259.0,627.6 L259.3,629.1 L259.6,629.7 L259.8,628.6 L260.1,627.8 L260.3,628.5 L260.6,629.2 L260.8,629.1 L261.1,629.2 L261.3,628.6 L261.6,627.4 L261.8,627.5 L262.1,629.2 L262.4,629.7 L262.6,629.2 L262.9,628.5 L263.1,627.3 L263.4,626.3 L263.6,626.0 L263.9,626.8 L264.1,627.2 L264.4,626.0 L264.6,624.9 L264.9,624.4 L265.1,624.3 L265.4,623.7 L265.7,622.7 L265.9,620.7 L266.2,617.7 L266.4,615.4 L266.7,613.1 L266.9,610.0 L267.2,607.9 L267.4,607.7 L267.7,608.9 L267.9,610.9 L268.2,613.8 L268.4,617.7 L268.7,620.8 L269.0,622.3 L269.2,623.9 L269.5,625.7 L269.7,626.8 L270.0,627.2 L270.2,626.7 L270.5,626.3 L270.7,627.1 L271.0,628.0 L271.2,628.9 L271.5,629.3 L271.8,630.1 L272.0,631.2 L272.3,630.8 L272.5,630.2 L272.8,630.3 L273.0,630.6 L273.3,631.0 L273.5,631.9 L273.8,632.1 L274.0,631.3 L274.3,631.6 L274.6,633.3 L274.8,633.2 L275.1,631.9 L275.3,632.7 L275.6,634.4 L275.8,634.4 L276.1,633.1 L276.3,633.0 L276.6,634.3 L276.8,634.7 L277.1,634.5 L277.3,634.9 L277.6,634.9 L277.9,634.6 L278.1,635.1 L278.4,635.5 L278.6,635.2 L278.9,635.2 L279.1,635.8 L279.4,636.3 L279.6,636.9 L279.9,636.8 L280.1,635.4 L280.4,635.4 L280.6,637.1 L280.9,638.5 L281.2,638.9 L281.4,638.8 L281.7,639.0 L281.9,639.1 L282.2,639.1 L282.4,639.2 L282.7,639.0 L282.9,638.9 L283.2,639.5 L283.4,639.9 L283.7,639.4 L284.0,639.0 L284.2,638.8 L284.5,638.9 L284.7,639.5 L285.0,639.4 L285.2,640.1 L285.5,640.3 L285.7,638.6 L286.0,638.9 L286.2,640.5 L286.5,641.0 L286.8,641.7 L287.0,641.2 L287.3,639.6 L287.5,639.0 L287.8,639.8 L288.0,640.2 L288.3,639.5 L288.5,639.5 L288.8,640.8 L289.0,639.9 L289.3,638.8 L289.5,638.9 L289.8,638.0 L290.1,638.1 L290.3,639.5 L290.6,640.4 L290.8,640.2 L291.1,640.2 L291.3,640.8 L291.6,640.6 L291.8,640.0 L292.1,640.2 L292.3,640.6 L292.6,640.7 L292.9,640.7 L293.1,640.9 L293.4,641.1 L293.6,641.4 L293.9,641.2 L294.1,640.9 L294.4,640.1 L294.6,639.6 L294.9,639.6 L295.1,639.8 L295.4,640.4 L295.6,641.0 L295.9,641.8 L296.2,642.2 L296.4,641.9 L296.7,641.6 L296.9,641.0 L297.2,640.6 L297.4,641.2 L297.7,642.4 L297.9,642.6 L298.2,641.2 L298.4,639.8 L298.7,639.6 L298.9,639.3 L299.2,639.0 L299.5,640.4 L299.7,641.8 L300.0,642.0 L300.2,642.0 L300.5,641.2 L300.7,639.8 L301.0,640.3 L301.2,642.1 L301.5,642.3 L301.7,640.8 L302.0,639.9 L302.3,640.9 L302.5,642.1 L302.8,641.8 L303.0,641.5 L303.3,641.9 L303.5,641.7 L303.8,641.2 L304.0,640.8 L304.3,640.2 L304.5,640.2 L304.8,640.5 L305.1,640.2 L305.3,640.1 L305.6,640.4 L305.8,640.3 L306.1,640.1 L306.3,640.4 L306.6,640.5 L306.8,640.2 L307.1,639.6 L307.3,639.4 L307.6,639.6 L307.8,639.5 L308.1,639.7 L308.4,639.4 L308.6,638.9 L308.9,638.5 L309.1,639.0 L309.4,640.0 L309.6,640.3 L309.9,640.2 L310.1,639.7 L310.4,639.5 L310.6,638.8 L310.9,637.7 L311.1,638.1 L311.4,639.3 L311.7,640.0 L311.9,639.9 L312.2,639.0 L312.4,639.3 L312.7,639.8 L312.9,638.7 L313.2,638.3 L313.4,639.8 L313.7,641.5 L313.9,640.9 L314.2,638.9 L314.5,638.0 L314.7,638.0 L315.0,638.2 L315.2,637.8 L315.5,638.3 L315.7,639.2 L316.0,638.3 L316.2,637.3 L316.5,637.6 L316.7,638.0 L317.0,637.9 L317.2,637.1 L317.5,636.7 L317.8,638.1 L318.0,639.2 L318.3,638.1 L318.5,637.4 L318.8,637.4 L319.0,636.3 L319.3,636.4 L319.5,636.8 L319.8,635.9 L320.0,635.7 L320.3,636.1 L320.6,636.5 L320.8,636.7 L321.1,636.7 L321.3,636.7 L321.6,635.9 L321.8,634.5 L322.1,634.5 L322.3,635.1 L322.6,634.9 L322.8,634.5 L323.1,633.5 L323.4,631.8 L323.6,630.8 L323.9,630.3 L324.1,629.7 L324.4,629.3 L324.6,629.3 L324.9,629.2 L325.1,629.1 L325.4,629.3 L325.6,629.7 L325.9,630.0 L326.1,630.0 L326.4,630.5 L326.7,631.2 L326.9,631.7 L327.2,631.7 L327.4,631.9 L327.7,632.5 L327.9,632.9 L328.2,633.9 L328.4,634.1 L328.7,633.0 L328.9,633.2 L329.2,634.2 L329.4,635.0 L329.7,635.1 L330.0,634.4 L330.2,634.3 L330.5,635.2 L330.7,634.9 L331.0,634.3 L331.2,635.4 L331.5,636.4 L331.7,635.7 L332.0,636.0 L332.2,637.0 L332.5,635.6 L332.8,635.1 L333.0,636.1 L333.3,636.0 L333.5,636.0 L333.8,636.7 L334.0,636.7 L334.3,636.1 L334.5,634.9 L334.8,633.8 L335.0,633.6 L335.3,634.3 L335.6,635.1 L335.8,635.5 L336.1,635.5 L336.3,634.9 L336.6,634.2 L336.8,634.6 L337.1,635.2 L337.3,635.1 L337.6,635.0 L337.8,634.7 L338.1,634.9 L338.3,635.9 L338.6,636.1 L338.9,635.9 L339.1,636.5 L339.4,636.6 L339.6,635.1 L339.9,634.2 L340.1,634.1 L340.4,635.0 L340.6,636.1 L340.9,636.1 L341.1,636.5 L341.4,636.3 L341.6,635.9 L341.9,635.9 L342.2,635.3 L342.4,634.7 L342.7,635.2 L342.9,636.3 L343.2,635.8 L343.4,634.8 L343.7,635.3 L343.9,636.1 L344.2,635.6 L344.4,634.1 L344.7,633.2 L345.0,633.5 L345.2,634.0 L345.5,634.1 L345.7,633.9 L346.0,634.7 L346.2,636.1 L346.5,635.7 L346.7,634.7 L347.0,634.6 L347.2,634.5 L347.5,634.7 L347.8,634.9 L348.0,634.0 L348.3,633.4 L348.5,634.5 L348.8,635.9 L349.0,635.9 L349.3,635.3 L349.5,633.8 L349.8,633.1 L350.0,634.1 L350.3,634.8 L350.5,634.3 L350.8,634.5 L351.1,635.8 L351.3,636.8 L351.6,636.9 L351.8,635.7 L352.1,634.0 L352.3,633.8 L352.6,634.9 L352.8,636.2 L353.1,636.2 L353.3,634.5 L353.6,633.9 L353.9,634.1 L354.1,633.2 L354.4,633.3 L354.6,634.7 L354.9,635.5 L355.1,635.2 L355.4,634.2 L355.6,633.9 L355.9,634.4 L356.1,634.5 L356.4,633.6 L356.6,633.5 L356.9,634.0 L357.2,633.8 L357.4,633.7 L357.7,633.4 L357.9,632.9 L358.2,633.4 L358.4,634.5 L358.7,634.0 L358.9,633.1 L359.2,633.3 L359.4,633.3 L359.7,633.8 L359.9,634.7 L360.2,634.6 L360.5,634.5 L360.7,634.1 L361.0,633.7 L361.2,634.3 L361.5,634.6 L361.7,633.7 L362.0,632.5 L362.2,632.5 L362.5,633.9 L362.7,634.4 L363.0,633.8" stroke="#18dcdc"/>
<path d="M58.0,644.8 L58.3,644.6 L58.5,644.1 L58.8,644.4 L59.0,645.3 L59.3,645.9 L59.5,646.7 L59.8,646.7 L60.0,645.3 L60.3,644.4 L60.5,645.3 L60.8,645.9 L61.0,645.3 L61.3,644.4 L61.6,643.4 L61.8,643.2 L62.1,644.1 L62.3,644.2 L62.6,644.3 L62.8,644.5 L63.1,644.0 L63.3,644.2 L63.6,644.5 L63.8,644.4 L64.1,644.5 L64.4,644.0 L64.6,643.5 L64.9,644.1 L65.1,644.9 L65.4,644.2 L65.6,643.2 L65.9,644.0 L66.1,644.3 L66.4,643.2 L66.6,643.0 L66.9,644.0 L67.2,644.8 L67.4,645.6 L67.7,646.2 L67.9,645.2 L68.2,643.6 L68.4,643.4 L68.7,643.5 L68.9,643.1 L69.2,642.4 L69.4,642.0 L69.7,642.2 L69.9,641.8 L70.2,641.8 L70.5,642.5 L70.7,642.4 L71.0,642.1 L71.2,641.6 L71.5,640.9 L71.7,641.4 L72.0,642.4 L72.2,642.8 L72.5,642.3 L72.7,641.0 L73.0,640.3 L73.2,639.7 L73.5,639.0 L73.8,639.7 L74.0,640.6 L74.3,640.2 L74.5,640.3 L74.8,641.2 L75.0,640.7 L75.3,639.3 L75.5,639.2 L75.8,639.7 L76.0,639.3 L76.3,638.9 L76.6,639.5 L76.8,640.2 L77.1,640.6 L77.3,640.2 L77.6,639.4 L77.8,638.8 L78.1,638.2 L78.3,638.0 L78.6,638.6 L78.8,638.8 L79.1,637.9 L79.3,636.9 L79.6,636.5 L79.9,636.9 L80.1,637.1 L80.4,636.0 L80.6,635.2 L80.9,636.3 L81.1,636.7 L81.4,635.1 L81.6,634.3 L81.9,634.8 L82.1,635.4 L82.4,635.2 L82.7,634.8 L82.9,635.0 L83.2,634.3 L83.4,633.1 L83.7,632.2 L83.9,632.3 L84.2,632.6 L84.4,632.1 L84.7,631.5 L84.9,632.4 L85.2,633.6 L85.5,632.9 L85.7,631.7 L86.0,631.1 L86.2,631.0 L86.5,630.7 L86.7,630.0 L87.0,630.0 L87.2,630.3 L87.5,630.0 L87.7,629.9 L88.0,630.4 L88.2,630.6 L88.5,630.7 L88.8,630.5 L89.0,629.5 L89.3,628.1 L89.5,627.1 L89.8,626.7 L90.0,627.1 L90.3,628.1 L90.5,628.0 L90.8,626.9 L91.0,626.9 L91.3,627.4 L91.5,627.4 L91.8,627.3 L92.1,628.6 L92.3,628.9 L92.6,626.9 L92.8,625.4 L93.1,625.4 L93.3,625.6 L93.6,625.0 L93.8,623.6 L94.1,623.0 L94.3,623.5 L94.6,623.9 L94.9,623.5 L95.1,623.1 L95.4,623.1 L95.6,623.7 L95.9,624.2 L96.1,623.6 L96.4,622.7 L96.6,622.5 L96.9,621.7 L97.1,621.1 L97.4,621.2 L97.7,621.2 L97.9,620.7 L98.2,619.2 L98.4,618.2 L98.7,619.2 L98.9,620.1 L99.2,619.4 L99.4,618.8 L99.7,618.9 L99.9,618.3 L100.2,617.7 L100.4,618.1 L100.7,617.5 L101.0,615.7 L101.2,614.9 L101.5,614.5 L101.7,614.5 L102.0,614.5 L102.2,613.4 L102.5,612.1 L102.7,611.2 L103.0,610.4 L103.2,609.8 L103.5,608.7 L103.8,607.0 L104.0,605.0 L104.3,604.2 L104.5,604.9 L104.8,604.4 L105.0,602.7 L105.3,600.9 L105.5,599.2 L105.8,598.3 L106.0,598.5 L106.3,598.5 L106.5,598.2 L106.8,597.4 L107.1,595.8 L107.3,594.7 L107.6,593.7 L107.8,592.3 L108.1,592.6 L108.3,593.4 L108.6,592.4 L108.8,591.1 L109.1,590.1 L109.3,588.9 L109.6,588.6 L109.8,588.6 L110.1,587.7 L110.4,586.3 L110.6,585.1 L110.9,584.4 L111.1,582.0 L111.4,579.0 L111.6,578.8 L111.9,578.4 L112.1,576.0 L112.4,573.7 L112.6,572.4 L112.9,571.7 L113.2,569.5 L113.4,566.1 L113.7,565.0 L113.9,564.2 L114.2,560.2 L114.4,555.3 L114.7,552.3 L114.9,550.5 L115.2,547.5 L115.4,543.6 L115.7,540.1 L116.0,535.4 L116.2,529.6 L116.5,524.5 L116.7,519.3 L117.0,512.8 L117.2,506.6 L117.5,501.3 L117.7,494.7 L118.0,488.0 L118.2,482.8 L118.5,476.7 L118.7,469.6 L119.0,462.6 L119.3,454.6 L119.5,445.3 L119.8,431.8 L120.0,412.8 L120.3,408.2 L120.5,408.2 L120.8,408.2 L121.0,408.2 L121.3,408.2 L121.5,408.2 L121.8,408.2 L122.0,408.2 L122.3,408.2 L122.6,408.2 L122.8,408.2 L123.1,408.2 L123.3,408.2 L123.6,408.2 L123.8,408.2 L124.1,408.2 L124.3,408.2 L124.6,408.2 L124.8,408.2 L125.1,408.2 L125.4,408.2 L125.6,408.2 L125.9,408.2 L126.1,408.2 L126.4,408.2 L126.6,408.2 L126.9,408.2 L127.1,408.2 L127.4,408.2 L127.6,409.4 L127.9,427.8 L128.2,445.0 L128.4,460.0 L128.7,473.5 L128.9,487.2 L129.2,500.3 L129.4,510.6 L129.7,518.7 L129.9,525.8 L130.2,531.3 L130.4,537.1 L130.7,544.5 L130.9,550.7 L131.2,554.5 L131.5,558.0 L131.7,561.4 L132.0,563.9 L132.2,565.3 L132.5,566.7 L132.7,568.2 L133.0,569.3 L133.2,572.0 L133.5,573.9 L133.7,574.4 L134.0,576.8 L134.2,578.8 L134.5,578.7 L134.8,578.4 L135.0,579.0 L135.3,579.7 L135.5,580.6 L135.8,581.0 L136.0,580.4 L136.3,580.5 L136.5,580.9 L136.8,581.2 L137.0,581.0 L137.3,580.9 L137.6,581.7 L137.8,581.9 L138.1,581.7 L138.3,582.7 L138.6,583.7 L138.8,584.1 L139.1,584.4 L139.3,584.3 L139.6,583.9 L139.8,583.9 L140.1,584.9 L140.3,586.0 L140.6,585.5 L140.9,584.0 L141.1,583.3 L141.4,583.7 L141.6,583.6 L141.9,583.3 L142.1,583.5 L142.4,583.4 L142.6,582.9 L142.9,582.3 L143.1,583.0 L143.4,583.2 L143.7,582.0 L143.9,581.4 L144.2,581.9 L144.4,581.8 L144.7,581.1 L144.9,580.5 L145.2,579.5 L145.4,579.3 L145.7,579.5 L145.9,579.3 L146.2,579.4 L146.4,578.8 L146.7,576.9 L147.0,576.2 L147.2,577.5 L147.5,578.4 L147.7,577.7 L148.0,576.8 L148.2,576.4 L148.5,575.8 L148.7,575.5 L149.0,574.5 L149.2,573.8 L149.5,574.7 L149.8,574.7 L150.0,573.4 L150.3,572.3 L150.5,572.7 L150.8,573.9 L151.0,573.7 L151.3,572.9 L151.5,573.4 L151.8,573.6 L152.0,572.5 L152.3,571.8 L152.6,571.6 L152.8,571.0 L153.1,570.3 L153.3,569.5 L153.6,569.4 L153.8,570.2 L154.1,570.4 L154.3,570.5 L154.6,571.2 L154.8,571.1 L155.1,570.3 L155.3,569.0 L155.6,568.6 L155.9,569.1 L156.1,568.8 L156.4,568.7 L156.6,569.0 L156.9,568.6 L157.1,567.5 L157.4,567.2 L157.6,567.6 L157.9,567.4 L158.1,566.6 L158.4,566.6 L158.7,566.9 L158.9,566.6 L159.2,566.8 L159.4,566.3 L159.7,565.2 L159.9,565.6 L160.2,565.8 L160.4,564.5 L160.7,564.3 L160.9,564.6 L161.2,563.5 L161.4,562.4 L161.7,563.4 L162.0,565.2 L162.2,564.9 L162.5,563.7 L162.7,563.5 L163.0,563.6 L163.2,562.6 L163.5,562.0 L163.7,562.7 L164.0,563.1 L164.2,562.4 L164.5,561.8 L164.8,561.9 L165.0,561.5 L165.3,561.4 L165.5,561.7 L165.8,561.0 L166.0,560.2 L166.3,560.0 L166.5,559.7 L166.8,559.2 L167.0,559.0 L167.3,559.2 L167.5,559.5 L167.8,559.8 L168.1,559.7 L168.3,558.7 L168.6,557.9 L168.8,558.4 L169.1,559.6 L169.3,560.0 L169.6,559.4 L169.8,558.9 L170.1,559.3 L170.3,560.2 L170.6,560.7 L170.8,560.2 L171.1,559.3 L171.4,560.0 L171.6,561.5 L171.9,561.7 L172.1,561.1 L172.4,560.8 L172.6,561.1 L172.9,561.2 L173.1,561.5 L173.4,561.2 L173.6,560.1 L173.9,560.5 L174.2,561.9 L174.4,562.0 L174.7,561.2 L174.9,561.1 L175.2,561.8 L175.4,561.7 L175.7,561.5 L175.9,562.1 L176.2,561.7 L176.4,561.7 L176.7,563.3 L176.9,564.9 L177.2,565.2 L177.5,564.7 L177.7,563.9 L178.0,563.7 L178.2,564.5 L178.5,564.8 L178.7,565.2 L179.0,566.3 L179.2,566.4 L179.5,566.2 L179.7,566.7 L180.0,567.6 L180.3,568.0 L180.5,567.5 L180.8,567.5 L181.0,568.4 L181.3,568.8 L181.5,569.0 L181.8,569.6 L182.0,570.3 L182.3,571.3 L182.5,571.8 L182.8,571.4 L183.1,571.0 L183.3,571.4 L183.6,571.9 L183.8,572.6 L184.1,573.4 L184.3,573.4 L184.6,573.9 L184.8,575.2 L185.1,575.6 L185.3,575.9 L185.6,576.7 L185.8,577.5 L186.1,577.5 L186.4,577.8 L186.6,577.6 L186.9,576.9 L187.1,577.1 L187.4,577.6 L187.6,578.7 L187.9,579.2 L188.1,578.9 L188.4,578.9 L188.6,580.4 L188.9,582.6 L189.2,582.4 L189.4,581.4 L189.7,581.2 L189.9,582.0 L190.2,582.9 L190.4,582.9 L190.7,582.0 L190.9,581.4 L191.2,581.8 L191.4,582.7 L191.7,583.8 L191.9,584.1 L192.2,583.7 L192.5,584.0 L192.7,584.8 L193.0,584.6 L193.2,583.9 L193.5,584.3 L193.7,585.5 L194.0,586.1 L194.2,586.4 L194.5,587.2 L194.7,588.2 L195.0,588.5 L195.2,588.4 L195.5,588.2 L195.8,588.3 L196.0,589.2 L196.3,590.0 L196.5,590.8 L196.8,591.1 L197.0,590.0 L197.3,590.0 L197.5,591.0 L197.8,591.1 L198.0,590.6 L198.3,590.5 L198.6,591.9 L198.8,592.6 L199.1,592.7 L199.3,593.5 L199.6,593.6 L199.8,593.8 L200.1,594.3 L200.3,594.0 L200.6,594.0 L200.8,594.3 L201.1,594.4 L201.3,594.8 L201.6,595.2 L201.9,594.7 L202.1,594.9 L202.4,596.5 L202.6,597.8 L202.9,597.9 L203.1,597.7 L203.4,598.2 L203.6,598.7 L203.9,598.3 L204.1,597.0 L204.4,597.3 L204.7,598.5 L204.9,598.8 L205.2,598.7 L205.4,599.1 L205.7,599.2 L205.9,598.6 L206.2,599.2 L206.4,600.6 L206.7,599.6 L206.9,597.8 L207.2,598.4 L207.4,599.7 L207.7,599.4 L208.0,599.3 L208.2,600.0 L208.5,600.0 L208.7,599.5 L209.0,600.0 L209.2,600.2 L209.5,599.8 L209.7,600.4 L210.0,600.9 L210.2,600.7 L210.5,601.9 L210.8,603.2 L211.0,603.7 L211.3,603.7 L211.5,602.1 L211.8,600.8 L212.0,601.6 L212.3,602.1 L212.5,601.2 L212.8,600.9 L213.0,601.8 L213.3,601.5 L213.6,600.8 L213.8,601.1 L214.1,601.6 L214.3,602.7 L214.6,603.6 L214.8,602.6 L215.1,601.3 L215.3,601.7 L215.6,602.9 L215.8,602.0 L216.1,600.6 L216.3,601.3 L216.6,602.9 L216.9,603.5 L217.1,602.8 L217.4,602.4 L217.6,602.7 L217.9,602.5 L218.1,602.4 L218.4,602.6 L218.6,602.5 L218.9,602.2 L219.1,602.4 L219.4,602.2 L219.7,602.3 L219.9,602.9 L220.2,602.8 L220.4,601.8 L220.7,601.4 L220.9,601.9 L221.2,601.7 L221.4,601.2 L221.7,602.5 L221.9,602.8 L222.2,602.3 L222.4,602.5 L222.7,602.2 L223.0,602.7 L223.2,603.2 L223.5,603.0 L223.7,603.5 L224.0,602.5 L224.2,600.1 L224.5,599.8 L224.7,601.5 L225.0,602.5 L225.2,602.6 L225.5,602.7 L225.8,602.1 L226.0,602.1 L226.3,602.5 L226.5,602.4 L226.8,603.0 L227.0,603.1 L227.3,601.9 L227.5,601.8 L227.8,602.7 L228.0,603.1 L228.3,602.9 L228.5,601.9 L228.8,600.9 L229.1,601.2 L229.3,602.4 L229.6,602.8 L229.8,602.0 L230.1,601.0 L230.3,601.2 L230.6,601.3 L230.8,601.1 L231.1,601.6 L231.3,602.1 L231.6,602.9 L231.8,603.1 L232.1,601.5 L232.4,601.4 L232.6,602.1 L232.9,601.8 L233.1,602.4 L233.4,602.6 L233.6,601.8 L233.9,602.5 L234.1,603.2 L234.4,602.2 L234.6,601.1 L234.9,601.3 L235.2,601.9 L235.4,601.3 L235.7,599.8 L235.9,600.6 L236.2,602.9 L236.4,603.3 L236.7,602.8 L236.9,602.2 L237.2,601.6 L237.4,601.7 L237.7,601.8 L237.9,601.4 L238.2,600.9 L238.5,601.0 L238.7,601.1 L239.0,600.9 L239.2,601.6 L239.5,601.8 L239.7,601.1 L240.0,601.3 L240.2,601.7 L240.5,601.4 L240.7,600.7 L241.0,600.4 L241.3,600.2 L241.5,600.0 L241.8,600.5 L242.0,600.7 L242.3,600.3 L242.5,600.1 L242.8,601.0 L243.0,602.0 L243.3,601.4 L243.5,600.8 L243.8,601.4 L244.1,602.3 L244.3,602.7 L244.6,601.7 L244.8,600.6 L245.1,600.5 L245.3,600.6 L245.6,600.6 L245.8,600.0 L246.1,599.9 L246.3,600.8 L246.6,601.1 L246.8,601.1 L247.1,600.8 L247.4,600.8 L247.6,600.5 L247.9,599.9 L248.1,600.7 L248.4,602.2 L248.6,601.9 L248.9,600.3 L249.1,600.1 L249.4,600.3 L249.6,600.4 L249.9,601.0 L250.2,600.9 L250.4,600.2 L250.7,600.3 L250.9,600.8 L251.2,600.5 L251.4,600.3 L251.7,600.1 L251.9,599.5 L252.2,599.4 L252.4,600.1 L252.7,600.3 L252.9,599.9 L253.2,600.0 L253.5,599.8 L253.7,599.3 L254.0,600.6 L254.2,602.1 L254.5,601.9 L254.7,601.3 L255.0,600.9 L255.2,601.2 L255.5,600.8 L255.7,599.1 L256.0,599.0 L256.2,600.2 L256.5,599.8 L256.8,599.1 L257.0,599.2 L257.3,599.4 L257.5,600.2 L257.8,601.0 L258.0,601.3 L258.3,600.8 L258.5,599.8 L258.8,599.3 L259.0,599.4 L259.3,599.1 L259.6,598.9 L259.8,598.5 L260.1,598.8 L260.3,600.2 L260.6,600.0 L260.8,598.7 L261.1,599.3 L261.3,600.3 L261.6,600.3 L261.8,600.0 L262.1,600.0 L262.4,600.1 L262.6,600.4 L262.9,600.3 L263.1,598.5 L263.4,597.7 L263.6,599.2 L263.9,600.2 L264.1,599.4 L264.4,599.0 L264.6,600.0 L264.9,600.5 L265.1,600.1 L265.4,599.3 L265.7,598.1 L265.9,597.7 L266.2,598.1 L266.4,598.4 L266.7,598.1 L266.9,597.4 L267.2,596.6 L267.4,596.1 L267.7,597.3 L267.9,598.3 L268.2,597.7 L268.4,597.6 L268.7,598.3 L269.0,598.9 L269.2,599.0 L269.5,598.5 L269.7,598.1 L270.0,598.3 L270.2,599.2 L270.5,600.2 L270.7,600.6 L271.0,600.2 L271.2,599.7 L271.5,599.8 L271.8,600.3 L272.0,600.2 L272.3,601.1 L272.5,601.7 L272.8,601.3 L273.0,601.6 L273.3,602.4 L273.5,603.2 L273.8,602.9 L274.0,601.5 L274.3,601.0 L274.6,601.8 L274.8,602.5 L275.1,603.4 L275.3,603.6 L275.6,603.6 L275.8,604.4 L276.1,604.3 L276.3,603.1 L276.6,602.1 L276.8,603.4 L277.1,605.2 L277.3,604.4 L277.6,603.0 L277.9,604.0 L278.1,605.8 L278.4,606.0 L278.6,605.1 L278.9,604.5 L279.1,604.7 L279.4,606.0 L279.6,607.4 L279.9,607.2 L280.1,606.7 L280.4,606.3 L280.6,605.8 L280.9,606.4 L281.2,607.2 L281.4,607.3 L281.7,606.7 L281.9,606.6 L282.2,607.2 L282.4,607.5 L282.7,608.0 L282.9,608.3 L283.2,607.0 L283.4,606.8 L283.7,608.2 L284.0,608.1 L284.2,607.3 L284.5,607.7 L284.7,607.9 L285.0,608.1 L285.2,608.7 L285.5,608.1 L285.7,607.5 L286.0,606.7 L286.2,606.4 L286.5,607.6 L286.8,607.4 L287.0,606.6 L287.3,607.0 L287.5,607.9 L287.8,607.7 L288.0,607.6 L288.3,607.9 L288.5,607.6 L288.8,606.9 L289.0,606.5 L289.3,607.2 L289.5,608.2 L289.8,608.2 L290.1,607.5 L290.3,607.2 L290.6,606.8 L290.8,606.3 L291.1,606.5 L291.3,606.9 L291.6,607.1 L291.8,608.0 L292.1,608.4 L292.3,607.2 L292.6,606.5 L292.9,607.6 L293.1,608.3 L293.4,607.8 L293.6,607.6 L293.9,607.5 L294.1,606.9 L294.4,606.4 L294.6,606.1 L294.9,605.4 L295.1,605.6 L295.4,606.2 L295.6,605.9 L295.9,606.0 L296.2,606.8 L296.4,606.8 L296.7,606.5 L296.9,607.2 L297.2,607.4 L297.4,606.2 L297.7,605.7 L297.9,606.7 L298.2,606.6 L298.4,605.1 L298.7,604.6 L298.9,604.7 L299.2,605.2 L299.5,605.3 L299.7,605.0 L300.0,604.7 L300.2,604.5 L300.5,604.2 L300.7,603.8 L301.0,604.0 L301.2,605.0 L301.5,605.5 L301.7,604.6 L302.0,604.1 L302.3,604.8 L302.5,605.6 L302.8,605.9 L303.0,605.7 L303.3,605.8 L303.5,605.4 L303.8,604.3 L304.0,603.8 L304.3,604.5 L304.5,605.3 L304.8,605.4 L305.1,605.6 L305.3,606.1 L305.6,605.7 L305.8,604.3 L306.1,604.1 L306.3,605.4 L306.6,606.0 L306.8,605.2 L307.1,604.9 L307.3,605.3 L307.6,604.3 L307.8,603.6 L308.1,605.0 L308.4,605.5 L308.6,604.4 L308.9,604.3 L309.1,605.2 L309.4,605.3 L309.6,604.5 L309.9,604.2 L310.1,604.3 L310.4,603.9 L310.6,604.3 L310.9,605.0 L311.1,604.5 L311.4,603.6 L311.7,603.6 L311.9,604.1 L312.2,604.1 L312.4,604.8 L312.7,605.4 L312.9,605.0 L313.2,604.5 L313.4,603.2 L313.7,603.4 L313.9,604.5 L314.2,603.7 L314.5,603.3 L314.7,603.1 L315.0,602.0 L315.2,601.3 L315.5,601.4 L315.7,601.7 L316.0,602.3 L316.2,602.2 L316.5,602.0 L316.7,602.8 L317.0,603.6 L317.2,603.6 L317.5,602.9 L317.8,602.5 L318.0,603.3 L318.3,603.9 L318.5,603.1 L318.8,602.4 L319.0,602.8 L319.3,603.2 L319.5,603.5 L319.8,603.5 L320.0,603.3 L320.3,603.6 L320.6,603.8 L320.8,603.9 L321.1,603.3 L321.3,602.6 L321.6,602.5 L321.8,602.2 L322.1,602.0 L322.3,601.8 L322.6,602.3 L322.8,602.7 L323.1,602.3 L323.4,602.6 L323.6,602.8 L323.9,602.5 L324.1,602.6 L324.4,602.8 L324.6,602.5 L324.9,602.7 L325.1,602.9 L325.4,602.1 L325.6,601.9 L325.9,602.6 L326.1,602.9 L326.4,602.6 L326.7,602.1 L326.9,602.3 L327.2,602.5 L327.4,601.7 L327.7,601.7 L327.9,602.3 L328.2,602.3 L328.4,602.3 L328.7,602.4 L328.9,602.2 L329.2,601.8 L329.4,601.7 L329.7,602.3 L330.0,602.4 L330.2,601.7 L330.5,601.4 L330.7,602.1 L331.0,603.0 L331.2,602.6 L331.5,601.5 L331.7,601.0 L332.0,600.1 L332.2,600.0 L332.5,601.2 L332.8,601.8 L333.0,601.3 L333.3,600.8 L333.5,600.9 L333.8,600.3 L334.0,599.9 L334.3,600.8 L334.5,600.7 L334.8,598.8 L335.0,597.7 L335.3,598.2 L335.6,599.6 L335.8,600.6 L336.1,600.4 L336.3,600.0 L336.6,599.3 L336.8,598.5 L337.1,599.1 L337.3,600.5 L337.6,600.9 L337.8,599.9 L338.1,599.2 L338.3,600.0 L338.6,600.8 L338.9,600.7 L339.1,599.9 L339.4,598.9 L339.6,598.6 L339.9,599.6 L340.1,599.8 L340.4,599.1 L340.6,598.9 L340.9,599.6 L341.1,600.8 L341.4,600.3 L341.6,598.9 L341.9,598.6 L342.2,598.9 L342.4,598.7 L342.7,598.5 L342.9,599.2 L343.2,599.9 L343.4,600.3 L343.7,600.5 L343.9,600.5 L344.2,599.5 L344.4,597.9 L344.7,597.1 L345.0,597.3 L345.2,599.2 L345.5,599.6 L345.7,598.1 L346.0,598.2 L346.2,599.3 L346.5,600.0 L346.7,599.5 L347.0,598.2 L347.2,598.1 L347.5,598.5 L347.8,598.4 L348.0,599.1 L348.3,599.2 L348.5,599.0 L348.8,599.9 L349.0,599.4 L349.3,597.7 L349.5,597.0 L349.8,597.0 L350.0,597.5 L350.3,597.7 L350.5,597.9 L350.8,599.3 L351.1,600.1 L351.3,599.6 L351.6,598.8 L351.8,597.6 L352.1,597.3 L352.3,598.3 L352.6,599.5 L352.8,599.0 L353.1,597.6 L353.3,598.6 L353.6,600.1 L353.9,600.2 L354.1,600.1 L354.4,599.2 L354.6,598.2 L354.9,598.4 L355.1,597.5 L355.4,596.6 L355.6,597.5 L355.9,598.4 L356.1,599.3 L356.4,599.6 L356.6,598.7 L356.9,597.8 L357.2,597.9 L357.4,598.2 L357.7,597.6 L357.9,596.9 L358.2,597.2 L358.4,597.0 L358.7,596.1 L358.9,596.7 L359.2,597.4 L359.4,597.0 L359.7,597.4 L359.9,597.2 L360.2,596.8 L360.5,597.5 L360.7,597.5 L361.0,596.5 L361.2,596.4 L361.5,597.5 L361.7,597.7 L362.0,596.6 L362.2,596.0 L362.5,596.1 L362.7,596.7 L363.0,597.3" stroke="#e01414"/>
<path d="M58.0,620.2 L58.3,620.8 L58.5,620.6 L58.8,620.7 L59.0,620.5 L59.3,620.0 L59.5,619.9 L59.8,619.7 L60.0,619.1 L60.3,617.9 L60.5,617.6 L60.8,618.2 L61.0,618.8 L61.3,619.3 L61.6,619.6 L61.8,620.0 L62.1,620.5 L62.3,620.5 L62.6,619.7 L62.8,619.6 L63.1,619.9 L63.3,619.3 L63.6,617.9 L63.8,617.6 L64.1,617.7 L64.4,617.3 L64.6,617.6 L64.9,618.5 L65.1,618.4 L65.4,618.4 L65.6,619.1 L65.9,618.8 L66.1,618.6 L66.4,619.1 L66.6,618.9 L66.9,618.3 L67.2,618.0 L67.4,617.7 L67.7,617.3 L67.9,617.2 L68.2,617.8 L68.4,618.5 L68.7,618.8 L68.9,618.4 L69.2,618.1 L69.4,618.4 L69.7,617.9 L69.9,617.0 L70.2,616.6 L70.5,616.5 L70.7,617.0 L71.0,618.0 L71.2,618.4 L71.5,617.9 L71.7,616.8 L72.0,615.8 L72.2,615.5 L72.5,615.4 L72.7,615.5 L73.0,616.8 L73.2,618.2 L73.5,617.7 L73.8,616.6 L74.0,616.6 L74.3,617.1 L74.5,617.5 L74.8,617.1 L75.0,616.6 L75.3,616.4 L75.5,615.8 L75.8,615.3 L76.0,615.1 L76.3,615.2 L76.6,614.9 L76.8,614.3 L77.1,614.7 L77.3,615.4 L77.6,615.4 L77.8,615.2 L78.1,614.8 L78.3,613.9 L78.6,613.6 L78.8,614.5 L79.1,614.4 L79.3,613.6 L79.6,614.2 L79.9,614.4 L80.1,614.2 L80.4,615.0 L80.6,614.3 L80.9,612.9 L81.1,612.5 L81.4,612.3 L81.6,612.6 L81.9,613.6 L82.1,613.8 L82.4,612.6 L82.7,612.0 L82.9,612.5 L83.2,613.3 L83.4,613.5 L83.7,613.0 L83.9,613.2 L84.2,613.4 L84.4,613.9 L84.7,614.2 L84.9,612.9 L85.2,611.9 L85.5,612.5 L85.7,611.9 L86.0,610.4 L86.2,610.5 L86.5,611.0 L86.7,610.3 L87.0,610.0 L87.2,610.2 L87.5,609.6 L87.7,608.9 L88.0,609.5 L88.2,610.1 L88.5,609.4 L88.8,608.8 L89.0,609.0 L89.3,609.1 L89.5,608.9 L89.8,609.3 L90.0,610.1 L90.3,610.4 L90.5,610.2 L90.8,609.7 L91.0,609.6 L91.3,609.6 L91.5,608.9 L91.8,607.8 L92.1,607.9 L92.3,608.5 L92.6,608.7 L92.8,608.8 L93.1,608.1 L93.3,606.6 L93.6,605.7 L93.8,605.8 L94.1,606.2 L94.3,606.4 L94.6,606.0 L94.9,605.5 L95.1,605.9 L95.4,606.1 L95.6,605.8 L95.9,605.1 L96.1,603.8 L96.4,603.6 L96.6,604.6 L96.9,604.7 L97.1,604.0 L97.4,603.8 L97.7,603.9 L97.9,603.1 L98.2,601.7 L98.4,601.3 L98.7,601.0 L98.9,600.7 L99.2,600.5 L99.4,599.9 L99.7,598.8 L99.9,597.5 L100.2,598.3 L100.4,598.9 L100.7,598.0 L101.0,597.4 L101.2,596.2 L101.5,595.7 L101.7,595.7 L102.0,594.3 L102.2,593.4 L102.5,593.3 L102.7,593.5 L103.0,593.7 L103.2,592.8 L103.5,591.3 L103.8,590.1 L104.0,589.7 L104.3,589.5 L104.5,589.2 L104.8,589.9 L105.0,590.1 L105.3,588.6 L105.5,587.8 L105.8,587.7 L106.0,586.7 L106.3,586.2 L106.5,586.5 L106.8,585.4 L107.1,584.6 L107.3,584.8 L107.6,585.0 L107.8,585.0 L108.1,584.5 L108.3,583.8 L108.6,583.9 L108.8,584.0 L109.1,583.6 L109.3,582.8 L109.6,581.1 L109.8,580.5 L110.1,581.6 L110.4,582.3 L110.6,581.3 L110.9,580.1 L111.1,579.6 L111.4,579.1 L111.6,578.9 L111.9,579.1 L112.1,578.3 L112.4,576.5 L112.6,574.7 L112.9,572.2 L113.2,569.9 L113.4,568.2 L113.7,567.3 L113.9,566.7 L114.2,564.0 L114.4,560.6 L114.7,559.1 L114.9,557.2 L115.2,553.5 L115.4,549.8 L115.7,546.6 L116.0,543.3 L116.2,539.0 L116.5,534.7 L116.7,530.8 L117.0,524.6 L117.2,516.5 L117.5,508.2 L117.7,499.4 L118.0,488.8 L118.2,475.4 L118.5,460.5 L118.7,445.1 L119.0,428.9 L119.3,411.9 L119.5,408.2 L119.8,408.2 L120.0,408.2 L120.3,408.2 L120.5,408.2 L120.8,408.2 L121.0,408.2 L121.3,408.2 L121.5,408.2 L121.8,408.2 L122.0,408.2 L122.3,408.2 L122.6,408.2 L122.8,408.2 L123.1,408.2 L123.3,408.2 L123.6,408.2 L123.8,408.2 L124.1,408.2 L124.3,408.2 L124.6,408.2 L124.8,408.2 L125.1,408.2 L125.4,408.2 L125.6,408.2 L125.9,408.2 L126.1,408.2 L126.4,408.2 L126.6,408.2 L126.9,408.2 L127.1,408.2 L127.4,408.2 L127.6,408.2 L127.9,408.2 L128.2,426.2 L128.4,445.2 L128.7,460.9 L128.9,474.4 L129.2,486.2 L129.4,497.5 L129.7,506.7 L129.9,513.7 L130.2,520.4 L130.4,527.0 L130.7,533.3 L130.9,538.8 L131.2,543.4 L131.5,546.1 L131.7,548.3 L132.0,551.4 L132.2,554.2 L132.5,556.2 L132.7,557.0 L133.0,558.3 L133.2,560.4 L133.5,561.8 L133.7,563.2 L134.0,564.0 L134.2,564.2 L134.5,564.9 L134.8,565.6 L135.0,565.5 L135.3,566.2 L135.5,567.8 L135.8,569.0 L136.0,569.7 L136.3,569.8 L136.5,569.5 L136.8,569.8 L137.0,570.2 L137.3,569.7 L137.6,568.4 L137.8,568.2 L138.1,569.0 L138.3,569.7 L138.6,570.1 L138.8,570.2 L139.1,570.0 L139.3,570.0 L139.6,570.0 L139.8,569.8 L140.1,569.9 L140.3,569.8 L140.6,569.8 L140.9,569.9 L141.1,570.1 L141.4,570.4 L141.6,569.8 L141.9,568.9 L142.1,569.1 L142.4,569.6 L142.6,569.3 L142.9,568.9 L143.1,568.6 L143.4,568.0 L143.7,567.1 L143.9,566.8 L144.2,566.9 L144.4,566.5 L144.7,565.7 L144.9,565.4 L145.2,565.7 L145.4,565.4 L145.7,564.8 L145.9,564.5 L146.2,563.4 L146.4,562.6 L146.7,562.6 L147.0,562.5 L147.2,562.6 L147.5,562.6 L147.7,561.7 L148.0,561.2 L148.2,561.4 L148.5,560.8 L148.7,560.5 L149.0,561.2 L149.2,561.4 L149.5,560.5 L149.8,560.1 L150.0,560.2 L150.3,559.4 L150.5,559.1 L150.8,560.2 L151.0,560.1 L151.3,558.6 L151.5,558.3 L151.8,559.1 L152.0,558.4 L152.3,557.3 L152.6,557.5 L152.8,558.1 L153.1,557.7 L153.3,557.2 L153.6,556.4 L153.8,555.4 L154.1,555.7 L154.3,556.0 L154.6,556.3 L154.8,556.9 L155.1,556.1 L155.3,555.5 L155.6,555.5 L155.9,554.8 L156.1,554.3 L156.4,554.5 L156.6,554.9 L156.9,554.9 L157.1,554.6 L157.4,554.0 L157.6,553.7 L157.9,553.4 L158.1,552.7 L158.4,552.7 L158.7,553.2 L158.9,552.5 L159.2,550.8 L159.4,550.9 L159.7,551.1 L159.9,550.8 L160.2,551.4 L160.4,550.8 L160.7,549.4 L160.9,549.4 L161.2,549.4 L161.4,549.2 L161.7,549.8 L162.0,549.6 L162.2,548.3 L162.5,548.2 L162.7,548.5 L163.0,548.8 L163.2,549.4 L163.5,548.7 L163.7,547.5 L164.0,547.3 L164.2,547.0 L164.5,546.8 L164.8,547.7 L165.0,547.7 L165.3,546.5 L165.5,546.8 L165.8,547.7 L166.0,546.7 L166.3,545.2 L166.5,544.7 L166.8,544.1 L167.0,543.7 L167.3,544.4 L167.5,545.5 L167.8,545.4 L168.1,544.6 L168.3,544.4 L168.6,544.8 L168.8,545.2 L169.1,545.3 L169.3,545.4 L169.6,545.3 L169.8,543.9 L170.1,542.9 L170.3,544.1 L170.6,544.7 L170.8,544.5 L171.1,545.2 L171.4,545.8 L171.6,545.4 L171.9,545.1 L172.1,545.9 L172.4,547.2 L172.6,547.1 L172.9,546.4 L173.1,545.8 L173.4,544.7 L173.6,545.4 L173.9,546.7 L174.2,546.2 L174.4,546.2 L174.7,546.2 L174.9,546.5 L175.2,548.0 L175.4,548.8 L175.7,548.9 L175.9,548.7 L176.2,548.1 L176.4,547.9 L176.7,548.3 L176.9,548.5 L177.2,548.1 L177.5,547.9 L177.7,548.4 L178.0,549.1 L178.2,549.7 L178.5,550.0 L178.7,550.3 L179.0,550.8 L179.2,551.1 L179.5,551.9 L179.7,553.1 L180.0,552.6 L180.3,551.8 L180.5,552.7 L180.8,553.5 L181.0,553.2 L181.3,552.9 L181.5,553.4 L181.8,554.4 L182.0,555.0 L182.3,555.6 L182.5,556.6 L182.8,557.2 L183.1,556.9 L183.3,557.0 L183.6,557.0 L183.8,557.4 L184.1,558.6 L184.3,558.7 L184.6,558.5 L184.8,559.5 L185.1,559.6 L185.3,559.4 L185.6,560.2 L185.8,560.2 L186.1,559.6 L186.4,559.6 L186.6,560.3 L186.9,561.5 L187.1,562.4 L187.4,562.6 L187.6,562.7 L187.9,562.8 L188.1,562.1 L188.4,561.5 L188.6,562.5 L188.9,563.7 L189.2,563.6 L189.4,563.8 L189.7,564.4 L189.9,564.7 L190.2,565.1 L190.4,564.5 L190.7,564.2 L190.9,564.8 L191.2,565.1 L191.4,564.6 L191.7,564.6 L191.9,565.7 L192.2,566.3 L192.5,566.4 L192.7,567.1 L193.0,567.2 L193.2,566.8 L193.5,567.1 L193.7,567.8 L194.0,568.7 L194.2,569.1 L194.5,569.7 L194.7,570.0 L195.0,569.1 L195.2,569.3 L195.5,570.3 L195.8,570.3 L196.0,569.9 L196.3,570.5 L196.5,571.0 L196.8,570.4 L197.0,569.8 L197.3,570.1 L197.5,570.5 L197.8,570.0 L198.0,570.4 L198.3,571.5 L198.6,572.2 L198.8,573.0 L199.1,573.0 L199.3,572.5 L199.6,572.8 L199.8,572.7 L200.1,572.2 L200.3,572.5 L200.6,573.5 L200.8,574.8 L201.1,574.5 L201.3,574.2 L201.6,575.0 L201.9,575.4 L202.1,575.8 L202.4,575.9 L202.6,575.2 L202.9,575.3 L203.1,576.1 L203.4,576.3 L203.6,576.4 L203.9,576.6 L204.1,577.2 L204.4,578.0 L204.7,577.7 L204.9,577.0 L205.2,577.7 L205.4,578.7 L205.7,579.5 L205.9,579.7 L206.2,579.1 L206.4,579.3 L206.7,579.8 L206.9,578.9 L207.2,578.3 L207.4,579.5 L207.7,580.0 L208.0,580.2 L208.2,581.2 L208.5,582.1 L208.7,582.1 L209.0,581.4 L209.2,581.3 L209.5,580.9 L209.7,580.0 L210.0,580.2 L210.2,580.2 L210.5,580.7 L210.8,581.4 L211.0,581.5 L211.3,581.2 L211.5,581.1 L211.8,581.2 L212.0,581.3 L212.3,581.4 L212.5,581.8 L212.8,582.1 L213.0,582.1 L213.3,581.5 L213.6,581.2 L213.8,581.8 L214.1,583.0 L214.3,583.4 L214.6,582.3 L214.8,581.2 L215.1,581.9 L215.3,582.8 L215.6,583.4 L215.8,584.3 L216.1,584.5 L216.3,584.3 L216.6,584.0 L216.9,583.1 L217.1,582.7 L217.4,583.1 L217.6,583.4 L217.9,583.4 L218.1,583.8 L218.4,584.2 L218.6,584.1 L218.9,583.7 L219.1,583.3 L219.4,583.0 L219.7,583.6 L219.9,584.8 L220.2,584.2 L220.4,583.1 L220.7,583.1 L220.9,583.7 L221.2,584.9 L221.4,585.3 L221.7,584.1 L221.9,583.0 L222.2,582.3 L222.4,582.6 L222.7,583.6 L223.0,583.5 L223.2,583.4 L223.5,583.6 L223.7,583.3 L224.0,583.4 L224.2,584.2 L224.5,584.5 L224.7,584.3 L225.0,584.3 L225.2,583.9 L225.5,583.7 L225.8,584.3 L226.0,585.1 L226.3,585.7 L226.5,585.7 L226.8,585.1 L227.0,584.8 L227.3,585.3 L227.5,585.1 L227.8,584.4 L228.0,584.5 L228.3,585.0 L228.5,584.9 L228.8,584.9 L229.1,584.9 L229.3,584.9 L229.6,585.2 L229.8,585.3 L230.1,584.9 L230.3,584.3 L230.6,584.1 L230.8,584.5 L231.1,585.3 L231.3,585.7 L231.6,586.2 L231.8,585.7 L232.1,585.2 L232.4,585.4 L232.6,585.0 L232.9,584.9 L233.1,585.7 L233.4,586.2 L233.6,586.6 L233.9,587.0 L234.1,586.4 L234.4,585.2 L234.6,585.7 L234.9,586.8 L235.2,586.2 L235.4,585.5 L235.7,585.9 L235.9,586.0 L236.2,585.2 L236.4,584.8 L236.7,584.8 L236.9,584.9 L237.2,585.5 L237.4,585.8 L237.7,585.6 L237.9,585.0 L238.2,584.7 L238.5,585.2 L238.7,585.9 L239.0,585.6 L239.2,585.0 L239.5,585.1 L239.7,584.6 L240.0,584.5 L240.2,585.5 L240.5,586.1 L240.7,585.5 L241.0,585.7 L241.3,586.7 L241.5,586.4 L241.8,585.1 L242.0,584.1 L242.3,584.7 L242.5,586.1 L242.8,586.4 L243.0,586.2 L243.3,586.0 L243.5,586.3 L243.8,586.5 L244.1,586.1 L244.3,585.6 L244.6,586.2 L244.8,586.3 L245.1,585.2 L245.3,585.1 L245.6,585.2 L245.8,584.7 L246.1,584.5 L246.3,584.6 L246.6,585.2 L246.8,586.5 L247.1,587.0 L247.4,586.6 L247.6,586.7 L247.9,586.5 L248.1,585.8 L248.4,585.9 L248.6,586.2 L248.9,586.1 L249.1,586.5 L249.4,586.6 L249.6,586.0 L249.9,585.7 L250.2,585.8 L250.4,585.8 L250.7,585.5 L250.9,585.6 L251.2,585.8 L251.4,586.3 L251.7,587.2 L251.9,586.3 L252.2,585.2 L252.4,586.2 L252.7,587.1 L252.9,586.3 L253.2,584.6 L253.5,583.9 L253.7,585.8 L254.0,587.1 L254.2,586.2 L254.5,586.0 L254.7,585.8 L255.0,585.1 L255.2,585.7 L255.5,586.2 L255.7,586.3 L256.0,585.8 L256.2,584.7 L256.5,584.9 L256.8,585.8 L257.0,586.1 L257.3,585.2 L257.5,585.3 L257.8,586.7 L258.0,585.7 L258.3,584.2 L258.5,585.2 L258.8,586.8 L259.0,587.0 L259.3,587.4 L259.6,588.1 L259.8,587.1 L260.1,585.7 L260.3,585.7 L260.6,586.1 L260.8,586.2 L261.1,586.0 L261.3,586.0 L261.6,585.6 L261.8,585.9 L262.1,587.3 L262.4,587.1 L262.6,586.2 L262.9,585.9 L263.1,585.4 L263.4,586.1 L263.6,586.8 L263.9,586.5 L264.1,586.6 L264.4,586.9 L264.6,586.7 L264.9,585.7 L265.1,585.3 L265.4,586.0 L265.7,586.6 L265.9,586.6 L266.2,585.7 L266.4,585.2 L266.7,585.8 L266.9,586.4 L267.2,586.8 L267.4,586.7 L267.7,585.7 L267.9,585.5 L268.2,586.0 L268.4,586.1 L268.7,585.7 L269.0,585.5 L269.2,585.1 L269.5,585.0 L269.7,586.6 L270.0,587.7 L270.2,586.8 L270.5,585.7 L270.7,586.0 L271.0,586.3 L271.2,585.3 L271.5,585.1 L271.8,585.7 L272.0,585.9 L272.3,586.4 L272.5,586.3 L272.8,584.8 L273.0,584.5 L273.3,585.6 L273.5,585.9 L273.8,586.0 L274.0,586.4 L274.3,586.3 L274.6,586.0 L274.8,586.0 L275.1,586.7 L275.3,586.5 L275.6,585.3 L275.8,585.1 L276.1,585.5 L276.3,585.1 L276.6,584.6 L276.8,584.7 L277.1,585.9 L277.3,586.7 L277.6,586.1 L277.9,585.8 L278.1,585.4 L278.4,585.1 L278.6,585.4 L278.9,585.8 L279.1,585.3 L279.4,585.2 L279.6,585.9 L279.9,586.2 L280.1,586.4 L280.4,585.9 L280.6,584.3 L280.9,584.1 L281.2,584.6 L281.4,584.9 L281.7,585.2 L281.9,585.4 L282.2,585.1 L282.4,584.3 L282.7,584.2 L282.9,585.0 L283.2,585.4 L283.4,585.4 L283.7,585.6 L284.0,585.5 L284.2,584.9 L284.5,584.1 L284.7,584.0 L285.0,583.8 L285.2,583.4 L285.5,583.6 L285.7,584.2 L286.0,584.4 L286.2,584.2 L286.5,584.6 L286.8,585.8 L287.0,586.7 L287.3,586.5 L287.5,585.5 L287.8,584.8 L288.0,585.1 L288.3,585.3 L288.5,584.3 L288.8,583.8 L289.0,583.5 L289.3,582.6 L289.5,582.8 L289.8,584.0 L290.1,584.5 L290.3,584.5 L290.6,583.6 L290.8,582.9 L291.1,583.3 L291.3,583.7 L291.6,584.2 L291.8,585.1 L292.1,585.0 L292.3,584.3 L292.6,583.6 L292.9,583.2 L293.1,583.6 L293.4,584.1 L293.6,583.7 L293.9,583.1 L294.1,583.3 L294.4,584.0 L294.6,585.2 L294.9,585.7 L295.1,584.8 L295.4,584.2 L295.6,583.6 L295.9,583.1 L296.2,583.9 L296.4,584.8 L296.7,584.3 L296.9,584.1 L297.2,585.0 L297.4,585.4 L297.7,585.1 L297.9,584.6 L298.2,584.7 L298.4,584.7 L298.7,583.8 L298.9,583.3 L299.2,583.2 L299.5,583.8 L299.7,585.0 L300.0,584.3 L300.2,582.3 L300.5,581.8 L300.7,582.3 L301.0,583.0 L301.2,583.8 L301.5,583.6 L301.7,583.8 L302.0,583.7 L302.3,583.3 L302.5,584.0 L302.8,584.2 L303.0,583.0 L303.3,582.1 L303.5,582.1 L303.8,582.1 L304.0,581.4 L304.3,580.9 L304.5,581.5 L304.8,582.4 L305.1,582.8 L305.3,583.0 L305.6,582.4 L305.8,581.4 L306.1,581.5 L306.3,582.6 L306.6,583.2 L306.8,583.0 L307.1,582.5 L307.3,581.9 L307.6,581.5 L307.8,581.4 L308.1,581.3 L308.4,581.3 L308.6,581.5 L308.9,581.5 L309.1,581.2 L309.4,581.3 L309.6,582.2 L309.9,582.5 L310.1,582.1 L310.4,581.6 L310.6,580.7 L310.9,580.4 L311.1,580.1 L311.4,580.3 L311.7,581.1 L311.9,581.5 L312.2,582.2 L312.4,582.1 L312.7,581.1 L312.9,580.5 L313.2,580.8 L313.4,581.1 L313.7,580.8 L313.9,581.3 L314.2,581.3 L314.5,580.4 L314.7,580.3 L315.0,580.5 L315.2,580.7 L315.5,580.4 L315.7,579.8 L316.0,579.5 L316.2,579.1 L316.5,579.2 L316.7,579.3 L317.0,579.6 L317.2,580.2 L317.5,580.7 L317.8,580.9 L318.0,580.3 L318.3,579.3 L318.5,579.4 L318.8,580.4 L319.0,580.5 L319.3,579.7 L319.5,579.1 L319.8,579.1 L320.0,578.6 L320.3,577.5 L320.6,578.2 L320.8,579.1 L321.1,578.5 L321.3,578.2 L321.6,578.8 L321.8,579.1 L322.1,579.3 L322.3,579.5 L322.6,578.7 L322.8,577.5 L323.1,577.6 L323.4,577.8 L323.6,577.0 L323.9,577.0 L324.1,577.5 L324.4,577.4 L324.6,577.2 L324.9,577.5 L325.1,578.0 L325.4,578.1 L325.6,577.7 L325.9,577.6 L326.1,577.9 L326.4,577.8 L326.7,577.4 L326.9,577.2 L327.2,577.1 L327.4,576.8 L327.7,576.5 L327.9,576.7 L328.2,577.4 L328.4,577.6 L328.7,577.6 L328.9,577.7 L329.2,576.9 L329.4,575.9 L329.7,575.8 L330.0,576.3 L330.2,577.0 L330.5,576.5 L330.7,576.2 L331.0,576.2 L331.2,576.0 L331.5,576.5 L331.7,576.3 L332.0,575.4 L332.2,574.8 L332.5,575.3 L332.8,576.4 L333.0,576.6 L333.3,576.3 L333.5,576.3 L333.8,576.3 L334.0,576.6 L334.3,577.1 L334.5,576.7 L334.8,576.2 L335.0,575.8 L335.3,575.2 L335.6,575.3 L335.8,576.3 L336.1,576.7 L336.3,575.5 L336.6,574.6 L336.8,575.5 L337.1,576.1 L337.3,575.2 L337.6,575.1 L337.8,575.2 L338.1,574.6 L338.3,574.7 L338.6,575.0 L338.9,574.7 L339.1,574.5 L339.4,574.9 L339.6,575.0 L339.9,574.8 L340.1,575.0 L340.4,574.6 L340.6,574.5 L340.9,575.1 L341.1,575.3 L341.4,575.6 L341.6,576.4 L341.9,576.2 L342.2,575.4 L342.4,575.0 L342.7,574.8 L342.9,574.2 L343.2,574.3 L343.4,574.1 L343.7,573.3 L343.9,573.8 L344.2,574.2 L344.4,574.4 L344.7,575.2 L345.0,575.2 L345.2,574.2 L345.5,573.7 L345.7,573.7 L346.0,573.6 L346.2,573.9 L346.5,574.1 L346.7,573.2 L347.0,572.7 L347.2,573.2 L347.5,573.9 L347.8,574.2 L348.0,574.1 L348.3,573.8 L348.5,574.4 L348.8,575.0 L349.0,573.8 L349.3,572.9 L349.5,573.1 L349.8,573.4 L350.0,573.6 L350.3,573.9 L350.5,574.2 L350.8,573.7 L351.1,573.2 L351.3,573.7 L351.6,574.3 L351.8,574.0 L352.1,573.6 L352.3,573.4 L352.6,572.7 L352.8,571.6 L353.1,571.9 L353.3,573.8 L353.6,574.3 L353.9,572.5 L354.1,571.3 L354.4,571.9 L354.6,573.0 L354.9,573.5 L355.1,573.0 L355.4,572.3 L355.6,572.4 L355.9,572.6 L356.1,572.6 L356.4,572.6 L356.6,572.1 L356.9,571.5 L357.2,571.7 L357.4,572.2 L357.7,572.5 L357.9,571.9 L358.2,571.9 L358.4,572.8 L358.7,573.2 L358.9,572.4 L359.2,571.5 L359.4,572.2 L359.7,573.1 L359.9,573.1 L360.2,573.2 L360.5,573.7 L360.7,573.4 L361.0,572.8 L361.2,572.0 L361.5,571.6 L361.7,572.0 L362.0,571.9 L362.2,571.7 L362.5,572.6 L362.7,572.5 L363.0,571.3" stroke="#0c0cd8"/>
<path d="M58.0,626.7 L58.3,627.4 L58.5,627.0 L58.8,626.0 L59.0,626.2 L59.3,626.1 L59.5,626.0 L59.8,626.5 L60.0,626.2 L60.3,625.4 L60.5,624.5 L60.8,624.9 L61.0,625.0 L61.3,623.7 L61.6,623.4 L61.8,624.4 L62.1,625.7 L62.3,625.5 L62.6,624.0 L62.8,623.9 L63.1,624.4 L63.3,624.1 L63.6,623.9 L63.8,623.3 L64.1,623.4 L64.4,625.3 L64.6,626.1 L64.9,625.2 L65.1,624.5 L65.4,624.4 L65.6,624.4 L65.9,624.3 L66.1,624.7 L66.4,624.4 L66.6,623.6 L66.9,623.9 L67.2,624.7 L67.4,624.6 L67.7,623.4 L67.9,623.5 L68.2,624.7 L68.4,625.0 L68.7,625.3 L68.9,624.7 L69.2,623.5 L69.4,622.8 L69.7,622.6 L69.9,622.8 L70.2,623.1 L70.5,623.4 L70.7,623.1 L71.0,622.7 L71.2,622.7 L71.5,622.3 L71.7,622.4 L72.0,622.6 L72.2,622.5 L72.5,621.8 L72.7,620.8 L73.0,621.3 L73.2,621.9 L73.5,621.7 L73.8,621.9 L74.0,621.5 L74.3,620.6 L74.5,620.3 L74.8,620.2 L75.0,620.6 L75.3,622.0 L75.5,622.3 L75.8,620.6 L76.0,620.2 L76.3,621.3 L76.6,621.2 L76.8,619.8 L77.1,619.5 L77.3,620.0 L77.6,620.0 L77.8,620.2 L78.1,619.8 L78.3,618.6 L78.6,619.2 L78.8,620.5 L79.1,620.3 L79.3,619.0 L79.6,618.4 L79.9,618.6 L80.1,618.7 L80.4,617.8 L80.6,617.4 L80.9,618.2 L81.1,618.1 L81.4,618.0 L81.6,618.5 L81.9,618.1 L82.1,617.6 L82.4,617.1 L82.7,616.8 L82.9,617.2 L83.2,617.7 L83.4,617.6 L83.7,617.4 L83.9,616.9 L84.2,616.3 L84.4,616.3 L84.7,616.0 L84.9,615.4 L85.2,615.6 L85.5,616.1 L85.7,616.7 L86.0,616.3 L86.2,614.8 L86.5,614.6 L86.7,615.2 L87.0,615.4 L87.2,615.8 L87.5,615.7 L87.7,614.7 L88.0,614.6 L88.2,615.0 L88.5,614.4 L88.8,614.1 L89.0,614.4 L89.3,614.6 L89.5,614.3 L89.8,613.7 L90.0,613.4 L90.3,613.0 L90.5,612.7 L90.8,613.2 L91.0,613.6 L91.3,613.3 L91.5,612.5 L91.8,611.6 L92.1,610.6 L92.3,611.2 L92.6,612.2 L92.8,611.2 L93.1,610.5 L93.3,610.9 L93.6,611.4 L93.8,610.8 L94.1,609.6 L94.3,609.7 L94.6,610.3 L94.9,609.7 L95.1,608.2 L95.4,607.4 L95.6,607.8 L95.9,608.3 L96.1,607.6 L96.4,607.0 L96.6,607.4 L96.9,607.4 L97.1,606.4 L97.4,606.1 L97.7,607.5 L97.9,608.0 L98.2,607.4 L98.4,606.8 L98.7,605.4 L98.9,605.4 L99.2,606.4 L99.4,605.7 L99.7,604.7 L99.9,603.9 L100.2,603.2 L100.4,603.4 L100.7,603.9 L101.0,604.8 L101.2,604.9 L101.5,603.9 L101.7,602.9 L102.0,601.6 L102.2,600.6 L102.5,600.1 L102.7,600.1 L103.0,600.3 L103.2,599.4 L103.5,598.9 L103.8,599.7 L104.0,599.8 L104.3,599.1 L104.5,598.1 L104.8,597.4 L105.0,597.0 L105.3,596.8 L105.5,596.6 L105.8,596.0 L106.0,595.2 L106.3,594.5 L106.5,593.7 L106.8,593.0 L107.1,592.3 L107.3,591.5 L107.6,591.0 L107.8,590.8 L108.1,591.1 L108.3,591.6 L108.6,591.2 L108.8,589.7 L109.1,588.3 L109.3,587.4 L109.6,586.1 L109.8,585.3 L110.1,585.0 L110.4,584.5 L110.6,585.3 L110.9,585.8 L111.1,584.4 L111.4,583.2 L111.6,583.0 L111.9,582.0 L112.1,581.0 L112.4,580.4 L112.6,579.9 L112.9,580.0 L113.2,579.5 L113.4,578.8 L113.7,578.2 L113.9,576.7 L114.2,575.1 L114.4,573.7 L114.7,572.1 L114.9,569.7 L115.2,566.9 L115.4,564.5 L115.7,562.8 L116.0,560.7 L116.2,556.8 L116.5,552.2 L116.7,548.4 L117.0,543.2 L117.2,534.3 L117.5,522.5 L117.7,510.0 L118.0,497.9 L118.2,486.6 L118.5,476.1 L118.7,465.3 L119.0,455.0 L119.3,445.5 L119.5,436.5 L119.8,428.5 L120.0,420.3 L120.3,412.9 L120.5,408.2 L120.8,408.2 L121.0,408.2 L121.3,408.2 L121.5,408.2 L121.8,408.2 L122.0,408.2 L122.3,408.2 L122.6,408.2 L122.8,408.2 L123.1,408.2 L123.3,408.2 L123.6,408.2 L123.8,408.2 L124.1,408.2 L124.3,408.2 L124.6,408.2 L124.8,408.2 L125.1,408.2 L125.4,408.2 L125.6,408.2 L125.9,408.2 L126.1,408.2 L126.4,408.2 L126.6,423.7 L126.9,445.2 L127.1,461.3 L127.4,476.3 L127.6,489.4 L127.9,499.4 L128.2,506.3 L128.4,512.7 L128.7,519.7 L128.9,525.6 L129.2,530.1 L129.4,534.2 L129.7,538.3 L129.9,540.9 L130.2,543.1 L130.4,546.3 L130.7,548.5 L130.9,549.6 L131.2,551.0 L131.5,552.1 L131.7,552.2 L132.0,552.8 L132.2,554.9 L132.5,555.9 L132.7,555.8 L133.0,557.0 L133.2,558.2 L133.5,559.2 L133.7,560.5 L134.0,560.4 L134.2,560.1 L134.5,559.8 L134.8,559.5 L135.0,560.5 L135.3,562.5 L135.5,563.2 L135.8,563.0 L136.0,563.1 L136.3,562.9 L136.5,563.0 L136.8,563.7 L137.0,564.5 L137.3,565.0 L137.6,564.8 L137.8,564.5 L138.1,564.5 L138.3,564.4 L138.6,564.1 L138.8,563.4 L139.1,563.6 L139.3,563.9 L139.6,563.3 L139.8,563.1 L140.1,563.2 L140.3,562.7 L140.6,561.9 L140.9,561.6 L141.1,561.4 L141.4,560.9 L141.6,560.9 L141.9,561.5 L142.1,562.1 L142.4,561.7 L142.6,561.0 L142.9,560.4 L143.1,559.4 L143.4,559.9 L143.7,560.8 L143.9,560.0 L144.2,559.0 L144.4,558.7 L144.7,558.5 L144.9,558.9 L145.2,559.5 L145.4,558.4 L145.7,557.0 L145.9,557.2 L146.2,556.6 L146.4,556.1 L146.7,556.7 L147.0,556.7 L147.2,556.3 L147.5,556.0 L147.7,555.5 L148.0,554.5 L148.2,553.3 L148.5,552.5 L148.7,552.3 L149.0,552.7 L149.2,552.3 L149.5,551.1 L149.8,550.4 L150.0,549.9 L150.3,549.4 L150.5,549.9 L150.8,549.0 L151.0,546.9 L151.3,547.0 L151.5,547.6 L151.8,547.0 L152.0,546.6 L152.3,546.1 L152.6,545.6 L152.8,545.7 L153.1,545.6 L153.3,544.6 L153.6,543.6 L153.8,542.9 L154.1,542.6 L154.3,543.2 L154.6,542.9 L154.8,542.1 L155.1,542.2 L155.3,542.0 L155.6,541.0 L155.9,539.6 L156.1,538.6 L156.4,538.4 L156.6,538.0 L156.9,537.8 L157.1,538.5 L157.4,538.1 L157.6,536.6 L157.9,536.0 L158.1,535.6 L158.4,534.9 L158.7,534.4 L158.9,534.1 L159.2,533.6 L159.4,532.8 L159.7,532.2 L159.9,531.4 L160.2,531.5 L160.4,531.8 L160.7,531.3 L160.9,531.0 L161.2,530.8 L161.4,530.0 L161.7,528.8 L162.0,527.9 L162.2,527.7 L162.5,526.9 L162.7,525.9 L163.0,525.6 L163.2,525.5 L163.5,525.1 L163.7,523.9 L164.0,523.0 L164.2,523.1 L164.5,522.7 L164.8,521.8 L165.0,521.4 L165.3,521.7 L165.5,522.0 L165.8,521.3 L166.0,519.9 L166.3,519.6 L166.5,520.2 L166.8,519.8 L167.0,519.1 L167.3,518.7 L167.5,518.7 L167.8,519.1 L168.1,518.9 L168.3,518.2 L168.6,518.6 L168.8,518.3 L169.1,517.0 L169.3,517.7 L169.6,519.0 L169.8,518.7 L170.1,518.3 L170.3,518.2 L170.6,518.1 L170.8,518.2 L171.1,518.8 L171.4,519.8 L171.6,520.1 L171.9,519.9 L172.1,520.0 L172.4,519.6 L172.6,519.8 L172.9,520.5 L173.1,520.6 L173.4,521.2 L173.6,522.2 L173.9,522.7 L174.2,522.4 L174.4,522.0 L174.7,522.2 L174.9,522.2 L175.2,522.4 L175.4,523.0 L175.7,523.0 L175.9,523.1 L176.2,523.4 L176.4,523.3 L176.7,523.2 L176.9,524.3 L177.2,526.2 L177.5,526.9 L177.7,526.3 L178.0,525.9 L178.2,526.5 L178.5,527.2 L178.7,527.3 L179.0,527.7 L179.2,528.4 L179.5,528.9 L179.7,529.1 L180.0,529.1 L180.3,529.6 L180.5,530.0 L180.8,530.6 L181.0,531.5 L181.3,531.8 L181.5,532.5 L181.8,532.9 L182.0,533.1 L182.3,533.8 L182.5,534.4 L182.8,534.5 L183.1,534.6 L183.3,535.4 L183.6,535.9 L183.8,536.5 L184.1,537.6 L184.3,537.6 L184.6,537.5 L184.8,538.3 L185.1,538.9 L185.3,539.9 L185.6,540.7 L185.8,540.9 L186.1,541.5 L186.4,542.3 L186.6,542.2 L186.9,542.2 L187.1,543.1 L187.4,543.2 L187.6,542.7 L187.9,543.1 L188.1,544.4 L188.4,545.1 L188.6,545.0 L188.9,544.8 L189.2,545.0 L189.4,545.6 L189.7,546.3 L189.9,546.8 L190.2,547.8 L190.4,548.2 L190.7,547.8 L190.9,547.8 L191.2,548.3 L191.4,548.7 L191.7,549.2 L191.9,550.2 L192.2,550.6 L192.5,550.4 L192.7,551.7 L193.0,553.1 L193.2,553.4 L193.5,553.4 L193.7,554.1 L194.0,555.0 L194.2,555.1 L194.5,555.3 L194.7,556.5 L195.0,556.8 L195.2,555.8 L195.5,555.5 L195.8,557.3 L196.0,558.8 L196.3,558.9 L196.5,558.5 L196.8,558.3 L197.0,558.2 L197.3,558.0 L197.5,558.7 L197.8,559.4 L198.0,559.6 L198.3,559.5 L198.6,559.4 L198.8,559.9 L199.1,560.6 L199.3,561.3 L199.6,561.8 L199.8,562.0 L200.1,561.8 L200.3,561.1 L200.6,561.0 L200.8,561.2 L201.1,561.7 L201.3,562.2 L201.6,561.4 L201.9,560.8 L202.1,561.6 L202.4,563.8 L202.6,564.8 L202.9,563.2 L203.1,562.4 L203.4,563.1 L203.6,564.4 L203.9,564.9 L204.1,564.8 L204.4,565.7 L204.7,565.9 L204.9,564.8 L205.2,564.4 L205.4,565.0 L205.7,566.2 L205.9,566.2 L206.2,565.3 L206.4,565.0 L206.7,565.3 L206.9,566.0 L207.2,566.5 L207.4,567.3 L207.7,567.3 L208.0,566.8 L208.2,566.8 L208.5,567.1 L208.7,567.8 L209.0,567.6 L209.2,566.5 L209.5,566.6 L209.7,567.5 L210.0,568.5 L210.2,569.0 L210.5,568.3 L210.8,567.5 L211.0,568.0 L211.3,568.8 L211.5,569.7 L211.8,570.3 L212.0,570.1 L212.3,570.2 L212.5,570.0 L212.8,569.2 L213.0,568.8 L213.3,568.5 L213.6,568.2 L213.8,568.8 L214.1,569.9 L214.3,570.1 L214.6,569.8 L214.8,570.2 L215.1,570.8 L215.3,571.0 L215.6,571.0 L215.8,571.7 L216.1,572.5 L216.3,571.8 L216.6,570.9 L216.9,571.1 L217.1,571.4 L217.4,571.1 L217.6,570.5 L217.9,570.2 L218.1,570.1 L218.4,570.3 L218.6,571.1 L218.9,571.4 L219.1,571.4 L219.4,571.1 L219.7,571.1 L219.9,571.9 L220.2,571.6 L220.4,570.5 L220.7,570.8 L220.9,571.4 L221.2,571.5 L221.4,571.6 L221.7,571.2 L221.9,570.9 L222.2,571.7 L222.4,572.0 L222.7,571.0 L223.0,570.5 L223.2,571.1 L223.5,572.0 L223.7,572.2 L224.0,571.5 L224.2,571.0 L224.5,571.4 L224.7,572.0 L225.0,572.7 L225.2,573.0 L225.5,572.3 L225.8,571.4 L226.0,571.2 L226.3,571.9 L226.5,572.5 L226.8,572.0 L227.0,571.0 L227.3,571.6 L227.5,572.2 L227.8,571.7 L228.0,572.1 L228.3,573.1 L228.5,572.4 L228.8,570.8 L229.1,571.1 L229.3,571.7 L229.6,571.4 L229.8,571.5 L230.1,572.1 L230.3,571.8 L230.6,571.4 L230.8,571.6 L231.1,571.6 L231.3,571.0 L231.6,571.5 L231.8,572.4 L232.1,572.1 L232.4,572.2 L232.6,572.4 L232.9,572.3 L233.1,572.7 L233.4,572.7 L233.6,572.3 L233.9,572.3 L234.1,572.4 L234.4,571.5 L234.6,571.2 L234.9,572.6 L235.2,573.3 L235.4,573.0 L235.7,572.3 L235.9,572.3 L236.2,572.7 L236.4,572.7 L236.7,572.2 L236.9,571.2 L237.2,571.3 L237.4,571.8 L237.7,572.0 L237.9,572.2 L238.2,571.9 L238.5,571.7 L238.7,571.8 L239.0,571.8 L239.2,572.0 L239.5,572.5 L239.7,572.7 L240.0,572.2 L240.2,571.6 L240.5,571.7 L240.7,572.3 L241.0,572.5 L241.3,573.0 L241.5,573.4 L241.8,572.7 L242.0,572.6 L242.3,572.1 L242.5,571.3 L242.8,571.3 L243.0,571.6 L243.3,571.7 L243.5,571.0 L243.8,571.0 L244.1,572.4 L244.3,573.2 L244.6,572.2 L244.8,571.7 L245.1,572.9 L245.3,573.0 L245.6,571.7 L245.8,571.4 L246.1,571.4 L246.3,570.9 L246.6,570.6 L246.8,570.9 L247.1,571.3 L247.4,572.2 L247.6,573.1 L247.9,572.1 L248.1,571.5 L248.4,572.4 L248.6,572.5 L248.9,572.2 L249.1,571.8 L249.4,571.4 L249.6,571.5 L249.9,571.1 L250.2,570.5 L250.4,570.6 L250.7,570.8 L250.9,571.2 L251.2,571.5 L251.4,571.3 L251.7,571.7 L251.9,571.7 L252.2,570.1 L252.4,568.9 L252.7,569.8 L252.9,570.8 L253.2,570.9 L253.5,571.2 L253.7,571.7 L254.0,571.2 L254.2,570.6 L254.5,570.7 L254.7,570.9 L255.0,570.0 L255.2,569.1 L255.5,569.7 L255.7,570.3 L256.0,570.0 L256.2,570.2 L256.5,571.1 L256.8,570.8 L257.0,569.6 L257.3,569.7 L257.5,570.7 L257.8,570.2 L258.0,569.3 L258.3,569.7 L258.5,569.6 L258.8,568.7 L259.0,568.1 L259.3,568.4 L259.6,569.7 L259.8,571.2 L260.1,571.1 L260.3,570.2 L260.6,570.1 L260.8,570.1 L261.1,569.8 L261.3,569.0 L261.6,568.5 L261.8,568.4 L262.1,568.5 L262.4,569.4 L262.6,569.4 L262.9,568.7 L263.1,568.2 L263.4,568.1 L263.6,567.9 L263.9,567.9 L264.1,569.1 L264.4,570.0 L264.6,569.5 L264.9,569.2 L265.1,568.8 L265.4,568.2 L265.7,568.6 L265.9,569.4 L266.2,569.9 L266.4,569.7 L266.7,569.7 L266.9,570.5 L267.2,571.2 L267.4,570.9 L267.7,570.3 L267.9,570.4 L268.2,570.0 L268.4,569.2 L268.7,569.7 L269.0,570.1 L269.2,569.9 L269.5,569.7 L269.7,569.9 L270.0,570.7 L270.2,570.5 L270.5,569.9 L270.7,570.0 L271.0,569.3 L271.2,568.4 L271.5,569.2 L271.8,570.1 L272.0,570.1 L272.3,571.2 L272.5,572.0 L272.8,571.5 L273.0,571.2 L273.3,570.7 L273.5,569.1 L273.8,568.7 L274.0,569.7 L274.3,570.0 L274.6,569.4 L274.8,569.3 L275.1,569.6 L275.3,570.0 L275.6,570.4 L275.8,570.6 L276.1,570.6 L276.3,570.3 L276.6,569.7 L276.8,569.9 L277.1,570.2 L277.3,569.3 L277.6,568.8 L277.9,569.9 L278.1,570.8 L278.4,571.1 L278.6,570.8 L278.9,569.8 L279.1,569.8 L279.4,570.1 L279.6,569.7 L279.9,569.5 L280.1,569.5 L280.4,569.8 L280.6,569.5 L280.9,568.4 L281.2,567.9 L281.4,567.8 L281.7,567.5 L281.9,568.0 L282.2,568.7 L282.4,568.0 L282.7,567.8 L282.9,568.6 L283.2,568.7 L283.4,568.5 L283.7,568.4 L284.0,568.3 L284.2,568.4 L284.5,567.7 L284.7,566.8 L285.0,567.3 L285.2,568.3 L285.5,568.2 L285.7,568.0 L286.0,568.4 L286.2,569.0 L286.5,568.6 L286.8,567.4 L287.0,567.2 L287.3,567.9 L287.5,568.2 L287.8,568.5 L288.0,568.4 L288.3,568.0 L288.5,567.1 L288.8,566.2 L289.0,566.7 L289.3,566.6 L289.5,566.2 L289.8,566.9 L290.1,567.9 L290.3,568.2 L290.6,567.2 L290.8,566.7 L291.1,567.0 L291.3,567.0 L291.6,566.4 L291.8,566.2 L292.1,566.5 L292.3,565.8 L292.6,565.1 L292.9,566.2 L293.1,567.6 L293.4,567.3 L293.6,566.1 L293.9,565.9 L294.1,566.9 L294.4,567.0 L294.6,566.3 L294.9,565.8 L295.1,566.5 L295.4,567.4 L295.6,566.9 L295.9,566.3 L296.2,566.8 L296.4,567.0 L296.7,566.6 L296.9,566.5 L297.2,566.2 L297.4,566.3 L297.7,567.1 L297.9,567.1 L298.2,566.1 L298.4,565.6 L298.7,565.9 L298.9,566.4 L299.2,566.0 L299.5,564.9 L299.7,565.0 L300.0,565.7 L300.2,565.9 L300.5,565.5 L300.7,565.4 L301.0,565.8 L301.2,565.6 L301.5,565.4 L301.7,565.5 L302.0,565.6 L302.3,566.0 L302.5,566.3 L302.8,565.8 L303.0,565.5 L303.3,566.1 L303.5,566.0 L303.8,565.1 L304.0,564.5 L304.3,564.7 L304.5,564.8 L304.8,564.1 L305.1,564.1 L305.3,564.7 L305.6,564.7 L305.8,564.4 L306.1,563.7 L306.3,562.8 L306.6,563.1 L306.8,563.9 L307.1,564.4 L307.3,564.9 L307.6,564.8 L307.8,564.0 L308.1,563.4 L308.4,563.2 L308.6,564.2 L308.9,565.2 L309.1,564.2 L309.4,564.0 L309.6,564.7 L309.9,563.9 L310.1,563.1 L310.4,563.0 L310.6,563.3 L310.9,563.7 L311.1,563.7 L311.4,563.3 L311.7,563.0 L311.9,563.2 L312.2,563.6 L312.4,563.1 L312.7,562.3 L312.9,562.6 L313.2,562.5 L313.4,561.7 L313.7,561.8 L313.9,562.6 L314.2,562.6 L314.5,562.5 L314.7,562.8 L315.0,562.0 L315.2,561.5 L315.5,561.9 L315.7,561.2 L316.0,560.5 L316.2,561.0 L316.5,560.8 L316.7,560.2 L317.0,560.4 L317.2,560.8 L317.5,560.6 L317.8,560.3 L318.0,560.6 L318.3,561.4 L318.5,561.4 L318.8,560.9 L319.0,560.2 L319.3,559.5 L319.5,559.0 L319.8,559.3 L320.0,560.0 L320.3,560.1 L320.6,559.3 L320.8,558.3 L321.1,558.1 L321.3,558.4 L321.6,558.7 L321.8,558.2 L322.1,557.6 L322.3,557.2 L322.6,557.3 L322.8,557.3 L323.1,557.2 L323.4,557.2 L323.6,557.1 L323.9,557.7 L324.1,557.9 L324.4,556.2 L324.6,555.6 L324.9,557.0 L325.1,557.6 L325.4,557.4 L325.6,557.4 L325.9,556.7 L326.1,556.0 L326.4,555.7 L326.7,555.7 L326.9,556.1 L327.2,556.1 L327.4,555.8 L327.7,555.6 L327.9,555.6 L328.2,555.0 L328.4,554.2 L328.7,554.2 L328.9,554.8 L329.2,555.3 L329.4,555.6 L329.7,555.7 L330.0,555.6 L330.2,555.1 L330.5,554.4 L330.7,554.6 L331.0,555.6 L331.2,556.2 L331.5,555.6 L331.7,554.3 L332.0,553.5 L332.2,554.0 L332.5,554.5 L332.8,554.3 L333.0,554.0 L333.3,553.6 L333.5,553.1 L333.8,553.3 L334.0,554.2 L334.3,553.6 L334.5,552.6 L334.8,552.6 L335.0,553.6 L335.3,554.2 L335.6,554.0 L335.8,554.0 L336.1,553.9 L336.3,554.2 L336.6,554.2 L336.8,553.0 L337.1,553.2 L337.3,553.9 L337.6,552.9 L337.8,552.3 L338.1,552.7 L338.3,552.9 L338.6,552.7 L338.9,552.9 L339.1,552.6 L339.4,551.9 L339.6,552.6 L339.9,552.7 L340.1,552.3 L340.4,552.6 L340.6,553.0 L340.9,553.5 L341.1,553.3 L341.4,552.4 L341.6,552.0 L341.9,552.0 L342.2,552.0 L342.4,552.2 L342.7,553.1 L342.9,553.2 L343.2,553.1 L343.4,553.1 L343.7,552.5 L343.9,552.1 L344.2,552.2 L344.4,552.6 L344.7,552.9 L345.0,552.6 L345.2,552.1 L345.5,552.6 L345.7,553.0 L346.0,552.9 L346.2,552.9 L346.5,552.2 L346.7,552.6 L347.0,553.6 L347.2,553.0 L347.5,552.6 L347.8,552.0 L348.0,550.3 L348.3,550.2 L348.5,551.2 L348.8,551.2 L349.0,551.0 L349.3,550.9 L349.5,550.8 L349.8,551.6 L350.0,552.1 L350.3,550.9 L350.5,550.1 L350.8,551.2 L351.1,552.0 L351.3,551.5 L351.6,550.7 L351.8,550.5 L352.1,550.3 L352.3,550.4 L352.6,550.8 L352.8,550.4 L353.1,550.6 L353.3,551.3 L353.6,551.0 L353.9,550.4 L354.1,550.3 L354.4,550.7 L354.6,550.2 L354.9,549.6 L355.1,549.3 L355.4,548.8 L355.6,549.5 L355.9,550.2 L356.1,549.8 L356.4,549.3 L356.6,549.4 L356.9,549.8 L357.2,549.9 L357.4,550.6 L357.7,550.2 L357.9,548.8 L358.2,549.5 L358.4,550.7 L358.7,550.5 L358.9,550.4 L359.2,550.7 L359.4,550.0 L359.7,549.1 L359.9,548.3 L360.2,548.4 L360.5,549.2 L360.7,549.5 L361.0,550.0 L361.2,550.5 L361.5,550.5 L361.7,549.9 L362.0,549.5 L362.2,549.6 L362.5,549.3 L362.7,548.6 L363.0,548.5" stroke="#14e014"/>
<path d="M58.0,594.6 L58.3,595.0 L58.5,595.2 L58.8,594.7 L59.0,594.9 L59.3,595.4 L59.5,595.1 L59.8,594.5 L60.0,594.1 L60.3,594.6 L60.5,594.6 L60.8,593.1 L61.0,592.2 L61.3,592.6 L61.6,593.4 L61.8,593.8 L62.1,593.9 L62.3,594.0 L62.6,593.3 L62.8,592.8 L63.1,592.8 L63.3,593.3 L63.6,593.6 L63.8,592.8 L64.1,592.8 L64.4,593.3 L64.6,593.2 L64.9,593.3 L65.1,593.8 L65.4,593.4 L65.6,591.9 L65.9,591.6 L66.1,592.2 L66.4,591.9 L66.6,591.1 L66.9,591.1 L67.2,591.9 L67.4,591.9 L67.7,591.4 L67.9,592.4 L68.2,593.5 L68.4,593.1 L68.7,592.3 L68.9,591.6 L69.2,591.9 L69.4,592.2 L69.7,591.4 L69.9,590.0 L70.2,588.3 L70.5,589.1 L70.7,590.9 L71.0,590.9 L71.2,589.8 L71.5,589.7 L71.7,590.4 L72.0,590.4 L72.2,589.6 L72.5,589.9 L72.7,591.2 L73.0,591.9 L73.2,591.0 L73.5,589.7 L73.8,588.9 L74.0,588.4 L74.3,588.7 L74.5,589.4 L74.8,588.8 L75.0,587.2 L75.3,587.2 L75.5,588.5 L75.8,589.4 L76.0,589.7 L76.3,589.4 L76.6,588.9 L76.8,588.5 L77.1,588.1 L77.3,587.7 L77.6,587.5 L77.8,587.7 L78.1,588.2 L78.3,588.1 L78.6,588.1 L78.8,587.9 L79.1,587.8 L79.3,588.1 L79.6,587.5 L79.9,586.9 L80.1,587.0 L80.4,587.4 L80.6,588.0 L80.9,587.5 L81.1,587.1 L81.4,587.7 L81.6,587.9 L81.9,587.3 L82.1,586.4 L82.4,585.7 L82.7,585.6 L82.9,585.8 L83.2,586.1 L83.4,586.1 L83.7,585.6 L83.9,585.1 L84.2,584.3 L84.4,583.8 L84.7,584.7 L84.9,585.8 L85.2,586.0 L85.5,584.7 L85.7,583.4 L86.0,583.9 L86.2,584.4 L86.5,583.9 L86.7,584.1 L87.0,584.5 L87.2,583.8 L87.5,583.2 L87.7,583.0 L88.0,582.5 L88.2,581.4 L88.5,580.9 L88.8,581.3 L89.0,581.3 L89.3,580.8 L89.5,580.8 L89.8,581.3 L90.0,580.9 L90.3,580.7 L90.5,581.2 L90.8,580.8 L91.0,580.3 L91.3,580.4 L91.5,581.1 L91.8,581.2 L92.1,580.4 L92.3,579.4 L92.6,578.8 L92.8,578.8 L93.1,579.4 L93.3,580.2 L93.6,580.1 L93.8,578.9 L94.1,577.8 L94.3,577.4 L94.6,577.1 L94.9,577.0 L95.1,577.5 L95.4,578.0 L95.6,577.8 L95.9,577.0 L96.1,576.1 L96.4,575.3 L96.6,575.5 L96.9,576.0 L97.1,576.1 L97.4,576.7 L97.7,576.9 L97.9,575.7 L98.2,574.3 L98.4,574.1 L98.7,573.7 L98.9,572.7 L99.2,573.0 L99.4,573.4 L99.7,572.0 L99.9,571.2 L100.2,572.2 L100.4,572.5 L100.7,571.9 L101.0,571.3 L101.2,570.4 L101.5,569.7 L101.7,570.2 L102.0,570.8 L102.2,570.4 L102.5,569.3 L102.7,568.9 L103.0,569.4 L103.2,569.6 L103.5,569.4 L103.8,568.8 L104.0,568.2 L104.3,568.4 L104.5,567.6 L104.8,565.2 L105.0,562.7 L105.3,561.2 L105.5,560.4 L105.8,559.0 L106.0,558.2 L106.3,558.7 L106.5,558.7 L106.8,557.8 L107.1,557.5 L107.3,558.0 L107.6,558.5 L107.8,558.7 L108.1,558.2 L108.3,557.5 L108.6,556.8 L108.8,556.1 L109.1,555.3 L109.3,555.2 L109.6,556.2 L109.8,556.2 L110.1,555.6 L110.4,555.0 L110.6,553.7 L110.9,552.3 L111.1,550.8 L111.4,549.4 L111.6,548.8 L111.9,549.4 L112.1,549.1 L112.4,547.3 L112.6,545.4 L112.9,544.2 L113.2,543.4 L113.4,541.5 L113.7,538.0 L113.9,534.8 L114.2,532.9 L114.4,530.9 L114.7,528.4 L114.9,525.3 L115.2,521.1 L115.4,516.1 L115.7,510.8 L116.0,505.2 L116.2,499.3 L116.5,492.8 L116.7,485.2 L117.0,475.7 L117.2,465.5 L117.5,455.5 L117.7,444.9 L118.0,433.1 L118.2,420.9 L118.5,408.8 L118.7,408.2 L119.0,408.2 L119.3,408.2 L119.5,408.2 L119.8,408.2 L120.0,408.2 L120.3,408.2 L120.5,408.2 L120.8,408.2 L121.0,408.2 L121.3,408.2 L121.5,408.2 L121.8,408.2 L122.0,408.2 L122.3,408.2 L122.6,408.2 L122.8,408.2 L123.1,408.2 L123.3,408.2 L123.6,408.2 L123.8,408.2 L124.1,408.2 L124.3,408.2 L124.6,408.2 L124.8,408.2 L125.1,408.2 L125.4,408.2 L125.6,408.2 L125.9,408.2 L126.1,408.2 L126.4,408.2 L126.6,408.2 L126.9,408.2 L127.1,408.2 L127.4,408.2 L127.6,408.2 L127.9,408.2 L128.2,408.2 L128.4,408.2 L128.7,408.2 L128.9,408.2 L129.2,420.3 L129.4,439.4 L129.7,452.8 L129.9,463.3 L130.2,472.3 L130.4,481.2 L130.7,488.4 L130.9,494.4 L131.2,500.2 L131.5,504.4 L131.7,507.5 L132.0,511.8 L132.2,515.9 L132.5,518.5 L132.7,520.3 L133.0,521.5 L133.2,523.1 L133.5,524.8 L133.7,525.8 L134.0,526.2 L134.2,526.5 L134.5,527.5 L134.8,528.9 L135.0,529.5 L135.3,529.6 L135.5,530.3 L135.8,530.9 L136.0,531.0 L136.3,531.1 L136.5,531.1 L136.8,531.5 L137.0,532.0 L137.3,532.1 L137.6,532.4 L137.8,533.0 L138.1,533.1 L138.3,531.9 L138.6,531.2 L138.8,532.3 L139.1,533.3 L139.3,532.9 L139.6,532.3 L139.8,532.1 L140.1,532.0 L140.3,531.7 L140.6,532.4 L140.9,534.3 L141.1,535.1 L141.4,534.3 L141.6,533.6 L141.9,533.0 L142.1,533.0 L142.4,533.0 L142.6,531.9 L142.9,531.1 L143.1,531.4 L143.4,531.7 L143.7,531.5 L143.9,531.5 L144.2,531.6 L144.4,531.2 L144.7,530.8 L144.9,531.1 L145.2,530.7 L145.4,529.1 L145.7,528.0 L145.9,528.1 L146.2,528.5 L146.4,528.1 L146.7,526.8 L147.0,525.3 L147.2,524.3 L147.5,524.0 L147.7,524.3 L148.0,524.3 L148.2,523.3 L148.5,523.2 L148.7,523.4 L149.0,522.7 L149.2,522.1 L149.5,522.1 L149.8,522.0 L150.0,520.7 L150.3,519.3 L150.5,519.0 L150.8,518.7 L151.0,518.2 L151.3,518.3 L151.5,518.2 L151.8,518.0 L152.0,518.7 L152.3,519.2 L152.6,518.1 L152.8,516.4 L153.1,515.4 L153.3,515.2 L153.6,515.1 L153.8,514.5 L154.1,514.0 L154.3,514.3 L154.6,514.2 L154.8,513.6 L155.1,513.2 L155.3,512.5 L155.6,511.7 L155.9,511.5 L156.1,512.0 L156.4,513.3 L156.6,514.0 L156.9,512.7 L157.1,511.1 L157.4,510.7 L157.6,510.5 L157.9,509.7 L158.1,509.1 L158.4,508.5 L158.7,508.4 L158.9,509.0 L159.2,508.3 L159.4,507.1 L159.7,506.7 L159.9,506.5 L160.2,505.6 L160.4,505.0 L160.7,505.3 L160.9,505.1 L161.2,505.6 L161.4,506.2 L161.7,505.2 L162.0,504.7 L162.2,504.9 L162.5,505.0 L162.7,504.4 L163.0,503.4 L163.2,503.2 L163.5,502.6 L163.7,501.7 L164.0,502.0 L164.2,502.7 L164.5,503.0 L164.8,502.8 L165.0,502.3 L165.3,501.6 L165.5,500.9 L165.8,500.6 L166.0,500.6 L166.3,500.6 L166.5,501.4 L166.8,501.4 L167.0,500.0 L167.3,499.6 L167.5,499.5 L167.8,498.7 L168.1,498.7 L168.3,499.0 L168.6,499.1 L168.8,499.7 L169.1,500.0 L169.3,499.5 L169.6,499.1 L169.8,498.9 L170.1,498.4 L170.3,498.5 L170.6,499.3 L170.8,499.8 L171.1,500.1 L171.4,499.9 L171.6,499.0 L171.9,498.2 L172.1,498.4 L172.4,499.8 L172.6,501.4 L172.9,501.7 L173.1,501.4 L173.4,501.6 L173.6,501.8 L173.9,501.5 L174.2,500.4 L174.4,500.3 L174.7,500.8 L174.9,500.9 L175.2,502.2 L175.4,502.8 L175.7,501.6 L175.9,500.7 L176.2,501.1 L176.4,502.0 L176.7,502.6 L176.9,503.1 L177.2,503.0 L177.5,502.6 L177.7,502.8 L178.0,503.8 L178.2,504.3 L178.5,502.8 L178.7,502.3 L179.0,503.9 L179.2,505.2 L179.5,505.9 L179.7,506.3 L180.0,506.1 L180.3,506.6 L180.5,507.3 L180.8,507.5 L181.0,507.4 L181.3,507.3 L181.5,508.0 L181.8,509.2 L182.0,509.9 L182.3,509.7 L182.5,509.7 L182.8,510.9 L183.1,512.1 L183.3,512.3 L183.6,511.6 L183.8,511.8 L184.1,513.7 L184.3,514.7 L184.6,513.4 L184.8,513.7 L185.1,515.0 L185.3,515.3 L185.6,515.5 L185.8,514.9 L186.1,513.9 L186.4,514.6 L186.6,516.3 L186.9,516.5 L187.1,516.3 L187.4,516.8 L187.6,516.7 L187.9,516.9 L188.1,518.1 L188.4,518.9 L188.6,519.6 L188.9,520.0 L189.2,519.3 L189.4,519.4 L189.7,520.7 L189.9,521.2 L190.2,520.6 L190.4,519.9 L190.7,519.9 L190.9,520.4 L191.2,520.7 L191.4,521.4 L191.7,521.6 L191.9,521.6 L192.2,521.4 L192.5,521.5 L192.7,522.3 L193.0,522.5 L193.2,523.0 L193.5,523.4 L193.7,523.6 L194.0,524.3 L194.2,524.3 L194.5,524.2 L194.7,524.7 L195.0,524.3 L195.2,523.6 L195.5,524.5 L195.8,525.9 L196.0,525.9 L196.3,525.7 L196.5,526.4 L196.8,527.5 L197.0,527.4 L197.3,527.1 L197.5,527.3 L197.8,526.8 L198.0,526.9 L198.3,528.2 L198.6,528.1 L198.8,527.4 L199.1,528.1 L199.3,528.8 L199.6,529.4 L199.8,529.8 L200.1,529.3 L200.3,529.0 L200.6,529.8 L200.8,530.2 L201.1,530.3 L201.3,530.9 L201.6,531.1 L201.9,530.7 L202.1,530.7 L202.4,531.2 L202.6,531.6 L202.9,532.9 L203.1,533.4 L203.4,532.6 L203.6,532.8 L203.9,532.4 L204.1,531.8 L204.4,533.0 L204.7,534.2 L204.9,534.7 L205.2,534.5 L205.4,533.9 L205.7,534.1 L205.9,534.9 L206.2,536.0 L206.4,536.6 L206.7,535.6 L206.9,535.5 L207.2,537.1 L207.4,537.4 L207.7,536.1 L208.0,535.2 L208.2,535.2 L208.5,535.4 L208.7,535.5 L209.0,536.4 L209.2,537.6 L209.5,538.0 L209.7,538.0 L210.0,538.7 L210.2,538.7 L210.5,537.8 L210.8,538.2 L211.0,538.7 L211.3,538.5 L211.5,538.8 L211.8,539.2 L212.0,539.9 L212.3,540.6 L212.5,539.7 L212.8,539.0 L213.0,539.5 L213.3,539.7 L213.6,540.0 L213.8,540.5 L214.1,540.0 L214.3,539.4 L214.6,539.8 L214.8,540.2 L215.1,540.0 L215.3,539.9 L215.6,539.9 L215.8,540.8 L216.1,541.9 L216.3,542.3 L216.6,542.3 L216.9,542.0 L217.1,541.4 L217.4,541.0 L217.6,541.2 L217.9,541.4 L218.1,541.8 L218.4,542.2 L218.6,541.4 L218.9,541.2 L219.1,542.4 L219.4,543.0 L219.7,542.5 L219.9,542.4 L220.2,543.5 L220.4,543.2 L220.7,541.4 L220.9,541.6 L221.2,542.9 L221.4,543.3 L221.7,543.3 L221.9,543.3 L222.2,543.4 L222.4,543.4 L222.7,542.7 L223.0,542.9 L223.2,544.3 L223.5,544.7 L223.7,543.6 L224.0,542.8 L224.2,543.7 L224.5,544.5 L224.7,544.8 L225.0,545.2 L225.2,544.7 L225.5,545.0 L225.8,545.8 L226.0,545.3 L226.3,544.7 L226.5,545.0 L226.8,544.6 L227.0,543.9 L227.3,544.5 L227.5,545.0 L227.8,545.0 L228.0,545.2 L228.3,544.7 L228.5,545.0 L228.8,546.0 L229.1,545.8 L229.3,544.6 L229.6,544.4 L229.8,544.7 L230.1,544.7 L230.3,544.8 L230.6,544.7 L230.8,544.6 L231.1,545.2 L231.3,545.9 L231.6,544.9 L231.8,543.7 L232.1,543.6 L232.4,543.7 L232.6,544.3 L232.9,544.4 L233.1,544.0 L233.4,544.0 L233.6,545.0 L233.9,546.1 L234.1,545.1 L234.4,543.2 L234.6,543.1 L234.9,544.2 L235.2,545.0 L235.4,544.8 L235.7,544.6 L235.9,545.3 L236.2,545.4 L236.4,544.6 L236.7,543.9 L236.9,543.9 L237.2,544.3 L237.4,545.2 L237.7,546.0 L237.9,545.4 L238.2,544.5 L238.5,544.6 L238.7,544.8 L239.0,544.4 L239.2,544.7 L239.5,545.4 L239.7,545.1 L240.0,544.7 L240.2,545.1 L240.5,544.9 L240.7,543.9 L241.0,543.9 L241.3,544.4 L241.5,544.5 L241.8,544.8 L242.0,544.7 L242.3,544.8 L242.5,545.5 L242.8,545.3 L243.0,545.1 L243.3,545.5 L243.5,545.2 L243.8,544.5 L244.1,544.3 L244.3,544.2 L244.6,544.8 L244.8,545.6 L245.1,544.9 L245.3,544.4 L245.6,544.9 L245.8,544.9 L246.1,545.0 L246.3,546.3 L246.6,546.8 L246.8,545.5 L247.1,544.4 L247.4,544.1 L247.6,543.9 L247.9,544.6 L248.1,544.8 L248.4,544.3 L248.6,545.2 L248.9,546.0 L249.1,545.5 L249.4,544.4 L249.6,544.1 L249.9,544.1 L250.2,544.0 L250.4,544.0 L250.7,544.0 L250.9,544.5 L251.2,544.2 L251.4,543.4 L251.7,543.0 L251.9,543.7 L252.2,545.3 L252.4,545.7 L252.7,544.8 L252.9,544.6 L253.2,545.1 L253.5,545.3 L253.7,544.7 L254.0,543.6 L254.2,543.2 L254.5,543.6 L254.7,543.1 L255.0,542.6 L255.2,543.4 L255.5,545.0 L255.7,545.3 L256.0,544.3 L256.2,544.1 L256.5,543.9 L256.8,543.3 L257.0,543.2 L257.3,543.9 L257.5,544.4 L257.8,544.2 L258.0,544.4 L258.3,545.0 L258.5,544.9 L258.8,543.9 L259.0,543.0 L259.3,543.3 L259.6,544.2 L259.8,544.4 L260.1,543.6 L260.3,542.8 L260.6,542.8 L260.8,543.4 L261.1,543.4 L261.3,542.8 L261.6,543.1 L261.8,543.5 L262.1,542.8 L262.4,541.8 L262.6,541.9 L262.9,543.2 L263.1,543.7 L263.4,543.7 L263.6,544.4 L263.9,543.8 L264.1,542.9 L264.4,543.0 L264.6,543.3 L264.9,544.0 L265.1,543.8 L265.4,543.1 L265.7,543.3 L265.9,542.9 L266.2,542.5 L266.4,543.2 L266.7,544.0 L266.9,544.0 L267.2,544.1 L267.4,544.6 L267.7,544.7 L267.9,544.5 L268.2,543.4 L268.4,542.7 L268.7,543.6 L269.0,544.7 L269.2,544.4 L269.5,543.3 L269.7,542.7 L270.0,543.2 L270.2,543.9 L270.5,544.7 L270.7,544.7 L271.0,543.9 L271.2,544.1 L271.5,544.0 L271.8,543.2 L272.0,542.8 L272.3,543.4 L272.5,543.7 L272.8,543.3 L273.0,543.6 L273.3,543.8 L273.5,543.6 L273.8,543.0 L274.0,541.7 L274.3,542.2 L274.6,543.9 L274.8,544.6 L275.1,544.5 L275.3,543.9 L275.6,543.1 L275.8,543.1 L276.1,544.1 L276.3,544.5 L276.6,543.1 L276.8,541.6 L277.1,542.0 L277.3,542.7 L277.6,542.0 L277.9,542.0 L278.1,543.3 L278.4,543.4 L278.6,542.4 L278.9,542.4 L279.1,542.3 L279.4,542.2 L279.6,543.0 L279.9,543.7 L280.1,544.0 L280.4,543.2 L280.6,542.0 L280.9,542.2 L281.2,543.0 L281.4,542.7 L281.7,541.9 L281.9,541.8 L282.2,542.2 L282.4,542.8 L282.7,542.7 L282.9,542.4 L283.2,542.7 L283.4,542.4 L283.7,541.7 L284.0,541.5 L284.2,541.3 L284.5,541.1 L284.7,541.5 L285.0,542.1 L285.2,542.5 L285.5,542.4 L285.7,541.9 L286.0,542.2 L286.2,542.3 L286.5,541.6 L286.8,541.6 L287.0,541.5 L287.3,541.4 L287.5,541.8 L287.8,541.8 L288.0,541.6 L288.3,541.5 L288.5,541.0 L288.8,540.6 L289.0,541.3 L289.3,542.0 L289.5,541.4 L289.8,540.3 L290.1,539.7 L290.3,540.4 L290.6,541.3 L290.8,541.1 L291.1,540.5 L291.3,540.6 L291.6,541.1 L291.8,541.1 L292.1,540.6 L292.3,540.0 L292.6,539.7 L292.9,540.5 L293.1,540.9 L293.4,539.9 L293.6,539.0 L293.9,539.1 L294.1,539.4 L294.4,539.6 L294.6,539.3 L294.9,539.0 L295.1,538.7 L295.4,537.6 L295.6,536.9 L295.9,537.5 L296.2,538.7 L296.4,540.2 L296.7,540.4 L296.9,539.0 L297.2,537.5 L297.4,537.6 L297.7,537.4 L297.9,537.1 L298.2,538.1 L298.4,538.0 L298.7,537.3 L298.9,537.3 L299.2,537.0 L299.5,537.4 L299.7,538.0 L300.0,537.4 L300.2,536.8 L300.5,537.9 L300.7,537.9 L301.0,536.0 L301.2,535.8 L301.5,536.1 L301.7,535.6 L302.0,535.5 L302.3,535.0 L302.5,535.2 L302.8,535.2 L303.0,534.6 L303.3,535.4 L303.5,536.3 L303.8,535.7 L304.0,535.9 L304.3,536.8 L304.5,535.9 L304.8,535.0 L305.1,535.5 L305.3,535.9 L305.6,535.6 L305.8,535.2 L306.1,535.5 L306.3,535.6 L306.6,534.8 L306.8,534.8 L307.1,535.3 L307.3,536.2 L307.6,536.8 L307.8,535.9 L308.1,535.3 L308.4,535.1 L308.6,534.2 L308.9,534.3 L309.1,534.6 L309.4,534.9 L309.6,535.5 L309.9,535.2 L310.1,534.9 L310.4,534.4 L310.6,534.6 L310.9,535.6 L311.1,535.9 L311.4,535.0 L311.7,533.9 L311.9,533.6 L312.2,533.6 L312.4,533.4 L312.7,533.6 L312.9,534.0 L313.2,534.4 L313.4,534.5 L313.7,534.6 L313.9,534.9 L314.2,535.1 L314.5,534.9 L314.7,533.9 L315.0,532.9 L315.2,532.7 L315.5,532.6 L315.7,532.5 L316.0,532.1 L316.2,532.2 L316.5,533.0 L316.7,532.8 L317.0,532.5 L317.2,532.9 L317.5,532.5 L317.8,531.6 L318.0,531.2 L318.3,531.4 L318.5,531.5 L318.8,532.2 L319.0,532.5 L319.3,531.6 L319.5,531.3 L319.8,531.8 L320.0,531.8 L320.3,531.8 L320.6,532.0 L320.8,532.0 L321.1,531.0 L321.3,530.4 L321.6,530.6 L321.8,531.4 L322.1,531.9 L322.3,530.4 L322.6,529.6 L322.8,530.0 L323.1,529.9 L323.4,529.7 L323.6,529.6 L323.9,530.2 L324.1,530.6 L324.4,529.8 L324.6,530.0 L324.9,530.8 L325.1,530.3 L325.4,529.7 L325.6,529.5 L325.9,529.7 L326.1,529.7 L326.4,528.8 L326.7,528.9 L326.9,529.8 L327.2,529.2 L327.4,528.7 L327.7,528.6 L327.9,528.3 L328.2,528.7 L328.4,528.9 L328.7,528.8 L328.9,528.4 L329.2,527.4 L329.4,527.1 L329.7,527.9 L330.0,527.7 L330.2,526.4 L330.5,526.9 L330.7,527.6 L331.0,527.4 L331.2,527.8 L331.5,528.4 L331.7,527.6 L332.0,526.7 L332.2,527.2 L332.5,527.2 L332.8,527.1 L333.0,527.5 L333.3,526.8 L333.5,526.2 L333.8,526.7 L334.0,526.8 L334.3,526.8 L334.5,526.5 L334.8,526.0 L335.0,526.7 L335.3,526.9 L335.6,526.1 L335.8,525.9 L336.1,526.1 L336.3,525.9 L336.6,524.6 L336.8,524.1 L337.1,524.9 L337.3,525.1 L337.6,524.8 L337.8,524.3 L338.1,524.3 L338.3,525.1 L338.6,525.1 L338.9,524.7 L339.1,525.5 L339.4,526.3 L339.6,525.7 L339.9,524.3 L340.1,523.4 L340.4,524.1 L340.6,525.0 L340.9,524.7 L341.1,525.3 L341.4,525.3 L341.6,524.2 L341.9,524.3 L342.2,524.9 L342.4,525.0 L342.7,524.7 L342.9,524.6 L343.2,525.0 L343.4,524.8 L343.7,524.2 L343.9,523.0 L344.2,522.0 L344.4,522.5 L344.7,523.6 L345.0,524.1 L345.2,524.1 L345.5,524.0 L345.7,523.4 L346.0,523.6 L346.2,524.9 L346.5,524.8 L346.7,523.1 L347.0,522.6 L347.2,523.2 L347.5,522.5 L347.8,521.6 L348.0,522.2 L348.3,522.7 L348.5,522.6 L348.8,523.0 L349.0,522.4 L349.3,521.3 L349.5,521.8 L349.8,522.4 L350.0,522.2 L350.3,522.5 L350.5,521.9 L350.8,521.0 L351.1,521.6 L351.3,521.8 L351.6,521.4 L351.8,522.0 L352.1,522.9 L352.3,522.0 L352.6,520.9 L352.8,520.1 L353.1,519.8 L353.3,520.9 L353.6,521.3 L353.9,521.4 L354.1,521.5 L354.4,521.3 L354.6,521.6 L354.9,522.1 L355.1,521.9 L355.4,521.8 L355.6,522.2 L355.9,522.0 L356.1,521.8 L356.4,521.8 L356.6,520.9 L356.9,520.3 L357.2,520.8 L357.4,521.4 L357.7,521.2 L357.9,520.5 L358.2,520.3 L358.4,521.5 L358.7,521.8 L358.9,521.2 L359.2,521.4 L359.4,521.8 L359.7,522.2 L359.9,522.4 L360.2,521.8 L360.5,521.3 L360.7,521.2 L361.0,521.1 L361.2,520.9 L361.5,521.3 L361.7,521.4 L362.0,520.9 L362.2,520.8 L362.5,520.4 L362.7,519.8 L363.0,520.1" stroke="#0a6eb8"/>
<path d="M58.0,630.9 L58.3,630.5 L58.5,629.3 L58.8,628.9 L59.0,629.4 L59.3,629.4 L59.5,629.0 L59.8,628.9 L60.0,629.2 L60.3,629.6 L60.5,630.0 L60.8,630.0 L61.0,629.9 L61.3,629.3 L61.6,629.4 L61.8,630.3 L62.1,629.4 L62.3,627.8 L62.6,628.1 L62.8,629.8 L63.1,630.7 L63.3,630.5 L63.6,630.6 L63.8,630.5 L64.1,628.9 L64.4,628.0 L64.6,628.5 L64.9,629.0 L65.1,629.0 L65.4,628.5 L65.6,628.1 L65.9,627.6 L66.1,626.9 L66.4,627.0 L66.6,627.5 L66.9,627.8 L67.2,628.1 L67.4,627.7 L67.7,627.2 L67.9,627.3 L68.2,627.5 L68.4,628.1 L68.7,627.8 L68.9,626.6 L69.2,626.3 L69.4,626.8 L69.7,626.6 L69.9,626.0 L70.2,625.1 L70.5,624.6 L70.7,625.8 L71.0,626.8 L71.2,625.7 L71.5,624.3 L71.7,624.1 L72.0,624.9 L72.2,625.2 L72.5,624.1 L72.7,624.4 L73.0,625.7 L73.2,626.4 L73.5,626.0 L73.8,624.7 L74.0,624.7 L74.3,625.0 L74.5,624.7 L74.8,625.0 L75.0,624.6 L75.3,623.2 L75.5,622.3 L75.8,622.0 L76.0,622.4 L76.3,623.2 L76.6,624.4 L76.8,625.1 L77.1,624.2 L77.3,622.8 L77.6,623.0 L77.8,623.7 L78.1,623.1 L78.3,622.9 L78.6,622.8 L78.8,622.0 L79.1,621.5 L79.3,621.6 L79.6,621.3 L79.9,621.2 L80.1,621.1 L80.4,620.6 L80.6,621.3 L80.9,621.3 L81.1,621.3 L81.4,622.1 L81.6,621.3 L81.9,620.1 L82.1,620.6 L82.4,620.9 L82.7,619.6 L82.9,619.3 L83.2,620.0 L83.4,619.8 L83.7,619.2 L83.9,619.6 L84.2,619.5 L84.4,618.5 L84.7,617.3 L84.9,616.7 L85.2,617.4 L85.5,618.1 L85.7,618.1 L86.0,618.8 L86.2,618.8 L86.5,617.4 L86.7,615.7 L87.0,615.2 L87.2,616.1 L87.5,617.5 L87.7,617.1 L88.0,615.6 L88.2,615.7 L88.5,615.8 L88.8,614.8 L89.0,614.9 L89.3,615.4 L89.5,615.6 L89.8,614.9 L90.0,614.0 L90.3,613.7 L90.5,613.1 L90.8,612.6 L91.0,611.9 L91.3,611.9 L91.5,612.6 L91.8,612.8 L92.1,612.5 L92.3,611.6 L92.6,610.8 L92.8,611.2 L93.1,611.2 L93.3,609.8 L93.6,609.4 L93.8,610.4 L94.1,609.8 L94.3,608.8 L94.6,608.3 L94.9,606.9 L95.1,606.4 L95.4,606.6 L95.6,607.3 L95.9,608.1 L96.1,607.7 L96.4,606.2 L96.6,604.1 L96.9,602.7 L97.1,603.1 L97.4,603.6 L97.7,603.0 L97.9,601.7 L98.2,600.4 L98.4,600.2 L98.7,599.9 L98.9,598.5 L99.2,597.5 L99.4,597.3 L99.7,597.1 L99.9,596.3 L100.2,595.1 L100.4,593.9 L100.7,592.6 L101.0,592.4 L101.2,593.0 L101.5,592.2 L101.7,590.2 L102.0,588.9 L102.2,588.3 L102.5,587.4 L102.7,586.4 L103.0,585.8 L103.2,584.9 L103.5,583.5 L103.8,581.4 L104.0,579.6 L104.3,579.0 L104.5,578.5 L104.8,576.7 L105.0,574.1 L105.3,571.8 L105.5,570.3 L105.8,569.7 L106.0,568.4 L106.3,567.4 L106.5,568.6 L106.8,569.1 L107.1,567.2 L107.3,565.1 L107.6,564.6 L107.8,564.8 L108.1,565.1 L108.3,566.0 L108.6,566.9 L108.8,566.3 L109.1,565.1 L109.3,563.7 L109.6,562.4 L109.8,561.2 L110.1,558.7 L110.4,555.7 L110.6,553.3 L110.9,551.3 L111.1,549.1 L111.4,547.4 L111.6,546.8 L111.9,547.1 L112.1,548.1 L112.4,548.1 L112.6,546.4 L112.9,545.2 L113.2,544.2 L113.4,542.6 L113.7,540.6 L113.9,537.7 L114.2,535.3 L114.4,533.4 L114.7,530.0 L114.9,524.9 L115.2,519.8 L115.4,514.9 L115.7,510.1 L116.0,505.6 L116.2,500.8 L116.5,495.6 L116.7,488.4 L117.0,473.0 L117.2,452.9 L117.5,435.0 L117.7,415.2 L118.0,408.2 L118.2,408.2 L118.5,408.2 L118.7,408.2 L119.0,408.2 L119.3,408.2 L119.5,408.2 L119.8,408.2 L120.0,408.2 L120.3,408.2 L120.5,408.2 L120.8,408.2 L121.0,408.2 L121.3,408.2 L121.5,408.2 L121.8,408.2 L122.0,408.2 L122.3,408.2 L122.6,408.2 L122.8,408.2 L123.1,408.2 L123.3,408.2 L123.6,408.2 L123.8,408.2 L124.1,408.2 L124.3,408.2 L124.6,408.2 L124.8,408.2 L125.1,408.2 L125.4,408.2 L125.6,408.2 L125.9,408.2 L126.1,408.2 L126.4,408.2 L126.6,408.2 L126.9,408.2 L127.1,408.2 L127.4,408.2 L127.6,408.2 L127.9,408.2 L128.2,408.2 L128.4,408.2 L128.7,408.2 L128.9,408.2 L129.2,408.2 L129.4,408.2 L129.7,408.2 L129.9,408.2 L130.2,408.2 L130.4,408.2 L130.7,415.0 L130.9,435.3 L131.2,449.6 L131.5,463.0 L131.7,476.1 L132.0,487.0 L132.2,496.1 L132.5,503.1 L132.7,506.6 L133.0,508.3 L133.2,509.7 L133.5,511.5 L133.7,513.3 L134.0,513.8 L134.2,513.2 L134.5,513.1 L134.8,514.0 L135.0,514.6 L135.3,515.0 L135.5,516.1 L135.8,517.2 L136.0,517.2 L136.3,516.7 L136.5,516.9 L136.8,517.9 L137.0,518.5 L137.3,517.7 L137.6,517.2 L137.8,518.7 L138.1,520.2 L138.3,519.3 L138.6,518.1 L138.8,518.8 L139.1,519.3 L139.3,518.8 L139.6,519.7 L139.8,520.6 L140.1,519.8 L140.3,518.3 L140.6,518.0 L140.9,518.3 L141.1,518.1 L141.4,517.6 L141.6,517.4 L141.9,517.8 L142.1,517.6 L142.4,516.1 L142.6,514.4 L142.9,514.0 L143.1,514.1 L143.4,513.8 L143.7,513.5 L143.9,512.9 L144.2,512.7 L144.4,511.8 L144.7,509.8 L144.9,509.4 L145.2,510.1 L145.4,509.9 L145.7,508.9 L145.9,507.0 L146.2,505.8 L146.4,505.7 L146.7,504.4 L147.0,502.3 L147.2,501.3 L147.5,500.3 L147.7,499.7 L148.0,499.0 L148.2,497.4 L148.5,496.5 L148.7,495.7 L149.0,493.7 L149.2,492.7 L149.5,492.9 L149.8,493.0 L150.0,493.1 L150.3,492.8 L150.5,492.0 L150.8,490.6 L151.0,489.0 L151.3,488.5 L151.5,488.9 L151.8,489.2 L152.0,488.7 L152.3,487.5 L152.6,486.5 L152.8,486.0 L153.1,485.1 L153.3,484.2 L153.6,483.8 L153.8,482.7 L154.1,481.4 L154.3,481.5 L154.6,482.0 L154.8,482.0 L155.1,481.5 L155.3,480.3 L155.6,479.3 L155.9,477.9 L156.1,476.0 L156.4,474.5 L156.6,473.5 L156.9,472.5 L157.1,470.8 L157.4,470.0 L157.6,469.3 L157.9,468.4 L158.1,468.1 L158.4,467.0 L158.7,465.9 L158.9,464.8 L159.2,463.5 L159.4,462.3 L159.7,461.0 L159.9,459.6 L160.2,458.7 L160.4,457.7 L160.7,456.0 L160.9,454.8 L161.2,455.8 L161.4,457.3 L161.7,457.2 L162.0,455.9 L162.2,454.7 L162.5,453.6 L162.7,453.7 L163.0,454.7 L163.2,455.2 L163.5,453.9 L163.7,452.8 L164.0,453.4 L164.2,452.9 L164.5,452.2 L164.8,452.5 L165.0,452.5 L165.3,451.6 L165.5,450.2 L165.8,450.1 L166.0,450.3 L166.3,450.6 L166.5,451.2 L166.8,450.3 L167.0,449.2 L167.3,449.6 L167.5,449.7 L167.8,449.7 L168.1,449.3 L168.3,448.5 L168.6,448.8 L168.8,448.7 L169.1,448.3 L169.3,448.0 L169.6,447.9 L169.8,448.6 L170.1,449.6 L170.3,450.2 L170.6,449.4 L170.8,449.0 L171.1,449.9 L171.4,450.5 L171.6,450.8 L171.9,450.5 L172.1,450.0 L172.4,450.1 L172.6,450.7 L172.9,451.1 L173.1,451.4 L173.4,452.3 L173.6,452.9 L173.9,452.4 L174.2,452.7 L174.4,453.6 L174.7,453.2 L174.9,453.4 L175.2,454.5 L175.4,454.8 L175.7,455.1 L175.9,455.8 L176.2,456.7 L176.4,457.3 L176.7,455.9 L176.9,455.0 L177.2,456.3 L177.5,457.0 L177.7,456.7 L178.0,457.3 L178.2,458.5 L178.5,458.7 L178.7,458.4 L179.0,459.6 L179.2,461.7 L179.5,462.4 L179.7,462.5 L180.0,463.3 L180.3,463.8 L180.5,464.4 L180.8,465.3 L181.0,466.1 L181.3,466.8 L181.5,466.5 L181.8,466.9 L182.0,467.9 L182.3,468.0 L182.5,468.8 L182.8,469.4 L183.1,468.9 L183.3,469.0 L183.6,470.8 L183.8,472.5 L184.1,472.3 L184.3,472.2 L184.6,473.0 L184.8,474.1 L185.1,475.2 L185.3,475.4 L185.6,475.3 L185.8,475.4 L186.1,476.8 L186.4,478.7 L186.6,479.4 L186.9,478.9 L187.1,478.5 L187.4,480.1 L187.6,482.6 L187.9,482.8 L188.1,481.1 L188.4,481.0 L188.6,482.8 L188.9,483.5 L189.2,483.2 L189.4,483.9 L189.7,485.2 L189.9,485.9 L190.2,486.9 L190.4,488.4 L190.7,489.6 L190.9,490.5 L191.2,491.1 L191.4,491.6 L191.7,491.9 L191.9,492.2 L192.2,492.6 L192.5,493.8 L192.7,494.6 L193.0,495.1 L193.2,496.0 L193.5,496.3 L193.7,497.2 L194.0,498.2 L194.2,498.5 L194.5,499.5 L194.7,500.8 L195.0,501.9 L195.2,501.9 L195.5,501.8 L195.8,502.3 L196.0,503.2 L196.3,503.5 L196.5,503.5 L196.8,504.8 L197.0,505.9 L197.3,505.5 L197.5,505.7 L197.8,506.1 L198.0,506.2 L198.3,507.2 L198.6,508.6 L198.8,509.6 L199.1,509.5 L199.3,509.1 L199.6,509.2 L199.8,509.6 L200.1,510.3 L200.3,511.0 L200.6,512.8 L200.8,515.1 L201.1,514.7 L201.3,513.9 L201.6,514.9 L201.9,515.1 L202.1,515.3 L202.4,516.6 L202.6,516.7 L202.9,516.2 L203.1,516.8 L203.4,518.0 L203.6,518.7 L203.9,518.7 L204.1,519.5 L204.4,520.6 L204.7,521.0 L204.9,521.1 L205.2,520.7 L205.4,520.6 L205.7,521.4 L205.9,521.8 L206.2,521.5 L206.4,521.3 L206.7,521.8 L206.9,523.1 L207.2,524.0 L207.4,523.4 L207.7,522.5 L208.0,522.8 L208.2,524.1 L208.5,525.1 L208.7,526.0 L209.0,526.4 L209.2,526.7 L209.5,526.8 L209.7,526.8 L210.0,527.6 L210.2,527.4 L210.5,527.1 L210.8,528.4 L211.0,528.1 L211.3,527.0 L211.5,527.6 L211.8,528.5 L212.0,528.4 L212.3,528.8 L212.5,530.0 L212.8,530.3 L213.0,529.3 L213.3,528.8 L213.6,529.5 L213.8,530.5 L214.1,531.4 L214.3,532.2 L214.6,531.4 L214.8,530.4 L215.1,531.0 L215.3,531.5 L215.6,532.3 L215.8,533.2 L216.1,532.5 L216.3,531.8 L216.6,531.7 L216.9,531.5 L217.1,533.1 L217.4,534.0 L217.6,532.9 L217.9,533.7 L218.1,535.1 L218.4,535.2 L218.6,535.3 L218.9,535.2 L219.1,534.6 L219.4,534.5 L219.7,534.4 L219.9,533.8 L220.2,533.5 L220.4,534.5 L220.7,535.9 L220.9,535.9 L221.2,535.2 L221.4,534.5 L221.7,534.0 L221.9,533.9 L222.2,534.1 L222.4,535.1 L222.7,536.2 L223.0,536.6 L223.2,536.5 L223.5,536.4 L223.7,535.9 L224.0,535.4 L224.2,535.5 L224.5,535.6 L224.7,535.1 L225.0,534.9 L225.2,535.8 L225.5,536.4 L225.8,536.8 L226.0,538.1 L226.3,538.7 L226.5,537.1 L226.8,535.9 L227.0,536.7 L227.3,537.1 L227.5,536.3 L227.8,535.7 L228.0,535.6 L228.3,535.5 L228.5,536.0 L228.8,537.5 L229.1,538.9 L229.3,538.6 L229.6,537.2 L229.8,536.7 L230.1,536.6 L230.3,536.8 L230.6,538.2 L230.8,539.0 L231.1,538.2 L231.3,536.9 L231.6,536.7 L231.8,537.7 L232.1,538.5 L232.4,537.5 L232.6,535.9 L232.9,535.1 L233.1,535.2 L233.4,536.4 L233.6,537.9 L233.9,538.0 L234.1,536.9 L234.4,536.3 L234.6,535.9 L234.9,535.9 L235.2,536.9 L235.4,537.7 L235.7,537.9 L235.9,537.7 L236.2,537.8 L236.4,537.2 L236.7,536.1 L236.9,535.8 L237.2,536.2 L237.4,536.3 L237.7,536.5 L237.9,536.5 L238.2,536.3 L238.5,537.2 L238.7,538.3 L239.0,537.6 L239.2,536.6 L239.5,536.4 L239.7,537.1 L240.0,538.1 L240.2,538.4 L240.5,537.9 L240.7,536.9 L241.0,537.0 L241.3,537.1 L241.5,536.0 L241.8,535.9 L242.0,535.6 L242.3,535.3 L242.5,535.9 L242.8,536.0 L243.0,534.8 L243.3,532.8 L243.5,531.6 L243.8,531.6 L244.1,532.0 L244.3,532.3 L244.6,531.4 L244.8,531.2 L245.1,532.9 L245.3,534.3 L245.6,535.1 L245.8,535.4 L246.1,535.7 L246.3,536.2 L246.6,536.4 L246.8,536.5 L247.1,536.2 L247.4,534.9 L247.6,534.9 L247.9,536.9 L248.1,538.4 L248.4,537.3 L248.6,535.7 L248.9,535.7 L249.1,535.8 L249.4,535.3 L249.6,534.9 L249.9,535.3 L250.2,535.8 L250.4,535.5 L250.7,535.9 L250.9,535.3 L251.2,534.7 L251.4,536.2 L251.7,536.5 L251.9,535.7 L252.2,536.5 L252.4,536.7 L252.7,536.2 L252.9,536.1 L253.2,536.5 L253.5,536.9 L253.7,535.6 L254.0,534.4 L254.2,535.6 L254.5,536.4 L254.7,535.7 L255.0,535.4 L255.2,535.5 L255.5,535.8 L255.7,535.6 L256.0,534.9 L256.2,534.7 L256.5,535.3 L256.8,535.7 L257.0,535.8 L257.3,535.8 L257.5,536.0 L257.8,535.7 L258.0,535.0 L258.3,535.4 L258.5,535.7 L258.8,534.3 L259.0,534.4 L259.3,536.8 L259.6,537.7 L259.8,536.6 L260.1,535.7 L260.3,535.3 L260.6,534.0 L260.8,533.3 L261.1,533.5 L261.3,533.1 L261.6,533.5 L261.8,533.6 L262.1,533.2 L262.4,534.4 L262.6,534.8 L262.9,534.0 L263.1,535.0 L263.4,536.1 L263.6,536.1 L263.9,535.8 L264.1,534.2 L264.4,533.0 L264.6,533.3 L264.9,533.7 L265.1,534.1 L265.4,533.8 L265.7,533.6 L265.9,534.2 L266.2,534.7 L266.4,534.7 L266.7,534.6 L266.9,533.9 L267.2,532.9 L267.4,532.6 L267.7,532.5 L267.9,531.9 L268.2,531.8 L268.4,532.4 L268.7,533.1 L269.0,534.3 L269.2,534.2 L269.5,532.9 L269.7,532.9 L270.0,533.1 L270.2,531.7 L270.5,531.4 L270.7,532.3 L271.0,532.5 L271.2,532.8 L271.5,533.3 L271.8,532.3 L272.0,531.9 L272.3,533.8 L272.5,534.5 L272.8,533.9 L273.0,533.8 L273.3,533.4 L273.5,532.2 L273.8,531.6 L274.0,531.5 L274.3,532.0 L274.6,532.9 L274.8,532.7 L275.1,532.3 L275.3,533.0 L275.6,533.3 L275.8,532.2 L276.1,531.6 L276.3,531.6 L276.6,531.9 L276.8,532.0 L277.1,531.4 L277.3,532.2 L277.6,533.3 L277.9,532.6 L278.1,531.0 L278.4,530.3 L278.6,531.0 L278.9,532.0 L279.1,532.2 L279.4,531.6 L279.6,531.3 L279.9,531.7 L280.1,532.6 L280.4,532.8 L280.6,531.7 L280.9,531.4 L281.2,530.9 L281.4,530.4 L281.7,531.0 L281.9,531.4 L282.2,531.6 L282.4,531.2 L282.7,530.3 L282.9,530.6 L283.2,531.9 L283.4,532.5 L283.7,532.3 L284.0,531.9 L284.2,530.4 L284.5,530.1 L284.7,531.5 L285.0,531.8 L285.2,531.1 L285.5,530.5 L285.7,530.2 L286.0,530.2 L286.2,530.1 L286.5,529.9 L286.8,529.5 L287.0,529.5 L287.3,530.9 L287.5,530.9 L287.8,528.8 L288.0,528.1 L288.3,528.9 L288.5,529.3 L288.8,528.9 L289.0,528.7 L289.3,528.7 L289.5,527.8 L289.8,528.3 L290.1,528.9 L290.3,527.7 L290.6,527.6 L290.8,528.6 L291.1,529.0 L291.3,529.4 L291.6,529.7 L291.8,528.8 L292.1,528.1 L292.3,528.1 L292.6,527.7 L292.9,527.7 L293.1,527.9 L293.4,527.8 L293.6,527.4 L293.9,526.4 L294.1,526.4 L294.4,526.9 L294.6,527.0 L294.9,526.7 L295.1,526.3 L295.4,525.9 L295.6,525.1 L295.9,524.6 L296.2,524.3 L296.4,523.9 L296.7,524.9 L296.9,526.7 L297.2,526.1 L297.4,524.6 L297.7,524.6 L297.9,525.2 L298.2,526.1 L298.4,525.6 L298.7,524.8 L298.9,524.7 L299.2,524.3 L299.5,524.6 L299.7,525.3 L300.0,524.6 L300.2,522.9 L300.5,522.5 L300.7,523.5 L301.0,523.9 L301.2,524.3 L301.5,524.1 L301.7,522.8 L302.0,522.0 L302.3,522.3 L302.5,522.2 L302.8,521.4 L303.0,521.7 L303.3,522.7 L303.5,523.2 L303.8,523.2 L304.0,522.4 L304.3,522.2 L304.5,522.5 L304.8,521.9 L305.1,520.9 L305.3,520.2 L305.6,520.4 L305.8,520.9 L306.1,521.0 L306.3,521.2 L306.6,521.0 L306.8,520.4 L307.1,519.7 L307.3,519.7 L307.6,520.7 L307.8,520.3 L308.1,519.5 L308.4,519.6 L308.6,519.2 L308.9,519.0 L309.1,519.5 L309.4,519.5 L309.6,518.3 L309.9,517.3 L310.1,517.5 L310.4,517.4 L310.6,517.9 L310.9,519.7 L311.1,519.7 L311.4,518.1 L311.7,517.7 L311.9,517.9 L312.2,518.1 L312.4,517.9 L312.7,517.5 L312.9,517.4 L313.2,517.5 L313.4,517.6 L313.7,518.2 L313.9,518.0 L314.2,516.2 L314.5,514.9 L314.7,515.4 L315.0,516.1 L315.2,516.3 L315.5,516.9 L315.7,517.1 L316.0,516.2 L316.2,514.7 L316.5,514.5 L316.7,515.1 L317.0,515.4 L317.2,515.3 L317.5,514.8 L317.8,514.5 L318.0,514.7 L318.3,514.9 L318.5,514.0 L318.8,513.2 L319.0,512.8 L319.3,512.4 L319.5,513.1 L319.8,513.7 L320.0,513.5 L320.3,512.9 L320.6,512.1 L320.8,511.7 L321.1,511.9 L321.3,512.5 L321.6,512.5 L321.8,511.6 L322.1,510.1 L322.3,509.0 L322.6,509.0 L322.8,508.8 L323.1,508.2 L323.4,508.7 L323.6,509.2 L323.9,508.8 L324.1,508.8 L324.4,508.6 L324.6,507.3 L324.9,506.6 L325.1,506.6 L325.4,506.8 L325.6,507.4 L325.9,507.4 L326.1,507.2 L326.4,506.9 L326.7,506.8 L326.9,506.3 L327.2,505.3 L327.4,504.4 L327.7,504.6 L327.9,505.7 L328.2,505.5 L328.4,504.9 L328.7,505.9 L328.9,507.2 L329.2,507.5 L329.4,506.6 L329.7,505.0 L330.0,503.9 L330.2,503.9 L330.5,504.2 L330.7,505.3 L331.0,505.3 L331.2,504.2 L331.5,503.9 L331.7,504.0 L332.0,504.4 L332.2,504.9 L332.5,504.0 L332.8,503.0 L333.0,502.4 L333.3,501.9 L333.5,501.9 L333.8,502.2 L334.0,502.1 L334.3,502.1 L334.5,501.8 L334.8,501.9 L335.0,502.0 L335.3,500.9 L335.6,500.4 L335.8,500.9 L336.1,500.9 L336.3,501.6 L336.6,503.5 L336.8,503.0 L337.1,500.4 L337.3,500.0 L337.6,501.5 L337.8,501.9 L338.1,501.3 L338.3,501.0 L338.6,500.6 L338.9,499.8 L339.1,499.7 L339.4,500.1 L339.6,499.6 L339.9,499.6 L340.1,500.5 L340.4,500.5 L340.6,499.6 L340.9,498.8 L341.1,498.7 L341.4,498.9 L341.6,499.5 L341.9,500.1 L342.2,500.1 L342.4,499.9 L342.7,499.0 L342.9,497.7 L343.2,498.6 L343.4,500.4 L343.7,500.3 L343.9,498.9 L344.2,498.1 L344.4,497.9 L344.7,498.0 L345.0,497.2 L345.2,496.5 L345.5,497.0 L345.7,496.9 L346.0,496.9 L346.2,498.3 L346.5,498.9 L346.7,497.7 L347.0,496.5 L347.2,496.3 L347.5,496.9 L347.8,497.7 L348.0,497.6 L348.3,496.9 L348.5,497.4 L348.8,497.7 L349.0,496.4 L349.3,495.8 L349.5,496.2 L349.8,496.3 L350.0,495.5 L350.3,494.9 L350.5,494.7 L350.8,494.9 L351.1,495.5 L351.3,495.3 L351.6,494.8 L351.8,493.8 L352.1,492.8 L352.3,492.7 L352.6,492.7 L352.8,493.1 L353.1,492.8 L353.3,490.6 L353.6,489.7 L353.9,490.4 L354.1,491.4 L354.4,492.8 L354.6,493.2 L354.9,492.0 L355.1,490.9 L355.4,490.9 L355.6,491.3 L355.9,490.9 L356.1,491.0 L356.4,491.9 L356.6,491.0 L356.9,490.6 L357.2,491.5 L357.4,491.4 L357.7,491.2 L357.9,490.8 L358.2,490.0 L358.4,489.6 L358.7,489.6 L358.9,489.2 L359.2,489.1 L359.4,490.6 L359.7,491.4 L359.9,491.0 L360.2,490.4 L360.5,488.8 L360.7,488.6 L361.0,490.4 L361.2,491.6 L361.5,491.0 L361.7,489.6 L362.0,489.4 L362.2,490.0 L362.5,490.3 L362.7,490.3 L363.0,490.8" stroke="#d4541c"/>
</g>
<path d="M86.2,55.8V355.2M100.3,62.5V355.2M111.5,57.8V355.2M125.9,13.0V355.2M177.9,64.3V355.2M189.2,58.0V355.2M220.9,49.5V355.2M245.4,58.0V355.2M313.2,50.8V355.2M324.3,43.0V355.2M374.4,35.9V355.2" stroke="#d2b4f2" stroke-width="2.6" stroke-opacity="0.6" fill="none"/>
<path d="M86.2,55.8V355.2M100.3,62.5V355.2M111.5,57.8V355.2M125.9,13.0V355.2M177.9,64.3V355.2M189.2,58.0V355.2M220.9,49.5V355.2M245.4,58.0V355.2M313.2,50.8V355.2M324.3,43.0V355.2M374.4,35.9V355.2" stroke="#3b2d66" stroke-width="1.35" stroke-dasharray="1.15 1.7" fill="none"/>
<path d="M80.4,42.2H92.0L86.2,54.8ZM94.5,48.9H106.1L100.3,61.5ZM105.7,44.2H117.3L111.5,56.8ZM120.1,-0.6H131.7L125.9,12.0ZM172.1,50.7H183.7L177.9,63.3ZM183.4,44.4H195.0L189.2,57.0ZM215.1,35.9H226.7L220.9,48.5ZM239.6,44.4H251.2L245.4,57.0ZM307.4,37.2H319.0L313.2,49.8ZM318.5,29.4H330.1L324.3,42.0ZM368.6,22.3H380.2L374.4,34.9Z" fill="#6c2cae" stroke="#3e1478" stroke-width="0.7" stroke-linejoin="round"/>
<path d="M146.50,39.90L146.50,44.90M148.67,41.15L144.33,43.65M144.33,41.15L148.67,43.65" stroke="#d42028" stroke-width="1.5" stroke-linecap="round" fill="none"/>
<path d="M396.10,22.40L396.10,27.40M398.27,23.65L393.93,26.15M393.93,23.65L398.27,26.15" stroke="#d42028" stroke-width="1.5" stroke-linecap="round" fill="none"/>
<path d="M81.36,355.2v-3.5M81.36,12.0v3.5M125.49,355.2v-3.5M125.49,12.0v3.5M169.61,355.2v-3.5M169.61,12.0v3.5M213.74,355.2v-3.5M213.74,12.0v3.5M257.86,355.2v-3.5M257.86,12.0v3.5M301.99,355.2v-3.5M301.99,12.0v3.5M346.11,355.2v-3.5M346.11,12.0v3.5M390.24,355.2v-3.5M390.24,12.0v3.5M59.3,355.20h3.5M412.3,355.20h-3.5M59.3,320.88h3.5M412.3,320.88h-3.5M59.3,286.56h3.5M412.3,286.56h-3.5M59.3,252.24h3.5M412.3,252.24h-3.5M59.3,217.92h3.5M412.3,217.92h-3.5M59.3,183.60h3.5M412.3,183.60h-3.5M59.3,149.28h3.5M412.3,149.28h-3.5M59.3,114.96h3.5M412.3,114.96h-3.5M59.3,80.64h3.5M412.3,80.64h-3.5M59.3,46.32h3.5M412.3,46.32h-3.5M59.3,12.00h3.5M412.3,12.00h-3.5M58.00,751.3v-3M58.00,445.0v3M108.83,751.3v-3M108.83,445.0v3M159.67,751.3v-3M159.67,445.0v3M210.50,751.3v-3M210.50,445.0v3M261.33,751.3v-3M261.33,445.0v3M312.17,751.3v-3M312.17,445.0v3M363.00,751.3v-3M363.00,445.0v3M58.0,751.30h3M363.0,751.30h-3M58.0,720.67h3M363.0,720.67h-3M58.0,690.04h3M363.0,690.04h-3M58.0,659.41h3M363.0,659.41h-3M58.0,628.78h3M363.0,628.78h-3M58.0,598.15h3M363.0,598.15h-3M58.0,567.52h3M363.0,567.52h-3M58.0,536.89h3M363.0,536.89h-3M58.0,506.26h3M363.0,506.26h-3M58.0,475.63h3M363.0,475.63h-3M58.0,445.00h3M363.0,445.00h-3" stroke="#6e6e6e" stroke-width="0.8" fill="none"/>
<rect x="59.3" y="12.0" width="353.0" height="343.2" fill="none" stroke="#6e6e6e" stroke-width="1"/>
<rect x="58.0" y="445.0" width="305.0" height="306.3" fill="none" stroke="#6e6e6e" stroke-width="1"/>
<text x="54.4" y="360.5" text-anchor="end" style="font-size:12.6px">0</text>
<text x="54.4" y="326.2" text-anchor="end" style="font-size:12.6px">500</text>
<text x="54.4" y="291.9" text-anchor="end" style="font-size:12.6px">1000</text>
<text x="54.4" y="257.5" text-anchor="end" style="font-size:12.6px">1500</text>
<text x="54.4" y="223.2" text-anchor="end" style="font-size:12.6px">2000</text>
<text x="54.4" y="188.9" text-anchor="end" style="font-size:12.6px">2500</text>
<text x="54.4" y="154.6" text-anchor="end" style="font-size:12.6px">3000</text>
<text x="54.4" y="120.3" text-anchor="end" style="font-size:12.6px">3500</text>
<text x="54.4" y="85.9" text-anchor="end" style="font-size:12.6px">4000</text>
<text x="54.4" y="51.6" text-anchor="end" style="font-size:12.6px">4500</text>
<text x="54.4" y="17.3" text-anchor="end" style="font-size:12.6px">5000</text>
<text x="81.4" y="373.4" text-anchor="middle" style="font-size:12.6px">100</text>
<text x="125.5" y="373.4" text-anchor="middle" style="font-size:12.6px">200</text>
<text x="169.6" y="373.4" text-anchor="middle" style="font-size:12.6px">300</text>
<text x="213.7" y="373.4" text-anchor="middle" style="font-size:12.6px">400</text>
<text x="257.9" y="373.4" text-anchor="middle" style="font-size:12.6px">500</text>
<text x="302.0" y="373.4" text-anchor="middle" style="font-size:12.6px">600</text>
<text x="346.1" y="373.4" text-anchor="middle" style="font-size:12.6px">700</text>
<text x="390.2" y="373.4" text-anchor="middle" style="font-size:12.6px">800</text>
<text x="235" y="395" text-anchor="middle" style="font-size:14.3px">Wavenumber [cm<tspan dy="-6.5" style="font-size:10px">-1</tspan><tspan dy="6.5">]</tspan></text>
<text transform="translate(20.6,183.2) rotate(-90)" text-anchor="middle" style="font-size:14px">Intensity [a.u.]</text>
<text x="0.2" y="26.4" style="font-size:25.6px;font-weight:bold;fill:#000">a</text>
<text x="15.5" y="27.8" style="font-size:27.5px;font-weight:bold;fill:#000">)</text>
<text x="52.9" y="756.1" text-anchor="end" style="font-size:11.3px">0</text>
<text x="52.9" y="725.5" text-anchor="end" style="font-size:11.3px">500</text>
<text x="52.9" y="694.8" text-anchor="end" style="font-size:11.3px">1000</text>
<text x="52.9" y="664.2" text-anchor="end" style="font-size:11.3px">1500</text>
<text x="52.9" y="633.6" text-anchor="end" style="font-size:11.3px">2000</text>
<text x="52.9" y="602.9" text-anchor="end" style="font-size:11.3px">2500</text>
<text x="52.9" y="572.3" text-anchor="end" style="font-size:11.3px">3000</text>
<text x="52.9" y="541.7" text-anchor="end" style="font-size:11.3px">3500</text>
<text x="52.9" y="511.1" text-anchor="end" style="font-size:11.3px">4000</text>
<text x="52.9" y="480.4" text-anchor="end" style="font-size:11.3px">4500</text>
<text x="52.9" y="449.8" text-anchor="end" style="font-size:11.3px">5000</text>
<text x="58.0" y="768" text-anchor="middle" style="font-size:11.3px">1200</text>
<text x="108.8" y="768" text-anchor="middle" style="font-size:11.3px">1300</text>
<text x="159.7" y="768" text-anchor="middle" style="font-size:11.3px">1400</text>
<text x="210.5" y="768" text-anchor="middle" style="font-size:11.3px">1500</text>
<text x="261.3" y="768" text-anchor="middle" style="font-size:11.3px">1600</text>
<text x="312.2" y="768" text-anchor="middle" style="font-size:11.3px">1700</text>
<text x="363.0" y="768" text-anchor="middle" style="font-size:11.3px">1800</text>
<text x="210" y="787.2" text-anchor="middle" style="font-size:13px">Wavenumber [cm<tspan dy="-6" style="font-size:9px">-1</tspan><tspan dy="6">]</tspan></text>
<text transform="translate(22,597.7) rotate(-90)" text-anchor="middle" style="font-size:12.6px">Intensity [a.u.]</text>
<text x="3.0" y="457.9" style="font-size:24.5px;font-weight:bold;fill:#000">b</text>
<text x="18.2" y="458.3" style="font-size:24.5px;font-weight:bold;fill:#000">)</text>
<path d="M124.10,428.30L125.57,432.38L129.90,432.51L126.48,435.17L127.69,439.34L124.10,436.90L120.51,439.34L121.72,435.17L118.30,432.51L122.63,432.38ZM169.80,428.30L171.27,432.38L175.60,432.51L172.18,435.17L173.39,439.34L169.80,436.90L166.21,439.34L167.42,435.17L164.00,432.51L168.33,432.38Z" fill="#000"/>
<path d="M268.0,518V751.3M325.6,495V751.3" stroke="#f08080" stroke-width="2.2" stroke-opacity="0.35" stroke-dasharray="1.4 1.5" fill="none"/>
<path d="M268.0,518V751.3M325.6,495V751.3" stroke="#d82020" stroke-width="1.3" stroke-dasharray="1.2 1.7" fill="none"/>
<text x="268.5" y="517.3" text-anchor="middle" style="font-size:13.5px;font-weight:bold;fill:#d42030;stroke:#d42030;stroke-width:0.1px">?</text>
<text x="326.0" y="494.0" text-anchor="middle" style="font-size:13.5px;font-weight:bold;fill:#d42030;stroke:#d42030;stroke-width:0.1px">?</text>
<rect x="421" y="12.9" width="97.2" height="53.4" fill="#fff" stroke="#4d4d4d" stroke-width="1"/>
<path d="M428.9,26.1H440.5L434.7,36.6Z" fill="#6c2cae" stroke="#3e1478" stroke-width="0.7" stroke-linejoin="round"/>
<path d="M434.60,46.40L434.60,50.80M436.51,47.50L432.69,49.70M432.69,47.50L436.51,49.70" stroke="#d42028" stroke-width="1.5" stroke-linecap="round" fill="none"/>
<text x="444.6" y="38.5" style="font-size:17.6px;fill:#000">β-Ga<tspan dy="3.2" style="font-size:12px">2</tspan><tspan dy="-3.2">O</tspan><tspan dy="3.2" style="font-size:12px">3</tspan></text>
<text x="445" y="57" style="font-size:17.6px;fill:#000">Artifact</text>
<rect x="420.5" y="122.8" width="93.7" height="121.7" fill="#fff" stroke="#4d4d4d" stroke-width="1"/>
<path d="M422.8,130.5H448.8" stroke="#000000" stroke-width="1.8"/>
<text x="452.3" y="135.3" style="font-size:11.3px;fill:#000">Location 1</text>
<path d="M422.8,145.7H448.8" stroke="#dd14dd" stroke-width="1.8"/>
<text x="452.3" y="150.5" style="font-size:11.3px;fill:#000">Location 2</text>
<path d="M422.8,160.9H448.8" stroke="#18dcdc" stroke-width="1.8"/>
<text x="452.3" y="165.7" style="font-size:11.3px;fill:#000">Location 5</text>
<path d="M422.8,176.1H448.8" stroke="#e01414" stroke-width="1.8"/>
<text x="452.3" y="180.9" style="font-size:11.3px;fill:#000">Location 6</text>
<path d="M422.8,191.3H448.8" stroke="#0c0cd8" stroke-width="1.8"/>
<text x="452.3" y="196.1" style="font-size:11.3px;fill:#000">Location 7</text>
<path d="M422.8,206.5H448.8" stroke="#14e014" stroke-width="1.8"/>
<text x="452.3" y="211.3" style="font-size:11.3px;fill:#000">Location 8</text>
<path d="M422.8,221.7H448.8" stroke="#0a6eb8" stroke-width="1.8"/>
<text x="452.3" y="226.5" style="font-size:11.3px;fill:#000">Location 9</text>
<path d="M422.8,236.9H448.8" stroke="#d4541c" stroke-width="1.8"/>
<text x="452.3" y="241.7" style="font-size:11.3px;fill:#000">Location 10</text>
<rect x="379.7" y="444.2" width="96.5" height="48.4" fill="#fff" stroke="#4d4d4d" stroke-width="1"/>
<path d="M393.70,454.00L395.11,457.86L399.22,458.01L395.98,460.54L397.11,464.49L393.70,462.20L390.29,464.49L391.42,460.54L388.18,458.01L392.29,457.86Z" fill="#000"/>
<text x="402.8" y="464.2" style="font-size:16.6px;fill:#000">Diamond</text>
<text x="393.7" y="484" text-anchor="middle" style="font-size:13px;font-weight:bold;fill:#d42030;stroke:#d42030;stroke-width:0.1px">?</text>
<text x="402.8" y="483.9" style="font-size:16.6px;fill:#000">Unknown</text>
<rect x="382" y="542" width="85.4" height="111.5" fill="#fff" stroke="#4d4d4d" stroke-width="1"/>
<path d="M385,550.3H408" stroke="#000000" stroke-width="1.4"/>
<text x="411" y="554.2" style="font-size:10.2px;fill:#000">Location 1</text>
<path d="M385,563.9H408" stroke="#dd14dd" stroke-width="1.4"/>
<text x="411" y="567.8" style="font-size:10.2px;fill:#000">Location 2</text>
<path d="M385,577.5H408" stroke="#18dcdc" stroke-width="1.4"/>
<text x="411" y="581.4" style="font-size:10.2px;fill:#000">Location 5</text>
<path d="M385,591.1H408" stroke="#e01414" stroke-width="1.4"/>
<text x="411" y="595.0" style="font-size:10.2px;fill:#000">Location 6</text>
<path d="M385,604.7H408" stroke="#0c0cd8" stroke-width="1.4"/>
<text x="411" y="608.6" style="font-size:10.2px;fill:#000">Location 7</text>
<path d="M385,618.3H408" stroke="#14e014" stroke-width="1.4"/>
<text x="411" y="622.2" style="font-size:10.2px;fill:#000">Location 8</text>
<path d="M385,631.9H408" stroke="#0a6eb8" stroke-width="1.4"/>
<text x="411" y="635.8" style="font-size:10.2px;fill:#000">Location 9</text>
<path d="M385,645.5H408" stroke="#d4541c" stroke-width="1.4"/>
<text x="411" y="649.4" style="font-size:10.2px;fill:#000">Location 10</text>
</svg></body></html>
